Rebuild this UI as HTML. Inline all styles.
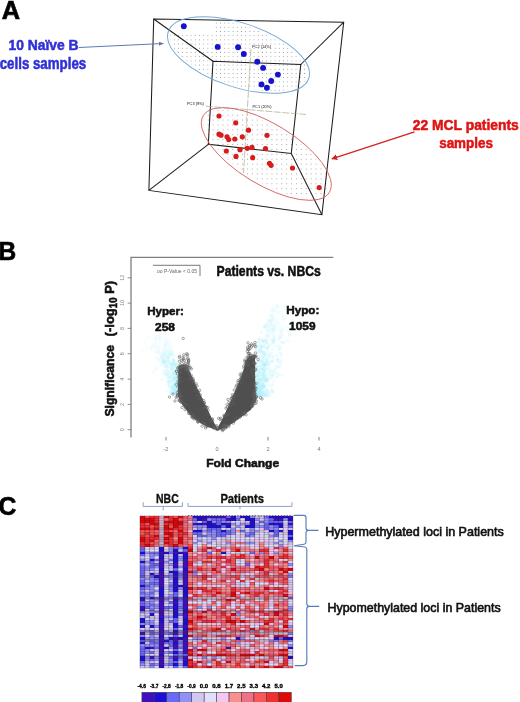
<!DOCTYPE html>
<html><head><meta charset="utf-8"><style>
html,body{margin:0;padding:0;background:#fff;width:520px;height:702px;overflow:hidden}
svg{display:block;filter:blur(0.3px)}
</style></head><body>
<svg width="520" height="702" viewBox="0 0 520 702" font-family="Liberation Sans, sans-serif">
<text x="1.7" y="18.6" font-size="26" font-weight="bold" fill="#000" stroke="#000" stroke-width="0.7" textLength="18.3" lengthAdjust="spacingAndGlyphs">A</text>
<defs><pattern id="dots" x="0" y="0" width="4.2" height="4.2" patternUnits="userSpaceOnUse"><rect x="1.6" y="1.6" width="0.9" height="0.9" fill="#999999"/></pattern><pattern id="dots2" x="0" y="0" width="4.9" height="4.9" patternUnits="userSpaceOnUse"><rect x="2" y="2" width="0.9" height="0.9" fill="#999999"/></pattern><clipPath id="cb"><ellipse cx="238.5" cy="55" rx="72" ry="30" transform="rotate(18.3 238.5 55)"/></clipPath><clipPath id="cr"><ellipse cx="266.3" cy="153.75" rx="71.5" ry="28" transform="rotate(31.35 266.3 153.75)"/></clipPath><marker id="ab" markerWidth="5" markerHeight="4" refX="4.5" refY="2" orient="auto" markerUnits="userSpaceOnUse"><path d="M0,0 L5,2 L0,4 z" fill="#5a7cb4"/></marker><marker id="ar" markerWidth="6" markerHeight="6" refX="5.5" refY="3" orient="auto" markerUnits="userSpaceOnUse"><path d="M0,0 L6,3 L0,6 z" fill="#d42020"/></marker></defs>
<path d="M150,34 L213,34 L213,10 L320,10 L320,105 L150,105 Z" fill="url(#dots)" clip-path="url(#cb)"/>
<rect x="190" y="100" width="150" height="110" fill="url(#dots2)" clip-path="url(#cr)"/>
<g fill="none" stroke="#1c1c1c" stroke-width="1.05">
<polygon points="153.7,19 343.7,22.2 321.9,214.7 148.9,190.4"/>
<polygon points="213,61.3 300.8,64.5 291.3,153.4 208.3,144.3"/>
<line x1="153.7" y1="19" x2="213" y2="61.3"/>
<line x1="343.7" y1="22.2" x2="300.8" y2="64.5"/>
<line x1="321.9" y1="214.7" x2="291.3" y2="153.4"/>
<line x1="148.9" y1="190.4" x2="208.3" y2="144.3"/>
</g>
<g stroke="#a8a888" stroke-width="0.7" stroke-dasharray="7,1.5" fill="none"><line x1="251" y1="49" x2="243.5" y2="173"/><line x1="206" y1="106.2" x2="306" y2="114.5"/></g>
<g font-size="3.9" fill="#111" font-family="Liberation Sans, sans-serif">
<text x="252" y="48">PC2 (14%)</text>
<text x="252.5" y="107.5">PC1 (20%)</text>
<text x="187" y="104.8">PC3 (9%)</text>
</g>
<ellipse cx="238.5" cy="55" rx="74" ry="32" transform="rotate(18.3 238.5 55)" fill="none" stroke="#78a8d4" stroke-width="0.95"/>
<ellipse cx="266.3" cy="154" rx="73.8" ry="30.4" transform="rotate(31.35 266.3 154)" fill="none" stroke="#d46060" stroke-width="0.85"/>
<circle cx="183.8" cy="26.2" r="2.95" fill="#1414d0"/>
<circle cx="217.7" cy="46.9" r="2.95" fill="#1414d0"/>
<circle cx="238.1" cy="47.3" r="2.95" fill="#1414d0"/>
<circle cx="243.8" cy="54" r="2.95" fill="#1414d0"/>
<circle cx="257.3" cy="61.7" r="2.95" fill="#1414d0"/>
<circle cx="263.1" cy="67.9" r="2.95" fill="#1414d0"/>
<circle cx="277.9" cy="74.6" r="2.95" fill="#1414d0"/>
<circle cx="271.2" cy="81" r="2.95" fill="#1414d0"/>
<circle cx="261.5" cy="84.4" r="2.95" fill="#1414d0"/>
<circle cx="266.9" cy="87.7" r="2.95" fill="#1414d0"/>
<circle cx="219" cy="116" r="2.6" fill="#d61c1c"/>
<circle cx="235.7" cy="122.8" r="2.6" fill="#d61c1c"/>
<circle cx="248.5" cy="130.2" r="2.6" fill="#d61c1c"/>
<circle cx="219" cy="134.2" r="2.6" fill="#d61c1c"/>
<circle cx="221" cy="135.2" r="2.6" fill="#d61c1c"/>
<circle cx="227" cy="136.8" r="2.6" fill="#d61c1c"/>
<circle cx="228.7" cy="139.6" r="2.6" fill="#d61c1c"/>
<circle cx="234.8" cy="139" r="2.6" fill="#d61c1c"/>
<circle cx="242.3" cy="136.8" r="2.6" fill="#d61c1c"/>
<circle cx="267" cy="135.3" r="2.6" fill="#d61c1c"/>
<circle cx="226.3" cy="151" r="2.6" fill="#d61c1c"/>
<circle cx="240" cy="149.7" r="2.6" fill="#d61c1c"/>
<circle cx="247.3" cy="148.3" r="2.6" fill="#d61c1c"/>
<circle cx="252" cy="147.4" r="2.6" fill="#d61c1c"/>
<circle cx="265.5" cy="148.6" r="2.6" fill="#d61c1c"/>
<circle cx="236" cy="156.4" r="2.6" fill="#d61c1c"/>
<circle cx="252.7" cy="157.7" r="2.6" fill="#d61c1c"/>
<circle cx="269.5" cy="163.3" r="2.6" fill="#d61c1c"/>
<circle cx="271.1" cy="165.3" r="2.6" fill="#d61c1c"/>
<circle cx="292.5" cy="168" r="2.6" fill="#d61c1c"/>
<circle cx="319.2" cy="187.6" r="2.6" fill="#d61c1c"/>
<line x1="78.7" y1="47.4" x2="163.3" y2="43.5" stroke="#5a7cb4" stroke-width="1.05" marker-end="url(#ab)"/>
<line x1="414.5" y1="131.8" x2="331.8" y2="158.8" stroke="#d42020" stroke-width="1.25" marker-end="url(#ar)"/>
<g font-weight="bold" fill="#3030d6" stroke="#3030d6" stroke-width="0.55">
<text x="8.5" y="50.2" font-size="15.4" textLength="70.1" lengthAdjust="spacingAndGlyphs">10 Na&#239;ve B</text>
<text x="-0.3" y="69.1" font-size="15.6" textLength="86.5" lengthAdjust="spacingAndGlyphs">cells samples</text>
</g>
<g font-weight="bold" fill="#e01414" stroke="#e01414" stroke-width="0.55">
<text x="412.8" y="129.5" font-size="14.4" textLength="106" lengthAdjust="spacingAndGlyphs">22 MCL patients</text>
<text x="439.2" y="148.2" font-size="14" textLength="53.7" lengthAdjust="spacingAndGlyphs">samples</text>
</g>
<text x="-1.5" y="260" font-size="25.5" font-weight="bold" fill="#000" stroke="#000" stroke-width="0.7" textLength="17.7" lengthAdjust="spacingAndGlyphs">B</text>
<path d="M131,437.5 V257.4 H333.3" fill="none" stroke="#808080" stroke-width="1.3"/>
<line x1="127.6" y1="429.7" x2="131" y2="429.7" stroke="#777" stroke-width="0.8"/>
<text transform="translate(124.2 429.7) rotate(-90)" font-size="5.4" fill="#888" text-anchor="middle">0</text>
<line x1="127.6" y1="404.4" x2="131" y2="404.4" stroke="#777" stroke-width="0.8"/>
<text transform="translate(124.2 404.4) rotate(-90)" font-size="5.4" fill="#888" text-anchor="middle">2</text>
<line x1="127.6" y1="379.1" x2="131" y2="379.1" stroke="#777" stroke-width="0.8"/>
<text transform="translate(124.2 379.1) rotate(-90)" font-size="5.4" fill="#888" text-anchor="middle">4</text>
<line x1="127.6" y1="353.7" x2="131" y2="353.7" stroke="#777" stroke-width="0.8"/>
<text transform="translate(124.2 353.7) rotate(-90)" font-size="5.4" fill="#888" text-anchor="middle">6</text>
<line x1="127.6" y1="328.4" x2="131" y2="328.4" stroke="#777" stroke-width="0.8"/>
<text transform="translate(124.2 328.4) rotate(-90)" font-size="5.4" fill="#888" text-anchor="middle">8</text>
<line x1="127.6" y1="303.1" x2="131" y2="303.1" stroke="#777" stroke-width="0.8"/>
<text transform="translate(124.2 303.1) rotate(-90)" font-size="5.4" fill="#888" text-anchor="middle">10</text>
<line x1="127.6" y1="277.8" x2="131" y2="277.8" stroke="#777" stroke-width="0.8"/>
<text transform="translate(124.2 277.8) rotate(-90)" font-size="5.4" fill="#888" text-anchor="middle">12</text>
<line x1="166" y1="437" x2="166" y2="440.5" stroke="#666" stroke-width="0.8"/>
<text x="166" y="450.6" font-size="5.6" fill="#777" text-anchor="middle">-2</text>
<text x="217" y="450.6" font-size="5.6" fill="#777" text-anchor="middle">0</text>
<line x1="268" y1="437" x2="268" y2="440.5" stroke="#666" stroke-width="0.8"/>
<text x="268" y="450.6" font-size="5.6" fill="#777" text-anchor="middle">2</text>
<line x1="319" y1="437" x2="319" y2="440.5" stroke="#666" stroke-width="0.8"/>
<text x="319" y="450.6" font-size="5.6" fill="#777" text-anchor="middle">4</text>
<path d="M153.1,265.3 H200 V276.1" fill="none" stroke="#555" stroke-width="0.8"/>
<text x="157" y="272.6" font-size="4.6" fill="#666" textLength="40" lengthAdjust="spacingAndGlyphs">oo  P-Value &lt; 0.05</text>
<g fill="#b0eef8" fill-opacity="0.2">
<circle cx="173.9" cy="384.7" r="1.7"/>
<circle cx="173.9" cy="362.9" r="1.7" fill-opacity="0.19"/>
<circle cx="174.4" cy="361.4" r="1.7" fill-opacity="0.18"/>
<circle cx="170.5" cy="346.4" r="1.7" fill-opacity="0.07"/>
<circle cx="177.2" cy="383.6" r="1.7"/>
<circle cx="153.9" cy="371.5" r="1.7"/>
<circle cx="154.9" cy="346.4" r="1.7" fill-opacity="0.07"/>
<circle cx="178" cy="388.9" r="1.7"/>
<circle cx="168" cy="360.8" r="1.7" fill-opacity="0.18"/>
<circle cx="164" cy="353.3" r="1.7" fill-opacity="0.12"/>
<circle cx="159.8" cy="358.3" r="1.7" fill-opacity="0.16"/>
<circle cx="170.7" cy="363.7" r="1.7" fill-opacity="0.20"/>
<circle cx="167.2" cy="381.4" r="1.7"/>
<circle cx="175.8" cy="371.3" r="1.7"/>
<circle cx="162.1" cy="354.9" r="1.7" fill-opacity="0.14"/>
<circle cx="155.6" cy="340.1" r="1.7" fill-opacity="0.05"/>
<circle cx="176.7" cy="376.1" r="1.7"/>
<circle cx="155.9" cy="339" r="1.7" fill-opacity="0.05"/>
<circle cx="165" cy="343.3" r="1.7" fill-opacity="0.05"/>
<circle cx="177.3" cy="385.8" r="1.7"/>
<circle cx="151.4" cy="336.7" r="1.7" fill-opacity="0.05"/>
<circle cx="175.7" cy="381.4" r="1.7"/>
<circle cx="172.6" cy="369.2" r="1.7"/>
<circle cx="171.3" cy="364.1" r="1.7"/>
<circle cx="165.7" cy="364.2" r="1.7"/>
<circle cx="158.3" cy="339.5" r="1.7" fill-opacity="0.05"/>
<circle cx="153.2" cy="345" r="1.7" fill-opacity="0.06"/>
<circle cx="178.6" cy="388.3" r="1.7"/>
<circle cx="145.6" cy="344.6" r="1.7" fill-opacity="0.06"/>
<circle cx="172.8" cy="365.2" r="1.7"/>
<circle cx="169.3" cy="355.3" r="1.7" fill-opacity="0.14"/>
<circle cx="161" cy="364.9" r="1.7"/>
<circle cx="168.4" cy="382.3" r="1.7"/>
<circle cx="157.6" cy="334.8" r="1.7" fill-opacity="0.05"/>
<circle cx="177.6" cy="391.4" r="1.7"/>
<circle cx="174.3" cy="388.9" r="1.7"/>
<circle cx="177.6" cy="381.8" r="1.7"/>
<circle cx="170.6" cy="393" r="1.7"/>
<circle cx="162.1" cy="362.1" r="1.7" fill-opacity="0.19"/>
<circle cx="176.2" cy="379.7" r="1.7"/>
<circle cx="156" cy="343.1" r="1.7" fill-opacity="0.05"/>
<circle cx="165.7" cy="334.1" r="1.7" fill-opacity="0.05"/>
<circle cx="171.7" cy="380.9" r="1.7"/>
<circle cx="176.4" cy="393.3" r="1.7"/>
<circle cx="173.1" cy="386.7" r="1.7"/>
<circle cx="175.4" cy="388.6" r="1.7"/>
<circle cx="176.6" cy="393" r="1.7"/>
<circle cx="160.2" cy="337.2" r="1.7" fill-opacity="0.05"/>
<circle cx="160.1" cy="341.9" r="1.7" fill-opacity="0.05"/>
<circle cx="171.7" cy="368.4" r="1.7"/>
<circle cx="165.5" cy="360.1" r="1.7" fill-opacity="0.17"/>
<circle cx="169.3" cy="361.8" r="1.7" fill-opacity="0.18"/>
<circle cx="155.3" cy="338.6" r="1.7" fill-opacity="0.05"/>
<circle cx="173.4" cy="354.8" r="1.7" fill-opacity="0.13"/>
<circle cx="174.2" cy="384.7" r="1.7"/>
<circle cx="156.6" cy="368.3" r="1.7"/>
<circle cx="168.7" cy="366.5" r="1.7"/>
<circle cx="176.1" cy="364.4" r="1.7"/>
<circle cx="174.7" cy="393.6" r="1.7"/>
<circle cx="175" cy="392.4" r="1.7"/>
<circle cx="162.2" cy="361.3" r="1.7" fill-opacity="0.18"/>
<circle cx="176.9" cy="378.5" r="1.7"/>
<circle cx="174" cy="355.8" r="1.7" fill-opacity="0.14"/>
<circle cx="178.1" cy="392.4" r="1.7"/>
<circle cx="167.5" cy="357.9" r="1.7" fill-opacity="0.16"/>
<circle cx="177.7" cy="372.4" r="1.7"/>
<circle cx="172.9" cy="363.6" r="1.7" fill-opacity="0.20"/>
<circle cx="173.7" cy="380.8" r="1.7"/>
<circle cx="174.4" cy="377.6" r="1.7"/>
<circle cx="175.8" cy="377.1" r="1.7"/>
<circle cx="158.8" cy="351.1" r="1.7" fill-opacity="0.11"/>
<circle cx="171.3" cy="353.8" r="1.7" fill-opacity="0.13"/>
<circle cx="177.1" cy="380.9" r="1.7"/>
<circle cx="169.2" cy="384.7" r="1.7"/>
<circle cx="171.8" cy="387.2" r="1.7"/>
<circle cx="176.2" cy="390.9" r="1.7"/>
<circle cx="173.1" cy="380.2" r="1.7"/>
<circle cx="167.1" cy="373.5" r="1.7"/>
<circle cx="165.7" cy="345" r="1.7" fill-opacity="0.06"/>
<circle cx="167.8" cy="359.7" r="1.7" fill-opacity="0.17"/>
<circle cx="161.9" cy="342.8" r="1.7" fill-opacity="0.05"/>
<circle cx="178" cy="390.2" r="1.7"/>
<circle cx="172.3" cy="367.7" r="1.7"/>
<circle cx="151.6" cy="346.3" r="1.7" fill-opacity="0.07"/>
<circle cx="177.4" cy="387.4" r="1.7"/>
<circle cx="158.7" cy="360.3" r="1.7" fill-opacity="0.17"/>
<circle cx="168.7" cy="348.7" r="1.7" fill-opacity="0.09"/>
<circle cx="176.4" cy="381.9" r="1.7"/>
<circle cx="170.9" cy="349.6" r="1.7" fill-opacity="0.10"/>
<circle cx="172.5" cy="374.8" r="1.7"/>
<circle cx="165.5" cy="374.6" r="1.7"/>
<circle cx="173.1" cy="388.6" r="1.7"/>
<circle cx="171.3" cy="393.9" r="1.7"/>
<circle cx="158.3" cy="335" r="1.7" fill-opacity="0.05"/>
<circle cx="163.2" cy="373.7" r="1.7"/>
<circle cx="175.2" cy="385.5" r="1.7"/>
<circle cx="165.2" cy="353" r="1.7" fill-opacity="0.12"/>
<circle cx="167.7" cy="368.4" r="1.7"/>
<circle cx="176.7" cy="382" r="1.7"/>
<circle cx="176.4" cy="392.2" r="1.7"/>
<circle cx="172.9" cy="363.9" r="1.7" fill-opacity="0.20"/>
<circle cx="171.6" cy="392.9" r="1.7"/>
<circle cx="160.1" cy="341.4" r="1.7" fill-opacity="0.05"/>
<circle cx="143.7" cy="341.9" r="1.7" fill-opacity="0.05"/>
<circle cx="168.1" cy="341.7" r="1.7" fill-opacity="0.05"/>
<circle cx="172.5" cy="353.1" r="1.7" fill-opacity="0.12"/>
<circle cx="176.7" cy="387.9" r="1.7"/>
<circle cx="166.4" cy="368" r="1.7"/>
<circle cx="170" cy="374.9" r="1.7"/>
<circle cx="175.7" cy="379.2" r="1.7"/>
<circle cx="174.9" cy="384" r="1.7"/>
<circle cx="163" cy="350.4" r="1.7" fill-opacity="0.10"/>
<circle cx="176.4" cy="378.6" r="1.7"/>
<circle cx="158.5" cy="347.9" r="1.7" fill-opacity="0.08"/>
<circle cx="176.1" cy="387.9" r="1.7"/>
<circle cx="147.5" cy="348.7" r="1.7" fill-opacity="0.09"/>
<circle cx="155.5" cy="347.4" r="1.7" fill-opacity="0.08"/>
<circle cx="170" cy="344.5" r="1.7" fill-opacity="0.06"/>
<circle cx="178.6" cy="392.8" r="1.7"/>
<circle cx="171.4" cy="367.9" r="1.7"/>
<circle cx="166.8" cy="374.4" r="1.7"/>
<circle cx="177.8" cy="394" r="1.7"/>
<circle cx="177.5" cy="392.6" r="1.7"/>
<circle cx="177.4" cy="392.2" r="1.7"/>
<circle cx="164.7" cy="336" r="1.7" fill-opacity="0.05"/>
<circle cx="175.6" cy="369.5" r="1.7"/>
<circle cx="176.7" cy="380.6" r="1.7"/>
<circle cx="167.3" cy="359.9" r="1.7" fill-opacity="0.17"/>
<circle cx="172.9" cy="364" r="1.7"/>
<circle cx="175.9" cy="379.9" r="1.7"/>
<circle cx="172.1" cy="390" r="1.7"/>
<circle cx="175.3" cy="376.9" r="1.7"/>
<circle cx="177.2" cy="391.8" r="1.7"/>
<circle cx="168.4" cy="362.8" r="1.7" fill-opacity="0.19"/>
<circle cx="158.1" cy="350.4" r="1.7" fill-opacity="0.10"/>
<circle cx="164.6" cy="361.6" r="1.7" fill-opacity="0.18"/>
<circle cx="173.1" cy="373.9" r="1.7"/>
<circle cx="165.7" cy="356.1" r="1.7" fill-opacity="0.14"/>
<circle cx="176.3" cy="374.5" r="1.7"/>
<circle cx="173.2" cy="384.4" r="1.7"/>
<circle cx="176.5" cy="367.3" r="1.7"/>
<circle cx="176.4" cy="374.3" r="1.7"/>
<circle cx="166.8" cy="374.2" r="1.7"/>
<circle cx="168.2" cy="377.3" r="1.7"/>
<circle cx="167.5" cy="341.8" r="1.7" fill-opacity="0.05"/>
<circle cx="173.3" cy="371.9" r="1.7"/>
<circle cx="176.4" cy="390.1" r="1.7"/>
<circle cx="153.6" cy="342.6" r="1.7" fill-opacity="0.05"/>
<circle cx="163.4" cy="349.7" r="1.7" fill-opacity="0.10"/>
<circle cx="165" cy="365.5" r="1.7"/>
<circle cx="178.6" cy="390.9" r="1.7"/>
<circle cx="178.8" cy="389.2" r="1.7"/>
<circle cx="168.1" cy="351" r="1.7" fill-opacity="0.11"/>
<circle cx="178.5" cy="391" r="1.7"/>
<circle cx="169.2" cy="343.2" r="1.7" fill-opacity="0.05"/>
<circle cx="168.9" cy="346.1" r="1.7" fill-opacity="0.07"/>
<circle cx="175.2" cy="390.1" r="1.7"/>
<circle cx="156.9" cy="346.5" r="1.7" fill-opacity="0.07"/>
<circle cx="148.2" cy="337.7" r="1.7" fill-opacity="0.05"/>
<circle cx="175.5" cy="393.2" r="1.7"/>
<circle cx="155.8" cy="351.5" r="1.7" fill-opacity="0.11"/>
<circle cx="178.5" cy="390.7" r="1.7"/>
<circle cx="169.8" cy="352.8" r="1.7" fill-opacity="0.12"/>
<circle cx="178.1" cy="380.1" r="1.7"/>
<circle cx="174" cy="365.5" r="1.7"/>
<circle cx="175.7" cy="387.6" r="1.7"/>
<circle cx="172" cy="384.1" r="1.7"/>
<circle cx="171.4" cy="376.1" r="1.7"/>
<circle cx="174.1" cy="377.7" r="1.7"/>
<circle cx="175" cy="374.7" r="1.7"/>
<circle cx="167.2" cy="391.6" r="1.7"/>
<circle cx="179" cy="375" r="1.7"/>
<circle cx="164.6" cy="352.9" r="1.7" fill-opacity="0.12"/>
<circle cx="159.2" cy="352.3" r="1.7" fill-opacity="0.12"/>
<circle cx="163.7" cy="358.1" r="1.7" fill-opacity="0.16"/>
<circle cx="174.3" cy="360.2" r="1.7" fill-opacity="0.17"/>
<circle cx="166.7" cy="341.9" r="1.7" fill-opacity="0.05"/>
<circle cx="169.4" cy="352.9" r="1.7" fill-opacity="0.12"/>
<circle cx="156" cy="340.4" r="1.7" fill-opacity="0.05"/>
<circle cx="172.7" cy="354.9" r="1.7" fill-opacity="0.14"/>
<circle cx="178.6" cy="387.3" r="1.7"/>
<circle cx="170.8" cy="364.1" r="1.7"/>
<circle cx="178" cy="380.6" r="1.7"/>
<circle cx="148.8" cy="337.6" r="1.7" fill-opacity="0.05"/>
<circle cx="177.3" cy="381.7" r="1.7"/>
<circle cx="159.2" cy="345.2" r="1.7" fill-opacity="0.07"/>
<circle cx="176" cy="364.1" r="1.7"/>
<circle cx="176.2" cy="393.6" r="1.7"/>
<circle cx="175.2" cy="370.9" r="1.7"/>
<circle cx="176.3" cy="378.1" r="1.7"/>
<circle cx="178.5" cy="380.2" r="1.7"/>
<circle cx="160.4" cy="334.7" r="1.7" fill-opacity="0.05"/>
<circle cx="171.7" cy="370.9" r="1.7"/>
<circle cx="163.8" cy="346.6" r="1.7" fill-opacity="0.08"/>
<circle cx="159.4" cy="347.5" r="1.7" fill-opacity="0.08"/>
<circle cx="169.7" cy="354.8" r="1.7" fill-opacity="0.13"/>
<circle cx="155.3" cy="344.9" r="1.7" fill-opacity="0.06"/>
<circle cx="156" cy="337.1" r="1.7" fill-opacity="0.05"/>
<circle cx="178.2" cy="371.7" r="1.7"/>
<circle cx="166.5" cy="355" r="1.7" fill-opacity="0.14"/>
<circle cx="156.3" cy="358" r="1.7" fill-opacity="0.16"/>
<circle cx="176.2" cy="384.5" r="1.7"/>
<circle cx="178.8" cy="387.1" r="1.7"/>
<circle cx="167.7" cy="355.9" r="1.7" fill-opacity="0.14"/>
<circle cx="163.5" cy="344.8" r="1.7" fill-opacity="0.06"/>
<circle cx="165.3" cy="344.3" r="1.7" fill-opacity="0.06"/>
<circle cx="170.2" cy="380.7" r="1.7"/>
<circle cx="175.7" cy="391.5" r="1.7"/>
<circle cx="177.1" cy="391.3" r="1.7"/>
<circle cx="174.3" cy="378.3" r="1.7"/>
<circle cx="176.3" cy="364.4" r="1.7"/>
<circle cx="178.3" cy="379.5" r="1.7"/>
<circle cx="174" cy="373.6" r="1.7"/>
<circle cx="176.1" cy="364.1" r="1.7"/>
<circle cx="156" cy="337.5" r="1.7" fill-opacity="0.05"/>
<circle cx="175.3" cy="390.2" r="1.7"/>
<circle cx="177.6" cy="382.8" r="1.7"/>
<circle cx="165" cy="342.6" r="1.7" fill-opacity="0.05"/>
<circle cx="145.3" cy="341" r="1.7" fill-opacity="0.05"/>
<circle cx="169.9" cy="377.3" r="1.7"/>
<circle cx="172.3" cy="351.1" r="1.7" fill-opacity="0.11"/>
<circle cx="166.6" cy="357.9" r="1.7" fill-opacity="0.16"/>
<circle cx="172.7" cy="359.4" r="1.7" fill-opacity="0.17"/>
<circle cx="165.3" cy="352.4" r="1.7" fill-opacity="0.12"/>
<circle cx="160.9" cy="337" r="1.7" fill-opacity="0.05"/>
<circle cx="174" cy="390.5" r="1.7"/>
<circle cx="170.9" cy="370" r="1.7"/>
<circle cx="162.2" cy="357.8" r="1.7" fill-opacity="0.16"/>
<circle cx="171.9" cy="365.3" r="1.7"/>
<circle cx="163.6" cy="361" r="1.7" fill-opacity="0.18"/>
<circle cx="173.3" cy="387.6" r="1.7"/>
<circle cx="174.7" cy="390.1" r="1.7"/>
<circle cx="162" cy="339.3" r="1.7" fill-opacity="0.05"/>
<circle cx="166.7" cy="354.8" r="1.7" fill-opacity="0.13"/>
<circle cx="164.3" cy="363.3" r="1.7" fill-opacity="0.19"/>
<circle cx="175.3" cy="372.3" r="1.7"/>
<circle cx="178" cy="380.8" r="1.7"/>
<circle cx="170.5" cy="355.1" r="1.7" fill-opacity="0.14"/>
<circle cx="156.3" cy="352.4" r="1.7" fill-opacity="0.12"/>
<circle cx="176.1" cy="378.1" r="1.7"/>
<circle cx="170.4" cy="383.3" r="1.7"/>
<circle cx="173.4" cy="393" r="1.7"/>
<circle cx="178" cy="369.3" r="1.7"/>
<circle cx="167.9" cy="378.4" r="1.7"/>
<circle cx="172.5" cy="379.6" r="1.7"/>
<circle cx="165" cy="351.2" r="1.7" fill-opacity="0.11"/>
<circle cx="177.2" cy="378.5" r="1.7"/>
<circle cx="176.7" cy="383" r="1.7"/>
<circle cx="173.1" cy="391" r="1.7"/>
<circle cx="162" cy="354.3" r="1.7" fill-opacity="0.13"/>
<circle cx="177" cy="387.3" r="1.7"/>
<circle cx="163.2" cy="353.2" r="1.7" fill-opacity="0.12"/>
<circle cx="171.7" cy="348" r="1.7" fill-opacity="0.09"/>
<circle cx="172.6" cy="389.1" r="1.7"/>
<circle cx="176.1" cy="375.9" r="1.7"/>
<circle cx="167.1" cy="365.2" r="1.7"/>
<circle cx="179" cy="386.5" r="1.7"/>
<circle cx="171.8" cy="393.4" r="1.7"/>
<circle cx="150.8" cy="348.9" r="1.7" fill-opacity="0.09"/>
<circle cx="168.6" cy="376.8" r="1.7"/>
<circle cx="166.9" cy="366.2" r="1.7"/>
<circle cx="158.7" cy="335.8" r="1.7" fill-opacity="0.05"/>
<circle cx="168.6" cy="357.2" r="1.7" fill-opacity="0.15"/>
<circle cx="164" cy="370.6" r="1.7"/>
<circle cx="176.2" cy="363" r="1.7" fill-opacity="0.19"/>
<circle cx="172" cy="351.3" r="1.7" fill-opacity="0.11"/>
<circle cx="163.4" cy="358.9" r="1.7" fill-opacity="0.16"/>
<circle cx="178.5" cy="372.1" r="1.7"/>
<circle cx="177.6" cy="386.9" r="1.7"/>
<circle cx="177.9" cy="369.6" r="1.7"/>
<circle cx="163.9" cy="360" r="1.7" fill-opacity="0.17"/>
<circle cx="162.7" cy="337.2" r="1.7" fill-opacity="0.05"/>
<circle cx="155.8" cy="342.3" r="1.7" fill-opacity="0.05"/>
<circle cx="163.6" cy="361.5" r="1.7" fill-opacity="0.18"/>
<circle cx="177.1" cy="392.8" r="1.7"/>
<circle cx="176.6" cy="391.8" r="1.7"/>
<circle cx="170.9" cy="367.1" r="1.7"/>
<circle cx="166" cy="343.9" r="1.7" fill-opacity="0.06"/>
<circle cx="161.3" cy="356.6" r="1.7" fill-opacity="0.15"/>
<circle cx="163.1" cy="363" r="1.7" fill-opacity="0.19"/>
<circle cx="164.9" cy="339.6" r="1.7" fill-opacity="0.05"/>
<circle cx="168.7" cy="379" r="1.7"/>
<circle cx="151.6" cy="348.6" r="1.7" fill-opacity="0.09"/>
<circle cx="173" cy="373.5" r="1.7"/>
<circle cx="168" cy="352.2" r="1.7" fill-opacity="0.12"/>
<circle cx="178.8" cy="393" r="1.7"/>
<circle cx="178.2" cy="391.8" r="1.7"/>
<circle cx="173.9" cy="369.8" r="1.7"/>
<circle cx="164.1" cy="356.3" r="1.7" fill-opacity="0.15"/>
<circle cx="173" cy="359.8" r="1.7" fill-opacity="0.17"/>
<circle cx="169.1" cy="381.2" r="1.7"/>
<circle cx="176.4" cy="375.7" r="1.7"/>
<circle cx="172.5" cy="387.5" r="1.7"/>
<circle cx="172.8" cy="377.7" r="1.7"/>
<circle cx="170.2" cy="377.5" r="1.7"/>
<circle cx="177.7" cy="385.4" r="1.7"/>
<circle cx="177.2" cy="394" r="1.7"/>
<circle cx="170.9" cy="389.2" r="1.7"/>
<circle cx="177.3" cy="372.1" r="1.7"/>
<circle cx="175.8" cy="388" r="1.7"/>
<circle cx="178.2" cy="375.5" r="1.7"/>
<circle cx="178.1" cy="390.6" r="1.7"/>
<circle cx="177.3" cy="388.1" r="1.7"/>
<circle cx="178.9" cy="393.6" r="1.7"/>
<circle cx="169.4" cy="372.9" r="1.7"/>
<circle cx="175.4" cy="392.7" r="1.7"/>
<circle cx="177.7" cy="375.6" r="1.7"/>
<circle cx="166.6" cy="336.7" r="1.7" fill-opacity="0.05"/>
<circle cx="174" cy="385.7" r="1.7"/>
<circle cx="175.9" cy="388.2" r="1.7"/>
<circle cx="173.2" cy="361.6" r="1.7" fill-opacity="0.18"/>
<circle cx="177.2" cy="392.7" r="1.7"/>
<circle cx="170.8" cy="354.3" r="1.7" fill-opacity="0.13"/>
<circle cx="165.8" cy="371.8" r="1.7"/>
<circle cx="166.1" cy="339.2" r="1.7" fill-opacity="0.05"/>
<circle cx="174.9" cy="383.3" r="1.7"/>
<circle cx="164.6" cy="348" r="1.7" fill-opacity="0.09"/>
<circle cx="176" cy="391.2" r="1.7"/>
<circle cx="161.7" cy="357.5" r="1.7" fill-opacity="0.15"/>
<circle cx="178" cy="394" r="1.7"/>
<circle cx="176.9" cy="393.4" r="1.7"/>
<circle cx="177.6" cy="393.2" r="1.7"/>
<circle cx="173.9" cy="392.7" r="1.7"/>
<circle cx="169.8" cy="386.6" r="1.7"/>
<circle cx="144.5" cy="336" r="1.7" fill-opacity="0.05"/>
<circle cx="166.2" cy="340.4" r="1.7" fill-opacity="0.05"/>
<circle cx="158.3" cy="338.6" r="1.7" fill-opacity="0.05"/>
<circle cx="174.6" cy="362.7" r="1.7" fill-opacity="0.19"/>
<circle cx="159.7" cy="338.1" r="1.7" fill-opacity="0.05"/>
<circle cx="165.9" cy="345.4" r="1.7" fill-opacity="0.07"/>
<circle cx="175.8" cy="390.4" r="1.7"/>
<circle cx="169" cy="357.7" r="1.7" fill-opacity="0.15"/>
<circle cx="159.7" cy="339.5" r="1.7" fill-opacity="0.05"/>
<circle cx="158.3" cy="353.9" r="1.7" fill-opacity="0.13"/>
<circle cx="146.5" cy="346.5" r="1.7" fill-opacity="0.07"/>
<circle cx="174.1" cy="377.9" r="1.7"/>
<circle cx="177.4" cy="374.9" r="1.7"/>
<circle cx="165.4" cy="370.9" r="1.7"/>
<circle cx="174.6" cy="383.1" r="1.7"/>
<circle cx="163.6" cy="362.7" r="1.7" fill-opacity="0.19"/>
<circle cx="165.2" cy="355.5" r="1.7" fill-opacity="0.14"/>
<circle cx="175.3" cy="388.7" r="1.7"/>
<circle cx="162.8" cy="355.5" r="1.7" fill-opacity="0.14"/>
<circle cx="171.3" cy="352.1" r="1.7" fill-opacity="0.12"/>
<circle cx="168.9" cy="357.8" r="1.7" fill-opacity="0.16"/>
<circle cx="166.2" cy="345.9" r="1.7" fill-opacity="0.07"/>
<circle cx="161.7" cy="360.2" r="1.7" fill-opacity="0.17"/>
<circle cx="168.6" cy="372.8" r="1.7"/>
<circle cx="168.8" cy="341.9" r="1.7" fill-opacity="0.05"/>
<circle cx="173.1" cy="377.5" r="1.7"/>
<circle cx="170.3" cy="392" r="1.7"/>
<circle cx="172.3" cy="390.8" r="1.7"/>
<circle cx="174.2" cy="365.2" r="1.7"/>
<circle cx="172.9" cy="359.8" r="1.7" fill-opacity="0.17"/>
<circle cx="176" cy="384.6" r="1.7"/>
<circle cx="173.8" cy="360.1" r="1.7" fill-opacity="0.17"/>
<circle cx="170.3" cy="364.1" r="1.7"/>
<circle cx="167.7" cy="336.5" r="1.7" fill-opacity="0.05"/>
<circle cx="173.9" cy="385.6" r="1.7"/>
<circle cx="168.2" cy="350.5" r="1.7" fill-opacity="0.10"/>
<circle cx="173.6" cy="362.8" r="1.7" fill-opacity="0.19"/>
<circle cx="172.9" cy="387.2" r="1.7"/>
<circle cx="170.8" cy="387.7" r="1.7"/>
<circle cx="174.9" cy="390.5" r="1.7"/>
<circle cx="176.3" cy="393.5" r="1.7"/>
<circle cx="168.3" cy="342.2" r="1.7" fill-opacity="0.05"/>
<circle cx="176" cy="391.5" r="1.7"/>
<circle cx="169.7" cy="346.9" r="1.7" fill-opacity="0.08"/>
<circle cx="166.3" cy="362.1" r="1.7" fill-opacity="0.19"/>
<circle cx="154.7" cy="343.8" r="1.7" fill-opacity="0.06"/>
<circle cx="173.4" cy="378.9" r="1.7"/>
<circle cx="176" cy="390.6" r="1.7"/>
<circle cx="153.7" cy="346.5" r="1.7" fill-opacity="0.08"/>
<circle cx="173.6" cy="386.3" r="1.7"/>
<circle cx="164.5" cy="367.1" r="1.7"/>
<circle cx="177.4" cy="391.9" r="1.7"/>
<circle cx="176.5" cy="378.9" r="1.7"/>
<circle cx="177" cy="366.2" r="1.7"/>
<circle cx="160.2" cy="353.8" r="1.7" fill-opacity="0.13"/>
<circle cx="170.1" cy="362.7" r="1.7" fill-opacity="0.19"/>
<circle cx="168.7" cy="385.9" r="1.7"/>
<circle cx="162.2" cy="379.5" r="1.7"/>
<circle cx="174.6" cy="373.9" r="1.7"/>
<circle cx="177.3" cy="388.2" r="1.7"/>
<circle cx="165.4" cy="339.3" r="1.7" fill-opacity="0.05"/>
<circle cx="165.9" cy="362.3" r="1.7" fill-opacity="0.19"/>
<circle cx="175.3" cy="374.7" r="1.7"/>
<circle cx="167.8" cy="370.6" r="1.7"/>
<circle cx="145.5" cy="340.1" r="1.7" fill-opacity="0.05"/>
<circle cx="175.5" cy="381.9" r="1.7"/>
<circle cx="177.9" cy="391.2" r="1.7"/>
<circle cx="170.4" cy="354.7" r="1.7" fill-opacity="0.13"/>
<circle cx="164.6" cy="360.5" r="1.7" fill-opacity="0.17"/>
<circle cx="178.9" cy="393.1" r="1.7"/>
<circle cx="173.2" cy="373.8" r="1.7"/>
<circle cx="178.5" cy="379" r="1.7"/>
<circle cx="169.2" cy="382.1" r="1.7"/>
<circle cx="177.6" cy="390.9" r="1.7"/>
<circle cx="174.7" cy="391.8" r="1.7"/>
<circle cx="178.4" cy="388.8" r="1.7"/>
<circle cx="147.6" cy="335.8" r="1.7" fill-opacity="0.05"/>
<circle cx="158.9" cy="335.6" r="1.7" fill-opacity="0.05"/>
<circle cx="175.7" cy="388.4" r="1.7"/>
<circle cx="171.7" cy="380.8" r="1.7"/>
<circle cx="175.1" cy="366.9" r="1.7"/>
<circle cx="175.8" cy="378.1" r="1.7"/>
<circle cx="174.1" cy="371.9" r="1.7"/>
<circle cx="166.6" cy="342.7" r="1.7" fill-opacity="0.05"/>
<circle cx="174.7" cy="384.5" r="1.7"/>
<circle cx="166" cy="348.6" r="1.7" fill-opacity="0.09"/>
<circle cx="177.4" cy="367.7" r="1.7"/>
<circle cx="176.3" cy="367.3" r="1.7"/>
<circle cx="177.6" cy="386.4" r="1.7"/>
<circle cx="143.3" cy="351.3" r="1.7" fill-opacity="0.11"/>
<circle cx="165.9" cy="350.2" r="1.7" fill-opacity="0.10"/>
<circle cx="159.8" cy="335.6" r="1.7" fill-opacity="0.05"/>
<circle cx="178.4" cy="393.8" r="1.7"/>
<circle cx="177.8" cy="373.8" r="1.7"/>
<circle cx="175.1" cy="366.7" r="1.7"/>
<circle cx="177.7" cy="391.2" r="1.7"/>
<circle cx="270.7" cy="334.1" r="1.7" fill-opacity="0.15"/>
<circle cx="255.7" cy="376.8" r="1.7"/>
<circle cx="258.3" cy="375.9" r="1.7"/>
<circle cx="268.9" cy="356.2" r="1.7"/>
<circle cx="289.8" cy="333.2" r="1.7" fill-opacity="0.15"/>
<circle cx="263.2" cy="388.6" r="1.7"/>
<circle cx="278.6" cy="335.9" r="1.7" fill-opacity="0.16"/>
<circle cx="262.2" cy="368.7" r="1.7"/>
<circle cx="263.6" cy="386.7" r="1.7"/>
<circle cx="264.4" cy="392.3" r="1.7"/>
<circle cx="268.4" cy="320.4" r="1.7" fill-opacity="0.09"/>
<circle cx="283.5" cy="319" r="1.7" fill-opacity="0.08"/>
<circle cx="271.9" cy="315.5" r="1.7" fill-opacity="0.07"/>
<circle cx="273.3" cy="332.5" r="1.7" fill-opacity="0.14"/>
<circle cx="262.4" cy="367.8" r="1.7"/>
<circle cx="259.4" cy="392.2" r="1.7"/>
<circle cx="283.9" cy="305.3" r="1.7" fill-opacity="0.05"/>
<circle cx="264.6" cy="364.9" r="1.7"/>
<circle cx="260.5" cy="373.7" r="1.7"/>
<circle cx="296.3" cy="334" r="1.7" fill-opacity="0.15"/>
<circle cx="260.1" cy="392.8" r="1.7"/>
<circle cx="263.4" cy="384.5" r="1.7"/>
<circle cx="265.4" cy="327.2" r="1.7" fill-opacity="0.12"/>
<circle cx="280" cy="330.6" r="1.7" fill-opacity="0.14"/>
<circle cx="258.7" cy="395.8" r="1.7"/>
<circle cx="269" cy="362.1" r="1.7"/>
<circle cx="258.1" cy="386.7" r="1.7"/>
<circle cx="261.6" cy="346.4" r="1.7"/>
<circle cx="259" cy="351.4" r="1.7"/>
<circle cx="273.6" cy="380.5" r="1.7"/>
<circle cx="272.8" cy="310.5" r="1.7" fill-opacity="0.05"/>
<circle cx="266" cy="354.4" r="1.7"/>
<circle cx="269" cy="391.8" r="1.7"/>
<circle cx="259.1" cy="379.6" r="1.7"/>
<circle cx="261.1" cy="387.2" r="1.7"/>
<circle cx="278" cy="312.1" r="1.7" fill-opacity="0.05"/>
<circle cx="258.2" cy="378.9" r="1.7"/>
<circle cx="259.3" cy="386.6" r="1.7"/>
<circle cx="277" cy="307.3" r="1.7" fill-opacity="0.05"/>
<circle cx="256" cy="395" r="1.7"/>
<circle cx="259.3" cy="395" r="1.7"/>
<circle cx="256.4" cy="367" r="1.7"/>
<circle cx="281.2" cy="355.8" r="1.7"/>
<circle cx="273.3" cy="331.9" r="1.7" fill-opacity="0.14"/>
<circle cx="271.3" cy="310.3" r="1.7" fill-opacity="0.05"/>
<circle cx="256.2" cy="395.2" r="1.7"/>
<circle cx="263.7" cy="387.4" r="1.7"/>
<circle cx="263.7" cy="365" r="1.7"/>
<circle cx="272.8" cy="310.9" r="1.7" fill-opacity="0.05"/>
<circle cx="258.6" cy="393.2" r="1.7"/>
<circle cx="276.1" cy="305.2" r="1.7" fill-opacity="0.05"/>
<circle cx="260.3" cy="350.7" r="1.7"/>
<circle cx="258" cy="395.5" r="1.7"/>
<circle cx="262.2" cy="339.9" r="1.7" fill-opacity="0.18"/>
<circle cx="270.1" cy="331.3" r="1.7" fill-opacity="0.14"/>
<circle cx="295.5" cy="323.7" r="1.7" fill-opacity="0.11"/>
<circle cx="264.3" cy="366.2" r="1.7"/>
<circle cx="262.3" cy="379.7" r="1.7"/>
<circle cx="277.8" cy="306.1" r="1.7" fill-opacity="0.05"/>
<circle cx="258.3" cy="386.6" r="1.7"/>
<circle cx="257.9" cy="393.8" r="1.7"/>
<circle cx="258.4" cy="381.9" r="1.7"/>
<circle cx="256.8" cy="391.3" r="1.7"/>
<circle cx="297.1" cy="313.8" r="1.7" fill-opacity="0.06"/>
<circle cx="255.9" cy="388.6" r="1.7"/>
<circle cx="264.6" cy="381.8" r="1.7"/>
<circle cx="260.8" cy="347.2" r="1.7"/>
<circle cx="262.6" cy="384.6" r="1.7"/>
<circle cx="259" cy="341.4" r="1.7" fill-opacity="0.18"/>
<circle cx="274.4" cy="336.9" r="1.7" fill-opacity="0.16"/>
<circle cx="260.9" cy="365.8" r="1.7"/>
<circle cx="273.4" cy="374.8" r="1.7"/>
<circle cx="258.1" cy="390.9" r="1.7"/>
<circle cx="277.9" cy="359.9" r="1.7"/>
<circle cx="260.5" cy="391.8" r="1.7"/>
<circle cx="274.1" cy="310" r="1.7" fill-opacity="0.05"/>
<circle cx="259.2" cy="387.5" r="1.7"/>
<circle cx="272.6" cy="390.8" r="1.7"/>
<circle cx="263.8" cy="377.6" r="1.7"/>
<circle cx="266.5" cy="324" r="1.7" fill-opacity="0.11"/>
<circle cx="266.2" cy="324.4" r="1.7" fill-opacity="0.11"/>
<circle cx="282.5" cy="335.3" r="1.7" fill-opacity="0.16"/>
<circle cx="256.4" cy="367.1" r="1.7"/>
<circle cx="274" cy="339.1" r="1.7" fill-opacity="0.17"/>
<circle cx="262.1" cy="374.9" r="1.7"/>
<circle cx="259.8" cy="393.1" r="1.7"/>
<circle cx="261.2" cy="369" r="1.7"/>
<circle cx="258.9" cy="380.4" r="1.7"/>
<circle cx="266.5" cy="359.2" r="1.7"/>
<circle cx="287.3" cy="307.2" r="1.7" fill-opacity="0.05"/>
<circle cx="273.5" cy="329.5" r="1.7" fill-opacity="0.13"/>
<circle cx="261.3" cy="386.3" r="1.7"/>
<circle cx="256.2" cy="393.9" r="1.7"/>
<circle cx="256.6" cy="369.5" r="1.7"/>
<circle cx="268" cy="354.2" r="1.7"/>
<circle cx="263.4" cy="386.6" r="1.7"/>
<circle cx="257.8" cy="371.6" r="1.7"/>
<circle cx="279" cy="366.5" r="1.7"/>
<circle cx="278.9" cy="366.8" r="1.7"/>
<circle cx="258.2" cy="374.9" r="1.7"/>
<circle cx="257.9" cy="376.2" r="1.7"/>
<circle cx="264.1" cy="327.7" r="1.7" fill-opacity="0.12"/>
<circle cx="268.3" cy="326.7" r="1.7" fill-opacity="0.12"/>
<circle cx="263.8" cy="379.6" r="1.7"/>
<circle cx="256.2" cy="390.2" r="1.7"/>
<circle cx="264.8" cy="364.8" r="1.7"/>
<circle cx="273.7" cy="324.8" r="1.7" fill-opacity="0.11"/>
<circle cx="263.9" cy="346.2" r="1.7"/>
<circle cx="262.5" cy="369.1" r="1.7"/>
<circle cx="264.6" cy="378.4" r="1.7"/>
<circle cx="278.2" cy="323.6" r="1.7" fill-opacity="0.11"/>
<circle cx="260.8" cy="361" r="1.7"/>
<circle cx="260.3" cy="380.6" r="1.7"/>
<circle cx="259" cy="357.7" r="1.7"/>
<circle cx="258" cy="384.1" r="1.7"/>
<circle cx="264.5" cy="386.5" r="1.7"/>
<circle cx="270.7" cy="316.6" r="1.7" fill-opacity="0.07"/>
<circle cx="257.2" cy="366.2" r="1.7"/>
<circle cx="288.9" cy="329.1" r="1.7" fill-opacity="0.13"/>
<circle cx="283.2" cy="317.9" r="1.7" fill-opacity="0.08"/>
<circle cx="258.7" cy="394" r="1.7"/>
<circle cx="275.5" cy="322.9" r="1.7" fill-opacity="0.10"/>
<circle cx="275.5" cy="321.4" r="1.7" fill-opacity="0.09"/>
<circle cx="260.6" cy="386.3" r="1.7"/>
<circle cx="277.6" cy="359.4" r="1.7"/>
<circle cx="260.7" cy="394.9" r="1.7"/>
<circle cx="256.4" cy="396" r="1.7"/>
<circle cx="266.9" cy="329.9" r="1.7" fill-opacity="0.13"/>
<circle cx="262" cy="379.2" r="1.7"/>
<circle cx="269.6" cy="368.5" r="1.7"/>
<circle cx="263.7" cy="352.5" r="1.7"/>
<circle cx="277.4" cy="375.3" r="1.7"/>
<circle cx="279.2" cy="348.7" r="1.7"/>
<circle cx="264.4" cy="394.9" r="1.7"/>
<circle cx="277.9" cy="305.4" r="1.7" fill-opacity="0.05"/>
<circle cx="261.9" cy="395.3" r="1.7"/>
<circle cx="256.1" cy="376.5" r="1.7"/>
<circle cx="271.3" cy="320.7" r="1.7" fill-opacity="0.09"/>
<circle cx="262.9" cy="376.8" r="1.7"/>
<circle cx="261.7" cy="361.2" r="1.7"/>
<circle cx="259.5" cy="379" r="1.7"/>
<circle cx="256.3" cy="394.8" r="1.7"/>
<circle cx="271" cy="314.5" r="1.7" fill-opacity="0.06"/>
<circle cx="259.7" cy="367.3" r="1.7"/>
<circle cx="256.8" cy="389.4" r="1.7"/>
<circle cx="263.4" cy="372.5" r="1.7"/>
<circle cx="262.7" cy="386.4" r="1.7"/>
<circle cx="277.8" cy="306.9" r="1.7" fill-opacity="0.05"/>
<circle cx="262.3" cy="390.8" r="1.7"/>
<circle cx="258.8" cy="385.6" r="1.7"/>
<circle cx="259.1" cy="366.5" r="1.7"/>
<circle cx="269.3" cy="357.1" r="1.7"/>
<circle cx="282.5" cy="318.4" r="1.7" fill-opacity="0.08"/>
<circle cx="264.6" cy="326.2" r="1.7" fill-opacity="0.12"/>
<circle cx="259.3" cy="395.4" r="1.7"/>
<circle cx="257.9" cy="375.6" r="1.7"/>
<circle cx="272.6" cy="324.2" r="1.7" fill-opacity="0.11"/>
<circle cx="262.4" cy="390.2" r="1.7"/>
<circle cx="268" cy="394" r="1.7"/>
<circle cx="273.8" cy="317.8" r="1.7" fill-opacity="0.08"/>
<circle cx="258.2" cy="391.5" r="1.7"/>
<circle cx="261" cy="395.7" r="1.7"/>
<circle cx="263.6" cy="327.1" r="1.7" fill-opacity="0.12"/>
<circle cx="275.8" cy="329.8" r="1.7" fill-opacity="0.13"/>
<circle cx="258.6" cy="379.2" r="1.7"/>
<circle cx="255.5" cy="391.9" r="1.7"/>
<circle cx="267.2" cy="348.3" r="1.7"/>
<circle cx="259.9" cy="382.8" r="1.7"/>
<circle cx="259.9" cy="374.8" r="1.7"/>
<circle cx="256" cy="363.1" r="1.7"/>
<circle cx="265.8" cy="390.2" r="1.7"/>
<circle cx="262.4" cy="351.2" r="1.7"/>
<circle cx="263.3" cy="341" r="1.7" fill-opacity="0.18"/>
<circle cx="267.2" cy="378.8" r="1.7"/>
<circle cx="259.9" cy="356.2" r="1.7"/>
<circle cx="271.5" cy="374.8" r="1.7"/>
<circle cx="272" cy="325.9" r="1.7" fill-opacity="0.12"/>
<circle cx="262.8" cy="370.5" r="1.7"/>
<circle cx="271.1" cy="320.1" r="1.7" fill-opacity="0.09"/>
<circle cx="260.3" cy="349.4" r="1.7"/>
<circle cx="287.2" cy="306.3" r="1.7" fill-opacity="0.05"/>
<circle cx="264.9" cy="382.4" r="1.7"/>
<circle cx="255.7" cy="391.9" r="1.7"/>
<circle cx="268.8" cy="345.5" r="1.7"/>
<circle cx="272.6" cy="361.1" r="1.7"/>
<circle cx="266.7" cy="394.3" r="1.7"/>
<circle cx="259" cy="371.7" r="1.7"/>
<circle cx="263.7" cy="365.7" r="1.7"/>
<circle cx="264.2" cy="370.3" r="1.7"/>
<circle cx="259.2" cy="361.2" r="1.7"/>
<circle cx="259" cy="394.7" r="1.7"/>
<circle cx="270.1" cy="339.7" r="1.7" fill-opacity="0.18"/>
<circle cx="269.5" cy="321.1" r="1.7" fill-opacity="0.09"/>
<circle cx="300.8" cy="322.2" r="1.7" fill-opacity="0.10"/>
<circle cx="273.4" cy="329.4" r="1.7" fill-opacity="0.13"/>
<circle cx="257.7" cy="341.4" r="1.7" fill-opacity="0.18"/>
<circle cx="257.6" cy="350.2" r="1.7"/>
<circle cx="266.8" cy="343.1" r="1.7" fill-opacity="0.19"/>
<circle cx="266.6" cy="362.9" r="1.7"/>
<circle cx="258.4" cy="388.4" r="1.7"/>
<circle cx="266.2" cy="379.5" r="1.7"/>
<circle cx="260.3" cy="394.3" r="1.7"/>
<circle cx="260.3" cy="344.4" r="1.7" fill-opacity="0.20"/>
<circle cx="258.8" cy="392.1" r="1.7"/>
<circle cx="259.2" cy="377.7" r="1.7"/>
<circle cx="258.7" cy="361.9" r="1.7"/>
<circle cx="257.7" cy="371.2" r="1.7"/>
<circle cx="259.4" cy="390.9" r="1.7"/>
<circle cx="255.6" cy="394.5" r="1.7"/>
<circle cx="276" cy="365.9" r="1.7"/>
<circle cx="265.8" cy="368.1" r="1.7"/>
<circle cx="262.1" cy="378.5" r="1.7"/>
<circle cx="258" cy="384.5" r="1.7"/>
<circle cx="287.3" cy="313.5" r="1.7" fill-opacity="0.06"/>
<circle cx="272.3" cy="371.8" r="1.7"/>
<circle cx="257.4" cy="375.5" r="1.7"/>
<circle cx="271.8" cy="391.5" r="1.7"/>
<circle cx="263.6" cy="362.4" r="1.7"/>
<circle cx="255.8" cy="389.8" r="1.7"/>
<circle cx="276.1" cy="306.4" r="1.7" fill-opacity="0.05"/>
<circle cx="284.9" cy="319.5" r="1.7" fill-opacity="0.09"/>
<circle cx="258.3" cy="394.6" r="1.7"/>
<circle cx="266.3" cy="389.7" r="1.7"/>
<circle cx="264.2" cy="373.5" r="1.7"/>
<circle cx="260.1" cy="339.5" r="1.7" fill-opacity="0.18"/>
<circle cx="258" cy="392.4" r="1.7"/>
<circle cx="263" cy="368.7" r="1.7"/>
<circle cx="265.2" cy="380.5" r="1.7"/>
<circle cx="268.5" cy="369.2" r="1.7"/>
<circle cx="279.5" cy="349.2" r="1.7"/>
<circle cx="261.1" cy="388" r="1.7"/>
<circle cx="265.4" cy="365.2" r="1.7"/>
<circle cx="258.3" cy="395.6" r="1.7"/>
<circle cx="258.2" cy="392.2" r="1.7"/>
<circle cx="265.8" cy="340.1" r="1.7" fill-opacity="0.18"/>
<circle cx="275.6" cy="369.1" r="1.7"/>
<circle cx="264.6" cy="344.1" r="1.7" fill-opacity="0.20"/>
<circle cx="266" cy="380.4" r="1.7"/>
<circle cx="262.3" cy="341.8" r="1.7" fill-opacity="0.19"/>
<circle cx="270.1" cy="316.7" r="1.7" fill-opacity="0.07"/>
<circle cx="277.1" cy="307.2" r="1.7" fill-opacity="0.05"/>
<circle cx="281.8" cy="342.6" r="1.7" fill-opacity="0.19"/>
<circle cx="256.5" cy="393" r="1.7"/>
<circle cx="263.2" cy="365.2" r="1.7"/>
<circle cx="262.8" cy="392.6" r="1.7"/>
<circle cx="264.3" cy="393.4" r="1.7"/>
<circle cx="264.3" cy="393.4" r="1.7"/>
<circle cx="263.9" cy="396" r="1.7"/>
<circle cx="263.2" cy="379" r="1.7"/>
<circle cx="269.1" cy="373.6" r="1.7"/>
<circle cx="255.9" cy="387.7" r="1.7"/>
<circle cx="267.8" cy="347.5" r="1.7"/>
<circle cx="255.7" cy="347.8" r="1.7"/>
<circle cx="262.9" cy="392.2" r="1.7"/>
<circle cx="257.5" cy="383.6" r="1.7"/>
<circle cx="284.1" cy="308.7" r="1.7" fill-opacity="0.05"/>
<circle cx="265" cy="379.2" r="1.7"/>
<circle cx="281.2" cy="333.7" r="1.7" fill-opacity="0.15"/>
<circle cx="259.5" cy="383.7" r="1.7"/>
<circle cx="267.1" cy="389.7" r="1.7"/>
<circle cx="259.8" cy="382.4" r="1.7"/>
<circle cx="258.1" cy="389.5" r="1.7"/>
<circle cx="257.3" cy="384.5" r="1.7"/>
<circle cx="271.3" cy="362.3" r="1.7"/>
<circle cx="258.3" cy="386.1" r="1.7"/>
<circle cx="260.5" cy="395.9" r="1.7"/>
<circle cx="256.5" cy="391.1" r="1.7"/>
<circle cx="257.5" cy="362.7" r="1.7"/>
<circle cx="277.1" cy="359.2" r="1.7"/>
<circle cx="257.1" cy="352.2" r="1.7"/>
<circle cx="266.9" cy="376.1" r="1.7"/>
<circle cx="268.1" cy="384.9" r="1.7"/>
<circle cx="262.9" cy="369.6" r="1.7"/>
<circle cx="262.4" cy="394.5" r="1.7"/>
<circle cx="263.3" cy="356.7" r="1.7"/>
<circle cx="282" cy="375.1" r="1.7"/>
<circle cx="272.9" cy="392.3" r="1.7"/>
<circle cx="259.8" cy="380.9" r="1.7"/>
<circle cx="255.5" cy="369.6" r="1.7"/>
<circle cx="255.8" cy="371.5" r="1.7"/>
<circle cx="276.5" cy="377.2" r="1.7"/>
<circle cx="256" cy="396" r="1.7"/>
<circle cx="255.7" cy="346.5" r="1.7"/>
<circle cx="268" cy="324.5" r="1.7" fill-opacity="0.11"/>
<circle cx="258" cy="350.6" r="1.7"/>
<circle cx="261.9" cy="385.2" r="1.7"/>
<circle cx="256.6" cy="385.1" r="1.7"/>
<circle cx="257.3" cy="393.6" r="1.7"/>
<circle cx="274" cy="309.8" r="1.7" fill-opacity="0.05"/>
<circle cx="259" cy="395.7" r="1.7"/>
<circle cx="256.3" cy="394.9" r="1.7"/>
<circle cx="282.7" cy="341.9" r="1.7" fill-opacity="0.19"/>
<circle cx="259.1" cy="368.8" r="1.7"/>
<circle cx="273" cy="355.9" r="1.7"/>
<circle cx="263.7" cy="368.4" r="1.7"/>
<circle cx="274.5" cy="310.2" r="1.7" fill-opacity="0.05"/>
<circle cx="255.7" cy="350.5" r="1.7"/>
<circle cx="283.1" cy="315.9" r="1.7" fill-opacity="0.07"/>
<circle cx="264.4" cy="363.5" r="1.7"/>
<circle cx="267.2" cy="379" r="1.7"/>
<circle cx="257.1" cy="395.8" r="1.7"/>
<circle cx="255.9" cy="385.1" r="1.7"/>
<circle cx="263.4" cy="372.1" r="1.7"/>
<circle cx="261.9" cy="388" r="1.7"/>
<circle cx="274.3" cy="342" r="1.7" fill-opacity="0.19"/>
<circle cx="276.9" cy="311" r="1.7" fill-opacity="0.05"/>
<circle cx="256.3" cy="383" r="1.7"/>
<circle cx="256" cy="395.4" r="1.7"/>
<circle cx="272.7" cy="358.1" r="1.7"/>
<circle cx="256.8" cy="388.9" r="1.7"/>
<circle cx="258.1" cy="391.9" r="1.7"/>
<circle cx="256.2" cy="369.4" r="1.7"/>
<circle cx="280.4" cy="363.1" r="1.7"/>
<circle cx="257.6" cy="382.8" r="1.7"/>
<circle cx="258.1" cy="343.4" r="1.7" fill-opacity="0.19"/>
<circle cx="273.4" cy="341" r="1.7" fill-opacity="0.18"/>
<circle cx="264.3" cy="387.1" r="1.7"/>
<circle cx="256.1" cy="390" r="1.7"/>
<circle cx="264" cy="358.7" r="1.7"/>
<circle cx="256.4" cy="354.6" r="1.7"/>
<circle cx="265.2" cy="339" r="1.7" fill-opacity="0.17"/>
<circle cx="264.3" cy="371.6" r="1.7"/>
<circle cx="263.3" cy="375.6" r="1.7"/>
<circle cx="262.9" cy="390.9" r="1.7"/>
<circle cx="269.2" cy="345.7" r="1.7"/>
<circle cx="275.7" cy="317.6" r="1.7" fill-opacity="0.08"/>
<circle cx="289.6" cy="334.4" r="1.7" fill-opacity="0.15"/>
<circle cx="263.8" cy="346" r="1.7"/>
<circle cx="259.9" cy="337.6" r="1.7" fill-opacity="0.17"/>
<circle cx="277.9" cy="320" r="1.7" fill-opacity="0.09"/>
<circle cx="279" cy="312.6" r="1.7" fill-opacity="0.06"/>
<circle cx="265.5" cy="385.9" r="1.7"/>
<circle cx="272" cy="375.4" r="1.7"/>
<circle cx="258" cy="393.1" r="1.7"/>
<circle cx="272.7" cy="376.5" r="1.7"/>
<circle cx="272.2" cy="384.5" r="1.7"/>
<circle cx="261.2" cy="388.2" r="1.7"/>
<circle cx="260.1" cy="395.9" r="1.7"/>
<circle cx="257.9" cy="379.5" r="1.7"/>
<circle cx="272.9" cy="308" r="1.7" fill-opacity="0.05"/>
<circle cx="271" cy="321.8" r="1.7" fill-opacity="0.10"/>
<circle cx="258.4" cy="388.7" r="1.7"/>
<circle cx="271.3" cy="389.5" r="1.7"/>
<circle cx="271.7" cy="319.7" r="1.7" fill-opacity="0.09"/>
<circle cx="260.4" cy="390.2" r="1.7"/>
<circle cx="266.3" cy="365.4" r="1.7"/>
<circle cx="259.5" cy="368.9" r="1.7"/>
<circle cx="264.7" cy="385.6" r="1.7"/>
<circle cx="287.8" cy="340.8" r="1.7" fill-opacity="0.18"/>
<circle cx="271.5" cy="331.7" r="1.7" fill-opacity="0.14"/>
<circle cx="257.6" cy="390.8" r="1.7"/>
<circle cx="268.6" cy="392.8" r="1.7"/>
<circle cx="272.5" cy="317.7" r="1.7" fill-opacity="0.08"/>
<circle cx="264.8" cy="363.8" r="1.7"/>
<circle cx="259.5" cy="395.5" r="1.7"/>
<circle cx="268" cy="319.2" r="1.7" fill-opacity="0.09"/>
<circle cx="277.9" cy="312.8" r="1.7" fill-opacity="0.06"/>
<circle cx="260.5" cy="390.9" r="1.7"/>
<circle cx="261.2" cy="351.9" r="1.7"/>
<circle cx="260.2" cy="394.4" r="1.7"/>
<circle cx="260.4" cy="382.4" r="1.7"/>
<circle cx="264.4" cy="353.1" r="1.7"/>
<circle cx="258" cy="393.8" r="1.7"/>
<circle cx="280" cy="362" r="1.7"/>
<circle cx="258.1" cy="382.5" r="1.7"/>
<circle cx="256.9" cy="392.2" r="1.7"/>
<circle cx="258.9" cy="384.4" r="1.7"/>
<circle cx="264.2" cy="365.3" r="1.7"/>
<circle cx="259.2" cy="386" r="1.7"/>
<circle cx="257.5" cy="370.8" r="1.7"/>
<circle cx="274.3" cy="338.8" r="1.7" fill-opacity="0.17"/>
<circle cx="260.1" cy="371.2" r="1.7"/>
<circle cx="269" cy="327.7" r="1.7" fill-opacity="0.12"/>
<circle cx="264.7" cy="371.5" r="1.7"/>
<circle cx="274.3" cy="327.9" r="1.7" fill-opacity="0.12"/>
<circle cx="260.8" cy="380.2" r="1.7"/>
<circle cx="259.5" cy="396" r="1.7"/>
<circle cx="269" cy="365.2" r="1.7"/>
<circle cx="257" cy="374" r="1.7"/>
<circle cx="256.9" cy="372.1" r="1.7"/>
<circle cx="277.6" cy="307.1" r="1.7" fill-opacity="0.05"/>
<circle cx="257.9" cy="394.1" r="1.7"/>
<circle cx="266.8" cy="335.1" r="1.7" fill-opacity="0.16"/>
<circle cx="263.3" cy="387.8" r="1.7"/>
<circle cx="271" cy="328.9" r="1.7" fill-opacity="0.13"/>
<circle cx="290.5" cy="328" r="1.7" fill-opacity="0.12"/>
<circle cx="266.4" cy="395.5" r="1.7"/>
<circle cx="266.9" cy="380" r="1.7"/>
<circle cx="265.8" cy="374" r="1.7"/>
<circle cx="273.1" cy="342" r="1.7" fill-opacity="0.19"/>
<circle cx="270" cy="323.6" r="1.7" fill-opacity="0.11"/>
<circle cx="267.7" cy="321.2" r="1.7" fill-opacity="0.09"/>
<circle cx="264.8" cy="394.8" r="1.7"/>
<circle cx="262.6" cy="386.7" r="1.7"/>
<circle cx="265.1" cy="352.2" r="1.7"/>
<circle cx="257.4" cy="345.6" r="1.7"/>
<circle cx="268.6" cy="395.7" r="1.7"/>
<circle cx="256.5" cy="390.2" r="1.7"/>
<circle cx="256.3" cy="347" r="1.7"/>
<circle cx="279.3" cy="339" r="1.7" fill-opacity="0.17"/>
<circle cx="265.3" cy="347.8" r="1.7"/>
<circle cx="256.2" cy="366" r="1.7"/>
<circle cx="274.1" cy="308.9" r="1.7" fill-opacity="0.05"/>
<circle cx="263.3" cy="393.7" r="1.7"/>
<circle cx="278.9" cy="327.8" r="1.7" fill-opacity="0.12"/>
<circle cx="261.4" cy="351.3" r="1.7"/>
<circle cx="256.9" cy="393.4" r="1.7"/>
<circle cx="287.5" cy="325.9" r="1.7" fill-opacity="0.12"/>
<circle cx="255.9" cy="386.6" r="1.7"/>
<circle cx="273.7" cy="320" r="1.7" fill-opacity="0.09"/>
<circle cx="264.5" cy="375.2" r="1.7"/>
<circle cx="267.2" cy="347.8" r="1.7"/>
<circle cx="262.4" cy="384.3" r="1.7"/>
<circle cx="280.8" cy="337.6" r="1.7" fill-opacity="0.17"/>
<circle cx="271" cy="385.7" r="1.7"/>
<circle cx="271.9" cy="343.8" r="1.7" fill-opacity="0.19"/>
<circle cx="281.9" cy="360" r="1.7"/>
<circle cx="269" cy="375.8" r="1.7"/>
<circle cx="260.5" cy="390.1" r="1.7"/>
<circle cx="262.5" cy="359.2" r="1.7"/>
<circle cx="267.1" cy="381" r="1.7"/>
<circle cx="260.2" cy="373.4" r="1.7"/>
<circle cx="271.2" cy="352.4" r="1.7"/>
<circle cx="264.3" cy="370" r="1.7"/>
<circle cx="276.6" cy="367.3" r="1.7"/>
<circle cx="256.2" cy="391.3" r="1.7"/>
<circle cx="268.1" cy="336.4" r="1.7" fill-opacity="0.16"/>
<circle cx="266" cy="395.2" r="1.7"/>
<circle cx="270.9" cy="371" r="1.7"/>
<circle cx="259.1" cy="390.8" r="1.7"/>
<circle cx="261.7" cy="387.7" r="1.7"/>
<circle cx="267.2" cy="361.9" r="1.7"/>
<circle cx="257.1" cy="396" r="1.7"/>
<circle cx="276.3" cy="311" r="1.7" fill-opacity="0.05"/>
<circle cx="263" cy="373.7" r="1.7"/>
<circle cx="260.2" cy="352.5" r="1.7"/>
<circle cx="261.4" cy="332.6" r="1.7" fill-opacity="0.14"/>
<circle cx="256" cy="375.1" r="1.7"/>
<circle cx="273.4" cy="370.6" r="1.7"/>
<circle cx="259.3" cy="384.2" r="1.7"/>
<circle cx="262.5" cy="385.9" r="1.7"/>
<circle cx="265.5" cy="369.9" r="1.7"/>
<circle cx="276" cy="326" r="1.7" fill-opacity="0.12"/>
<circle cx="256.1" cy="395.3" r="1.7"/>
<circle cx="265.1" cy="364.3" r="1.7"/>
<circle cx="263.2" cy="382.3" r="1.7"/>
<circle cx="258.6" cy="396" r="1.7"/>
<circle cx="256.3" cy="394.7" r="1.7"/>
<circle cx="272.2" cy="327.1" r="1.7" fill-opacity="0.12"/>
<circle cx="261" cy="346.2" r="1.7"/>
<circle cx="276.4" cy="355.4" r="1.7"/>
<circle cx="259.8" cy="389.5" r="1.7"/>
<circle cx="277.5" cy="304.4" r="1.7" fill-opacity="0.05"/>
<circle cx="260" cy="388.5" r="1.7"/>
<circle cx="271.4" cy="325.6" r="1.7" fill-opacity="0.11"/>
<circle cx="262.8" cy="393" r="1.7"/>
<circle cx="256.5" cy="376" r="1.7"/>
<circle cx="271.8" cy="316.7" r="1.7" fill-opacity="0.07"/>
<circle cx="282.4" cy="328.6" r="1.7" fill-opacity="0.13"/>
<circle cx="264" cy="357.4" r="1.7"/>
<circle cx="272.9" cy="308.1" r="1.7" fill-opacity="0.05"/>
<circle cx="260.5" cy="393.9" r="1.7"/>
<circle cx="256.4" cy="391.8" r="1.7"/>
<circle cx="263.4" cy="342" r="1.7" fill-opacity="0.19"/>
<circle cx="266.4" cy="378.6" r="1.7"/>
<circle cx="272.8" cy="349.2" r="1.7"/>
<circle cx="273.5" cy="328.1" r="1.7" fill-opacity="0.12"/>
<circle cx="257.3" cy="380.7" r="1.7"/>
<circle cx="264.9" cy="375.9" r="1.7"/>
<circle cx="284.5" cy="342.5" r="1.7" fill-opacity="0.19"/>
<circle cx="272" cy="315.5" r="1.7" fill-opacity="0.07"/>
<circle cx="265.1" cy="368.8" r="1.7"/>
<circle cx="263" cy="341.4" r="1.7" fill-opacity="0.18"/>
<circle cx="262.9" cy="381.7" r="1.7"/>
<circle cx="259.2" cy="357.7" r="1.7"/>
<circle cx="266.8" cy="396" r="1.7"/>
<circle cx="264.6" cy="353.8" r="1.7"/>
<circle cx="256.2" cy="362.5" r="1.7"/>
<circle cx="276.2" cy="372" r="1.7"/>
<circle cx="261.6" cy="360.8" r="1.7"/>
<circle cx="270.5" cy="324.2" r="1.7" fill-opacity="0.11"/>
<circle cx="267.8" cy="330.6" r="1.7" fill-opacity="0.14"/>
<circle cx="286.3" cy="329.7" r="1.7" fill-opacity="0.13"/>
<circle cx="256.4" cy="378.9" r="1.7"/>
<circle cx="258.1" cy="390.6" r="1.7"/>
<circle cx="266.3" cy="340.2" r="1.7" fill-opacity="0.18"/>
<circle cx="260.8" cy="362.1" r="1.7"/>
<circle cx="261.9" cy="385.3" r="1.7"/>
<circle cx="272.9" cy="319.2" r="1.7" fill-opacity="0.09"/>
<circle cx="265.4" cy="363.5" r="1.7"/>
<circle cx="262.7" cy="375.4" r="1.7"/>
<circle cx="262.5" cy="386.4" r="1.7"/>
<circle cx="282.7" cy="307.3" r="1.7" fill-opacity="0.05"/>
<circle cx="263.7" cy="386.8" r="1.7"/>
<circle cx="256.9" cy="391.2" r="1.7"/>
<circle cx="281.3" cy="353.3" r="1.7"/>
<circle cx="257" cy="390.3" r="1.7"/>
<circle cx="265.8" cy="380.4" r="1.7"/>
<circle cx="272.7" cy="360.5" r="1.7"/>
<circle cx="264.3" cy="341" r="1.7" fill-opacity="0.18"/>
<circle cx="280.6" cy="306.8" r="1.7" fill-opacity="0.05"/>
<circle cx="278" cy="312.8" r="1.7" fill-opacity="0.06"/>
<circle cx="279.7" cy="352.8" r="1.7"/>
<circle cx="260.7" cy="395.8" r="1.7"/>
<circle cx="273.9" cy="335.4" r="1.7" fill-opacity="0.16"/>
<circle cx="262.7" cy="384.8" r="1.7"/>
<circle cx="266.9" cy="357.2" r="1.7"/>
<circle cx="261.6" cy="388" r="1.7"/>
<circle cx="272.9" cy="315" r="1.7" fill-opacity="0.07"/>
<circle cx="273.8" cy="340.5" r="1.7" fill-opacity="0.18"/>
<circle cx="260.6" cy="379.5" r="1.7"/>
<circle cx="265.1" cy="326.2" r="1.7" fill-opacity="0.12"/>
<circle cx="258.5" cy="339.3" r="1.7" fill-opacity="0.17"/>
<circle cx="267.6" cy="331.7" r="1.7" fill-opacity="0.14"/>
<circle cx="261.4" cy="396" r="1.7"/>
<circle cx="258.1" cy="395.4" r="1.7"/>
<circle cx="265.4" cy="376.6" r="1.7"/>
<circle cx="262.6" cy="384.5" r="1.7"/>
<circle cx="280.4" cy="332.4" r="1.7" fill-opacity="0.14"/>
<circle cx="270.7" cy="378.3" r="1.7"/>
<circle cx="257.7" cy="395.1" r="1.7"/>
<circle cx="256" cy="388.2" r="1.7"/>
<circle cx="272.7" cy="338.4" r="1.7" fill-opacity="0.17"/>
<circle cx="275" cy="326" r="1.7" fill-opacity="0.12"/>
<circle cx="267.7" cy="360.4" r="1.7"/>
<circle cx="281.8" cy="330.8" r="1.7" fill-opacity="0.14"/>
<circle cx="263.1" cy="361.6" r="1.7"/>
<circle cx="261.3" cy="377.7" r="1.7"/>
<circle cx="273.8" cy="305.3" r="1.7" fill-opacity="0.05"/>
<circle cx="255.6" cy="391.1" r="1.7"/>
<circle cx="256.7" cy="389.7" r="1.7"/>
<circle cx="259.5" cy="392.2" r="1.7"/>
<circle cx="278.6" cy="339.1" r="1.7" fill-opacity="0.17"/>
<circle cx="279.4" cy="373.7" r="1.7"/>
<circle cx="270" cy="320.1" r="1.7" fill-opacity="0.09"/>
<circle cx="268.6" cy="336.4" r="1.7" fill-opacity="0.16"/>
<circle cx="256" cy="377.1" r="1.7"/>
<circle cx="260.1" cy="347.2" r="1.7"/>
<circle cx="262.9" cy="363.5" r="1.7"/>
<circle cx="267.1" cy="391.1" r="1.7"/>
<circle cx="263.2" cy="374.6" r="1.7"/>
<circle cx="271.6" cy="322.2" r="1.7" fill-opacity="0.10"/>
<circle cx="260" cy="369.6" r="1.7"/>
<circle cx="263.8" cy="354.3" r="1.7"/>
<circle cx="257.5" cy="386.8" r="1.7"/>
<circle cx="267.6" cy="324.6" r="1.7" fill-opacity="0.11"/>
<circle cx="260.9" cy="356.9" r="1.7"/>
<circle cx="260.3" cy="395.2" r="1.7"/>
<circle cx="256.5" cy="392.1" r="1.7"/>
<circle cx="256.5" cy="394.3" r="1.7"/>
<circle cx="280.5" cy="336.9" r="1.7" fill-opacity="0.16"/>
<circle cx="281.8" cy="329.2" r="1.7" fill-opacity="0.13"/>
<circle cx="268.4" cy="364.1" r="1.7"/>
<circle cx="268.5" cy="363.9" r="1.7"/>
<circle cx="259.5" cy="376.2" r="1.7"/>
<circle cx="256" cy="388.4" r="1.7"/>
<circle cx="274.8" cy="373.2" r="1.7"/>
<circle cx="277.9" cy="361.9" r="1.7"/>
<circle cx="265.3" cy="342.4" r="1.7" fill-opacity="0.19"/>
<circle cx="271.3" cy="322" r="1.7" fill-opacity="0.10"/>
<circle cx="271.4" cy="310.8" r="1.7" fill-opacity="0.05"/>
<circle cx="267.9" cy="334.4" r="1.7" fill-opacity="0.15"/>
<circle cx="269.8" cy="321.4" r="1.7" fill-opacity="0.10"/>
<circle cx="268" cy="359.1" r="1.7"/>
<circle cx="256.1" cy="394.2" r="1.7"/>
<circle cx="272.9" cy="341.9" r="1.7" fill-opacity="0.19"/>
<circle cx="256.8" cy="394.8" r="1.7"/>
<circle cx="272.6" cy="309" r="1.7" fill-opacity="0.05"/>
<circle cx="260.8" cy="389.1" r="1.7"/>
<circle cx="286.1" cy="311.4" r="1.7" fill-opacity="0.05"/>
<circle cx="258.2" cy="372.3" r="1.7"/>
<circle cx="273.5" cy="329.8" r="1.7" fill-opacity="0.13"/>
<circle cx="261.3" cy="394.3" r="1.7"/>
<circle cx="260.5" cy="395.4" r="1.7"/>
<circle cx="271.2" cy="313.5" r="1.7" fill-opacity="0.06"/>
<circle cx="257.9" cy="387.9" r="1.7"/>
<circle cx="257.2" cy="395.9" r="1.7"/>
<circle cx="285" cy="305.9" r="1.7" fill-opacity="0.05"/>
<circle cx="270.7" cy="355.8" r="1.7"/>
<circle cx="278.3" cy="345.7" r="1.7"/>
<circle cx="255.6" cy="379.5" r="1.7"/>
<circle cx="262.3" cy="364.9" r="1.7"/>
<circle cx="255.9" cy="390.7" r="1.7"/>
<circle cx="266.3" cy="361.6" r="1.7"/>
<circle cx="260.2" cy="365" r="1.7"/>
<circle cx="258.5" cy="388.1" r="1.7"/>
<circle cx="260.6" cy="349" r="1.7"/>
<circle cx="284.1" cy="309.7" r="1.7" fill-opacity="0.05"/>
<circle cx="267.3" cy="379.2" r="1.7"/>
<circle cx="273.1" cy="313" r="1.7" fill-opacity="0.06"/>
<circle cx="255.8" cy="367" r="1.7"/>
<circle cx="265.3" cy="391.1" r="1.7"/>
<circle cx="266.3" cy="367.9" r="1.7"/>
<circle cx="263.2" cy="352.5" r="1.7"/>
<circle cx="273.1" cy="318.5" r="1.7" fill-opacity="0.08"/>
<circle cx="266.1" cy="393.2" r="1.7"/>
<circle cx="280.4" cy="347.2" r="1.7"/>
<circle cx="264.8" cy="396" r="1.7"/>
<circle cx="261.5" cy="392.1" r="1.7"/>
<circle cx="257.7" cy="346.9" r="1.7"/>
<circle cx="266.3" cy="360.2" r="1.7"/>
<circle cx="263.2" cy="363.4" r="1.7"/>
<circle cx="286.5" cy="306.4" r="1.7" fill-opacity="0.05"/>
<circle cx="258.3" cy="385.2" r="1.7"/>
<circle cx="275.6" cy="346.1" r="1.7"/>
<circle cx="277.9" cy="323" r="1.7" fill-opacity="0.10"/>
<circle cx="263.2" cy="395" r="1.7"/>
<circle cx="257.5" cy="387.9" r="1.7"/>
<circle cx="261.5" cy="372.9" r="1.7"/>
<circle cx="268.5" cy="329.1" r="1.7" fill-opacity="0.13"/>
<circle cx="261.6" cy="346.2" r="1.7"/>
<circle cx="258.1" cy="394.3" r="1.7"/>
<circle cx="269.2" cy="379.9" r="1.7"/>
<circle cx="255.8" cy="385.6" r="1.7"/>
<circle cx="267.5" cy="342.8" r="1.7" fill-opacity="0.19"/>
<circle cx="265.7" cy="336.1" r="1.7" fill-opacity="0.16"/>
<circle cx="258.6" cy="395.2" r="1.7"/>
<circle cx="257.5" cy="395.7" r="1.7"/>
<circle cx="269.6" cy="371.6" r="1.7"/>
<circle cx="257" cy="380.2" r="1.7"/>
<circle cx="270.1" cy="315.3" r="1.7" fill-opacity="0.07"/>
<circle cx="258.6" cy="396" r="1.7"/>
<circle cx="274.6" cy="310.4" r="1.7" fill-opacity="0.05"/>
<circle cx="257.1" cy="391.9" r="1.7"/>
<circle cx="262" cy="347.6" r="1.7"/>
<circle cx="268.1" cy="350.4" r="1.7"/>
<circle cx="267" cy="381.9" r="1.7"/>
<circle cx="289.7" cy="335.4" r="1.7" fill-opacity="0.16"/>
<circle cx="263.6" cy="356.2" r="1.7"/>
<circle cx="263.9" cy="354.8" r="1.7"/>
<circle cx="269.3" cy="353.7" r="1.7"/>
<circle cx="266.6" cy="341" r="1.7" fill-opacity="0.18"/>
<circle cx="259.6" cy="390.7" r="1.7"/>
<circle cx="270.5" cy="395.8" r="1.7"/>
<circle cx="258.4" cy="388.3" r="1.7"/>
<circle cx="261.9" cy="331.9" r="1.7" fill-opacity="0.14"/>
<circle cx="271.3" cy="361.4" r="1.7"/>
<circle cx="258.8" cy="396" r="1.7"/>
<circle cx="273.3" cy="327.4" r="1.7" fill-opacity="0.12"/>
<circle cx="291.6" cy="320.3" r="1.7" fill-opacity="0.09"/>
<circle cx="258.3" cy="393.4" r="1.7"/>
<circle cx="262.7" cy="340.2" r="1.7" fill-opacity="0.18"/>
<circle cx="258.1" cy="394.7" r="1.7"/>
<circle cx="267" cy="326.1" r="1.7" fill-opacity="0.12"/>
<circle cx="258.9" cy="388.6" r="1.7"/>
<circle cx="267" cy="364.4" r="1.7"/>
<circle cx="263.5" cy="377.3" r="1.7"/>
<circle cx="258.6" cy="371.8" r="1.7"/>
<circle cx="264.6" cy="325.6" r="1.7" fill-opacity="0.11"/>
<circle cx="271.2" cy="329.3" r="1.7" fill-opacity="0.13"/>
</g>
<polygon points="179,367 182,365.5 185.5,366 187.5,369 192,378 197,389 202,399 206.5,408.5 211,418 217,429.5 208,426.5 200.8,422.7 194,418 189.2,413 183,405 179,397 178.5,393.8 178.8,380" fill="#4f4f4f" stroke="#4f4f4f" stroke-width="1.2" stroke-linejoin="round"/>
<polygon points="246,361 250,356 254.5,357 254.5,375 255,395 256,398 253.5,404 250.5,409.2 241,416.5 232,423 225,427 217,430.2 224.5,416 229,406 233,397 237,388 241,378.5 244.5,369" fill="#4f4f4f" stroke="#4f4f4f" stroke-width="1.2" stroke-linejoin="round"/>
<g fill="none" stroke="#606060" stroke-width="0.55">
<circle cx="180.9" cy="396.4" r="1.2"/>
<circle cx="180.3" cy="400.5" r="1.2"/>
<circle cx="178" cy="386.7" r="1.2"/>
<circle cx="183.7" cy="403.8" r="1.2"/>
<circle cx="183" cy="366.6" r="1.2"/>
<circle cx="200.3" cy="394.8" r="1.2"/>
<circle cx="182.7" cy="365.9" r="1.2"/>
<circle cx="181" cy="401.9" r="1.2"/>
<circle cx="207.5" cy="414.6" r="1.2"/>
<circle cx="179.1" cy="400.6" r="1.2"/>
<circle cx="186.6" cy="369" r="1.2"/>
<circle cx="216.2" cy="429.2" r="1.2"/>
<circle cx="188.9" cy="378.7" r="1.2"/>
<circle cx="180" cy="366.5" r="1.2"/>
<circle cx="188.9" cy="413.4" r="1.2"/>
<circle cx="205.4" cy="406.9" r="1.2"/>
<circle cx="205.5" cy="428" r="1.2"/>
<circle cx="193.6" cy="381" r="1.2"/>
<circle cx="177.6" cy="395.9" r="1.2"/>
<circle cx="206.6" cy="407.1" r="1.2"/>
<circle cx="192.7" cy="417.8" r="1.2"/>
<circle cx="217.8" cy="427.7" r="1.2"/>
<circle cx="177.7" cy="368.2" r="1.2"/>
<circle cx="188.5" cy="370.5" r="1.2"/>
<circle cx="180.8" cy="366.8" r="1.2"/>
<circle cx="186.1" cy="367.9" r="1.2"/>
<circle cx="179.9" cy="367.1" r="1.2"/>
<circle cx="179.4" cy="395.3" r="1.2"/>
<circle cx="193.8" cy="383.1" r="1.2"/>
<circle cx="201.6" cy="399.4" r="1.2"/>
<circle cx="188.7" cy="412.8" r="1.2"/>
<circle cx="187" cy="369.9" r="1.2"/>
<circle cx="193.5" cy="415.2" r="1.2"/>
<circle cx="215.4" cy="426.5" r="1.2"/>
<circle cx="190.9" cy="379.6" r="1.2"/>
<circle cx="186.8" cy="366.4" r="1.2"/>
<circle cx="178.4" cy="367.4" r="1.2"/>
<circle cx="181.5" cy="366.8" r="1.2"/>
<circle cx="193.3" cy="380.1" r="1.2"/>
<circle cx="202.7" cy="422.5" r="1.2"/>
<circle cx="196.2" cy="383.8" r="1.2"/>
<circle cx="196.3" cy="419.3" r="1.2"/>
<circle cx="186.3" cy="366.4" r="1.2"/>
<circle cx="183.7" cy="365.6" r="1.2"/>
<circle cx="197" cy="386.1" r="1.2"/>
<circle cx="179.4" cy="393.2" r="1.2"/>
<circle cx="180" cy="364.9" r="1.2"/>
<circle cx="192.7" cy="416.1" r="1.2"/>
<circle cx="189.3" cy="367.8" r="1.2"/>
<circle cx="205" cy="423.4" r="1.2"/>
<circle cx="179.7" cy="400.9" r="1.2"/>
<circle cx="177.4" cy="392.5" r="1.2"/>
<circle cx="212.5" cy="419" r="1.2"/>
<circle cx="179.9" cy="396.3" r="1.2"/>
<circle cx="204.4" cy="402.8" r="1.2"/>
<circle cx="181.1" cy="402.3" r="1.2"/>
<circle cx="210.1" cy="421.2" r="1.2"/>
<circle cx="204.7" cy="408.5" r="1.2"/>
<circle cx="207.3" cy="426.6" r="1.2"/>
<circle cx="185.4" cy="365.5" r="1.2"/>
<circle cx="194.8" cy="390.6" r="1.2"/>
<circle cx="185" cy="409.7" r="1.2"/>
<circle cx="182.2" cy="401.5" r="1.2"/>
<circle cx="184.1" cy="367" r="1.2"/>
<circle cx="180.3" cy="366.5" r="1.2"/>
<circle cx="212.7" cy="421" r="1.2"/>
<circle cx="188.3" cy="371.7" r="1.2"/>
<circle cx="193.9" cy="417.4" r="1.2"/>
<circle cx="178.4" cy="394.1" r="1.2"/>
<circle cx="179.4" cy="371.6" r="1.2"/>
<circle cx="198.5" cy="419.7" r="1.2"/>
<circle cx="199.7" cy="390.3" r="1.2"/>
<circle cx="187.3" cy="366.5" r="1.2"/>
<circle cx="179.3" cy="399.4" r="1.2"/>
<circle cx="190.5" cy="414" r="1.2"/>
<circle cx="204.2" cy="424" r="1.2"/>
<circle cx="191.3" cy="368.9" r="1.2"/>
<circle cx="212.4" cy="426.8" r="1.2"/>
<circle cx="181.2" cy="367.1" r="1.2"/>
<circle cx="178.4" cy="377.3" r="1.2"/>
<circle cx="207.7" cy="407.6" r="1.2"/>
<circle cx="198.6" cy="391.8" r="1.2"/>
<circle cx="176.9" cy="396.3" r="1.2"/>
<circle cx="176.2" cy="397.6" r="1.2"/>
<circle cx="185.5" cy="368.9" r="1.2"/>
<circle cx="176.5" cy="371.4" r="1.2"/>
<circle cx="177.4" cy="373.9" r="1.2"/>
<circle cx="204.4" cy="403.1" r="1.2"/>
<circle cx="214.9" cy="426.1" r="1.2"/>
<circle cx="177.4" cy="394.8" r="1.2"/>
<circle cx="182" cy="367.1" r="1.2"/>
<circle cx="189.5" cy="373" r="1.2"/>
<circle cx="180.9" cy="373" r="1.2"/>
<circle cx="192.1" cy="416.8" r="1.2"/>
<circle cx="186.2" cy="404.7" r="1.2"/>
<circle cx="179.2" cy="391" r="1.2"/>
<circle cx="211.8" cy="419.2" r="1.2"/>
<circle cx="203.7" cy="400.6" r="1.2"/>
<circle cx="197.7" cy="421.6" r="1.2"/>
<circle cx="189.9" cy="375.3" r="1.2"/>
<circle cx="180.5" cy="381.9" r="1.2"/>
<circle cx="176.3" cy="384.7" r="1.2"/>
<circle cx="176.5" cy="371.2" r="1.2"/>
<circle cx="193" cy="378.3" r="1.2"/>
<circle cx="197.5" cy="394.8" r="1.2"/>
<circle cx="205.7" cy="406.9" r="1.2"/>
<circle cx="208.1" cy="410.4" r="1.2"/>
<circle cx="182.1" cy="407.4" r="1.2"/>
<circle cx="191.5" cy="378.6" r="1.2"/>
<circle cx="187.3" cy="368.3" r="1.2"/>
<circle cx="197.9" cy="422.1" r="1.2"/>
<circle cx="179.9" cy="378.1" r="1.2"/>
<circle cx="180.5" cy="397" r="1.2"/>
<circle cx="178" cy="381.4" r="1.2"/>
<circle cx="190.5" cy="367.6" r="1.2"/>
<circle cx="191.4" cy="375.6" r="1.2"/>
<circle cx="186.4" cy="369.5" r="1.2"/>
<circle cx="178.9" cy="390.1" r="1.2"/>
<circle cx="185.5" cy="367.2" r="1.2"/>
<circle cx="198.3" cy="421.5" r="1.2"/>
<circle cx="178.5" cy="383.3" r="1.2"/>
<circle cx="191.9" cy="416.7" r="1.2"/>
<circle cx="202.1" cy="426.2" r="1.2"/>
<circle cx="198.9" cy="398.6" r="1.2"/>
<circle cx="179.2" cy="368.9" r="1.2"/>
<circle cx="193.9" cy="419" r="1.2"/>
<circle cx="213.9" cy="428.2" r="1.2"/>
<circle cx="184.6" cy="365" r="1.2"/>
<circle cx="205.8" cy="426.1" r="1.2"/>
<circle cx="188.1" cy="367.2" r="1.2"/>
<circle cx="255.1" cy="390.2" r="1.2"/>
<circle cx="254.8" cy="391" r="1.2"/>
<circle cx="253.3" cy="356.6" r="1.2"/>
<circle cx="240.1" cy="417.2" r="1.2"/>
<circle cx="240.1" cy="374.2" r="1.2"/>
<circle cx="255" cy="387.3" r="1.2"/>
<circle cx="252.9" cy="355.9" r="1.2"/>
<circle cx="252.2" cy="402.7" r="1.2"/>
<circle cx="231.4" cy="398.2" r="1.2"/>
<circle cx="229" cy="426.2" r="1.2"/>
<circle cx="244.8" cy="359.8" r="1.2"/>
<circle cx="246.1" cy="361.3" r="1.2"/>
<circle cx="254.8" cy="400.1" r="1.2"/>
<circle cx="222.6" cy="430.6" r="1.2"/>
<circle cx="225.5" cy="426.5" r="1.2"/>
<circle cx="238" cy="385.2" r="1.2"/>
<circle cx="254.7" cy="392.4" r="1.2"/>
<circle cx="246.1" cy="414.8" r="1.2"/>
<circle cx="234.2" cy="395" r="1.2"/>
<circle cx="253.4" cy="396" r="1.2"/>
<circle cx="234.2" cy="390.1" r="1.2"/>
<circle cx="218.6" cy="418.3" r="1.2"/>
<circle cx="226.9" cy="426.6" r="1.2"/>
<circle cx="225.7" cy="425.3" r="1.2"/>
<circle cx="235.2" cy="418.6" r="1.2"/>
<circle cx="251.6" cy="406.5" r="1.2"/>
<circle cx="245.3" cy="412.2" r="1.2"/>
<circle cx="253.8" cy="356.7" r="1.2"/>
<circle cx="249.7" cy="358.8" r="1.2"/>
<circle cx="255.1" cy="370.2" r="1.2"/>
<circle cx="243.5" cy="414.8" r="1.2"/>
<circle cx="251.8" cy="405.8" r="1.2"/>
<circle cx="252.3" cy="372.2" r="1.2"/>
<circle cx="252.1" cy="405.1" r="1.2"/>
<circle cx="253.2" cy="393" r="1.2"/>
<circle cx="222.8" cy="425.6" r="1.2"/>
<circle cx="254.5" cy="401" r="1.2"/>
<circle cx="225.8" cy="428.1" r="1.2"/>
<circle cx="238" cy="380.8" r="1.2"/>
<circle cx="246.7" cy="362.4" r="1.2"/>
<circle cx="252.4" cy="369.6" r="1.2"/>
<circle cx="223.5" cy="428.8" r="1.2"/>
<circle cx="223.5" cy="429.5" r="1.2"/>
<circle cx="237.4" cy="418.3" r="1.2"/>
<circle cx="225.2" cy="427.3" r="1.2"/>
<circle cx="241.1" cy="377.1" r="1.2"/>
<circle cx="220.2" cy="419.5" r="1.2"/>
<circle cx="220.7" cy="418.3" r="1.2"/>
<circle cx="255.7" cy="396.5" r="1.2"/>
<circle cx="226.4" cy="426.7" r="1.2"/>
<circle cx="256.4" cy="401" r="1.2"/>
<circle cx="227.1" cy="404.8" r="1.2"/>
<circle cx="254.4" cy="363.6" r="1.2"/>
<circle cx="223.9" cy="426.8" r="1.2"/>
<circle cx="230.4" cy="405.9" r="1.2"/>
<circle cx="241.1" cy="375.6" r="1.2"/>
<circle cx="218.1" cy="429.2" r="1.2"/>
<circle cx="255.6" cy="369.1" r="1.2"/>
<circle cx="224.2" cy="415.9" r="1.2"/>
<circle cx="235.9" cy="387.2" r="1.2"/>
<circle cx="248.1" cy="357.6" r="1.2"/>
<circle cx="256.2" cy="397.2" r="1.2"/>
<circle cx="254" cy="400.9" r="1.2"/>
<circle cx="233.3" cy="423.2" r="1.2"/>
<circle cx="256.2" cy="383.4" r="1.2"/>
<circle cx="254.8" cy="356.9" r="1.2"/>
<circle cx="251.8" cy="357.4" r="1.2"/>
<circle cx="243.3" cy="413.8" r="1.2"/>
<circle cx="233.6" cy="396.1" r="1.2"/>
<circle cx="229.1" cy="424.9" r="1.2"/>
<circle cx="234.1" cy="421.4" r="1.2"/>
<circle cx="247.7" cy="364.2" r="1.2"/>
<circle cx="226.9" cy="414.8" r="1.2"/>
<circle cx="229.5" cy="404.2" r="1.2"/>
<circle cx="253" cy="356.8" r="1.2"/>
<circle cx="239.7" cy="379.7" r="1.2"/>
<circle cx="231.8" cy="401.2" r="1.2"/>
<circle cx="225.8" cy="426.2" r="1.2"/>
<circle cx="256.6" cy="396.9" r="1.2"/>
<circle cx="243.9" cy="368.2" r="1.2"/>
<circle cx="252.4" cy="406.4" r="1.2"/>
<circle cx="253.4" cy="362.3" r="1.2"/>
<circle cx="241.6" cy="382.4" r="1.2"/>
<circle cx="245.1" cy="364.2" r="1.2"/>
<circle cx="228.9" cy="402.3" r="1.2"/>
<circle cx="232.4" cy="394.7" r="1.2"/>
<circle cx="254.7" cy="403.4" r="1.2"/>
<circle cx="224.4" cy="416.6" r="1.2"/>
<circle cx="254.3" cy="362.9" r="1.2"/>
<circle cx="227.5" cy="407.1" r="1.2"/>
<circle cx="256" cy="388.2" r="1.2"/>
<circle cx="236.7" cy="385.2" r="1.2"/>
<circle cx="250.5" cy="355.1" r="1.2"/>
<circle cx="254.2" cy="397" r="1.2"/>
<circle cx="225.4" cy="425.2" r="1.2"/>
<circle cx="255.1" cy="363.5" r="1.2"/>
<circle cx="222.3" cy="429.4" r="1.2"/>
<circle cx="221" cy="428.8" r="1.2"/>
<circle cx="254" cy="377.1" r="1.2"/>
<circle cx="253.2" cy="404.7" r="1.2"/>
<circle cx="258.1" cy="359.6" r="1.2"/>
<circle cx="233.2" cy="403.6" r="1.2"/>
<circle cx="233.3" cy="398.3" r="1.2"/>
<circle cx="255" cy="398.2" r="1.2"/>
<circle cx="231.2" cy="398.7" r="1.2"/>
<circle cx="217.6" cy="428.4" r="1.2"/>
<circle cx="240.5" cy="379.3" r="1.2"/>
<circle cx="232.4" cy="397.1" r="1.2"/>
<circle cx="225.7" cy="425.8" r="1.2"/>
<circle cx="244.7" cy="361.4" r="1.2"/>
<circle cx="242.1" cy="373.2" r="1.2"/>
<circle cx="243.7" cy="366.2" r="1.2"/>
<circle cx="248.7" cy="358.4" r="1.2"/>
<circle cx="245" cy="413.2" r="1.2"/>
<circle cx="253.6" cy="374.8" r="1.2"/>
<circle cx="254.6" cy="383.1" r="1.2"/>
<circle cx="247.9" cy="365.7" r="1.2"/>
<circle cx="256" cy="403.3" r="1.2"/>
<circle cx="255.6" cy="394.4" r="1.2"/>
<circle cx="216.7" cy="425.7" r="1.2"/>
<circle cx="255" cy="400.3" r="1.2"/>
<circle cx="228.3" cy="414" r="1.2"/>
<circle cx="254.3" cy="394.1" r="1.2"/>
<circle cx="225.9" cy="408.2" r="1.2"/>
<circle cx="254.8" cy="399.3" r="1.2"/>
<circle cx="224.1" cy="415.4" r="1.2"/>
<circle cx="254.2" cy="395.3" r="1.2"/>
<circle cx="253.5" cy="355.5" r="1.2"/>
<circle cx="238.1" cy="382.5" r="1.2"/>
<circle cx="228" cy="399.6" r="1.2"/>
<circle cx="187.8" cy="364.7" r="1.2"/>
<circle cx="183.5" cy="358.7" r="1.2"/>
<circle cx="188.6" cy="360.9" r="1.2"/>
<circle cx="184.4" cy="360.4" r="1.2"/>
<circle cx="188.6" cy="359.1" r="1.2"/>
<circle cx="179.4" cy="357.5" r="1.2"/>
<circle cx="188.4" cy="363.2" r="1.2"/>
<circle cx="185.1" cy="363.2" r="1.2"/>
<circle cx="181.8" cy="363.5" r="1.2"/>
<circle cx="179.4" cy="361.3" r="1.2"/>
<circle cx="183.8" cy="354.7" r="1.2"/>
<circle cx="183" cy="360" r="1.2"/>
<circle cx="186.6" cy="353.7" r="1.2"/>
<circle cx="181.3" cy="360.4" r="1.2"/>
<circle cx="183.1" cy="357.3" r="1.2"/>
<circle cx="179.6" cy="356.3" r="1.2"/>
<circle cx="189" cy="365.8" r="1.2"/>
<circle cx="188.1" cy="362.3" r="1.2"/>
<circle cx="187.6" cy="358.9" r="1.2"/>
<circle cx="187.1" cy="356.1" r="1.2"/>
<circle cx="188.5" cy="360.9" r="1.2"/>
<circle cx="187.6" cy="354.4" r="1.2"/>
<circle cx="251.8" cy="344" r="1.2"/>
<circle cx="247" cy="357.2" r="1.2"/>
<circle cx="249.7" cy="345.9" r="1.2"/>
<circle cx="247.6" cy="347.2" r="1.2"/>
<circle cx="254.3" cy="356.3" r="1.2"/>
<circle cx="250.2" cy="348.4" r="1.2"/>
<circle cx="247.4" cy="351.4" r="1.2"/>
<circle cx="255.1" cy="342.5" r="1.2"/>
<circle cx="251.5" cy="346.9" r="1.2"/>
<circle cx="255.8" cy="356.9" r="1.2"/>
<circle cx="248.9" cy="349.6" r="1.2"/>
<circle cx="255.3" cy="346.7" r="1.2"/>
<circle cx="248.8" cy="356.3" r="1.2"/>
<circle cx="250.2" cy="355.4" r="1.2"/>
<circle cx="248.5" cy="349.6" r="1.2"/>
<circle cx="256" cy="356.1" r="1.2"/>
<circle cx="252.7" cy="345.2" r="1.2"/>
<circle cx="254.9" cy="345.1" r="1.2"/>
<circle cx="248" cy="342.8" r="1.2"/>
<circle cx="249.8" cy="353.6" r="1.2"/>
<circle cx="254.8" cy="356.4" r="1.2"/>
<circle cx="248.2" cy="353.4" r="1.2"/>
<circle cx="255.4" cy="353.1" r="1.2"/>
<circle cx="247.7" cy="349.1" r="1.2"/>
<circle cx="249.8" cy="345.6" r="1.2"/>
<circle cx="248.8" cy="353.4" r="1.2"/>
<circle cx="183.2" cy="338.4" r="1.2"/>
<circle cx="173" cy="394" r="1.2"/>
<circle cx="169.5" cy="397" r="1.2"/>
<circle cx="260.5" cy="397.7" r="1.2"/>
<circle cx="262" cy="399" r="1.2"/>
<circle cx="175" cy="401" r="1.2"/>
</g>
<g font-weight="bold" fill="#111" stroke="#111" stroke-width="0.55">
<text x="216.5" y="275.6" font-size="14.5" textLength="104.3" lengthAdjust="spacingAndGlyphs">Patients vs. NBCs</text>
<text x="147.2" y="314.8" font-size="11.6" textLength="36.6" lengthAdjust="spacingAndGlyphs">Hyper:</text>
<text x="155" y="330.5" font-size="11.3" textLength="19.9" lengthAdjust="spacingAndGlyphs">258</text>
<text x="286.25" y="313.8" font-size="11.7" textLength="33.1" lengthAdjust="spacingAndGlyphs">Hypo:</text>
<text x="289.1" y="329.6" font-size="11.5" textLength="26.4" lengthAdjust="spacingAndGlyphs">1059</text>
<text x="206.2" y="466.9" font-size="11.7" textLength="72.9" lengthAdjust="spacingAndGlyphs">Fold Change</text>
<text transform="translate(114 416.6) rotate(-90)" font-size="13.5" textLength="71.6" lengthAdjust="spacingAndGlyphs">Significance</text>
<text transform="translate(114 336.4) rotate(-90) scale(0.965 1)" font-size="13.5">(-log<tspan font-size="10" dy="3.2">10</tspan><tspan dy="-3.2"> P)</tspan></text>
</g>
<text x="-1.4" y="515.2" font-size="26.5" font-weight="bold" fill="#000" stroke="#000" stroke-width="0.7" textLength="17.8" lengthAdjust="spacingAndGlyphs">C</text>
<g shape-rendering="crispEdges">
<rect x="140" y="515.8" width="4.8" height="2.4" fill="#e00808"/>
<rect x="144.8" y="515.8" width="4.8" height="2.4" fill="#f85858"/>
<rect x="149.6" y="515.8" width="4.8" height="2.4" fill="#f03030"/>
<rect x="154.3" y="515.8" width="4.8" height="2.4" fill="#f03030"/>
<rect x="159.1" y="515.8" width="4.8" height="2.4" fill="#d4b0c4"/>
<rect x="163.9" y="515.8" width="4.8" height="2.4" fill="#e00808"/>
<rect x="168.7" y="515.8" width="4.8" height="2.4" fill="#f03030"/>
<rect x="173.4" y="515.8" width="4.8" height="2.4" fill="#f85858"/>
<rect x="178.2" y="515.8" width="4.8" height="2.4" fill="#e00808"/>
<rect x="183" y="515.8" width="4.8" height="2.4" fill="#f85858"/>
<rect x="187.8" y="515.8" width="4.8" height="2.4" fill="#f89090"/>
<rect x="192.5" y="515.8" width="4.8" height="2.4" fill="#1c10d8"/>
<rect x="197.3" y="515.8" width="4.8" height="2.4" fill="#1c10d8"/>
<rect x="202.1" y="515.8" width="4.8" height="2.4" fill="#1c10d8"/>
<rect x="206.9" y="515.8" width="4.8" height="2.4" fill="#4010c0"/>
<rect x="211.6" y="515.8" width="4.8" height="2.4" fill="#4010c0"/>
<rect x="216.4" y="515.8" width="4.8" height="2.4" fill="#4010c0"/>
<rect x="221.2" y="515.8" width="4.8" height="2.4" fill="#4010c0"/>
<rect x="225.9" y="515.8" width="4.8" height="2.4" fill="#6a6af8"/>
<rect x="230.7" y="515.8" width="4.8" height="2.4" fill="#1c10d8"/>
<rect x="235.5" y="515.8" width="4.8" height="2.4" fill="#9090f8"/>
<rect x="240.3" y="515.8" width="4.8" height="2.4" fill="#1c10d8"/>
<rect x="245.1" y="515.8" width="4.8" height="2.4" fill="#1c10d8"/>
<rect x="249.8" y="515.8" width="4.8" height="2.4" fill="#9090f8"/>
<rect x="254.6" y="515.8" width="4.8" height="2.4" fill="#d0c8f0"/>
<rect x="259.4" y="515.8" width="4.8" height="2.4" fill="#d0c8f0"/>
<rect x="264.1" y="515.8" width="4.8" height="2.4" fill="#6a6af8"/>
<rect x="268.9" y="515.8" width="4.8" height="2.4" fill="#1c10d8"/>
<rect x="273.7" y="515.8" width="4.8" height="2.4" fill="#1c10d8"/>
<rect x="278.5" y="515.8" width="4.8" height="2.4" fill="#1c10d8"/>
<rect x="283.2" y="515.8" width="4.8" height="2.4" fill="#1c10d8"/>
<rect x="288" y="515.8" width="4.8" height="2.4" fill="#4010c0"/>
<rect x="140" y="518.2" width="4.8" height="2.4" fill="#e00808"/>
<rect x="144.8" y="518.2" width="4.8" height="2.4" fill="#e00808"/>
<rect x="149.6" y="518.2" width="4.8" height="2.4" fill="#e00808"/>
<rect x="154.3" y="518.2" width="4.8" height="2.4" fill="#f03030"/>
<rect x="159.1" y="518.2" width="4.8" height="2.4" fill="#e0b4c4"/>
<rect x="163.9" y="518.2" width="4.8" height="2.4" fill="#f07088"/>
<rect x="168.7" y="518.2" width="4.8" height="2.4" fill="#f03030"/>
<rect x="173.4" y="518.2" width="4.8" height="2.4" fill="#e00808"/>
<rect x="178.2" y="518.2" width="4.8" height="2.4" fill="#f85858"/>
<rect x="183" y="518.2" width="4.8" height="2.4" fill="#f07088"/>
<rect x="187.8" y="518.2" width="4.8" height="2.4" fill="#f07088"/>
<rect x="192.5" y="518.2" width="4.8" height="2.4" fill="#6a6af8"/>
<rect x="197.3" y="518.2" width="4.8" height="2.4" fill="#1c10d8"/>
<rect x="202.1" y="518.2" width="4.8" height="2.4" fill="#4010c0"/>
<rect x="206.9" y="518.2" width="4.8" height="2.4" fill="#9090f8"/>
<rect x="211.6" y="518.2" width="4.8" height="2.4" fill="#6a6af8"/>
<rect x="216.4" y="518.2" width="4.8" height="2.4" fill="#6a6af8"/>
<rect x="221.2" y="518.2" width="4.8" height="2.4" fill="#6a6af8"/>
<rect x="225.9" y="518.2" width="4.8" height="2.4" fill="#4010c0"/>
<rect x="230.7" y="518.2" width="4.8" height="2.4" fill="#1c10d8"/>
<rect x="235.5" y="518.2" width="4.8" height="2.4" fill="#6a6af8"/>
<rect x="240.3" y="518.2" width="4.8" height="2.4" fill="#e0e0fc"/>
<rect x="245.1" y="518.2" width="4.8" height="2.4" fill="#1c10d8"/>
<rect x="249.8" y="518.2" width="4.8" height="2.4" fill="#1c10d8"/>
<rect x="254.6" y="518.2" width="4.8" height="2.4" fill="#9090f8"/>
<rect x="259.4" y="518.2" width="4.8" height="2.4" fill="#d0c8f0"/>
<rect x="264.1" y="518.2" width="4.8" height="2.4" fill="#9090f8"/>
<rect x="268.9" y="518.2" width="4.8" height="2.4" fill="#6a6af8"/>
<rect x="273.7" y="518.2" width="4.8" height="2.4" fill="#4010c0"/>
<rect x="278.5" y="518.2" width="4.8" height="2.4" fill="#4010c0"/>
<rect x="283.2" y="518.2" width="4.8" height="2.4" fill="#9090f8"/>
<rect x="288" y="518.2" width="4.8" height="2.4" fill="#1c10d8"/>
<rect x="140" y="520.6" width="4.8" height="2.4" fill="#e00808"/>
<rect x="144.8" y="520.6" width="4.8" height="2.4" fill="#e00808"/>
<rect x="149.6" y="520.6" width="4.8" height="2.4" fill="#e00808"/>
<rect x="154.3" y="520.6" width="4.8" height="2.4" fill="#f03030"/>
<rect x="159.1" y="520.6" width="4.8" height="2.4" fill="#e0b4c4"/>
<rect x="163.9" y="520.6" width="4.8" height="2.4" fill="#e00808"/>
<rect x="168.7" y="520.6" width="4.8" height="2.4" fill="#e00808"/>
<rect x="173.4" y="520.6" width="4.8" height="2.4" fill="#e00808"/>
<rect x="178.2" y="520.6" width="4.8" height="2.4" fill="#e00808"/>
<rect x="183" y="520.6" width="4.8" height="2.4" fill="#f85858"/>
<rect x="187.8" y="520.6" width="4.8" height="2.4" fill="#f4c8f0"/>
<rect x="192.5" y="520.6" width="4.8" height="2.4" fill="#9090f8"/>
<rect x="197.3" y="520.6" width="4.8" height="2.4" fill="#e0e0fc"/>
<rect x="202.1" y="520.6" width="4.8" height="2.4" fill="#6a6af8"/>
<rect x="206.9" y="520.6" width="4.8" height="2.4" fill="#1c10d8"/>
<rect x="211.6" y="520.6" width="4.8" height="2.4" fill="#9090f8"/>
<rect x="216.4" y="520.6" width="4.8" height="2.4" fill="#6a6af8"/>
<rect x="221.2" y="520.6" width="4.8" height="2.4" fill="#9090f8"/>
<rect x="225.9" y="520.6" width="4.8" height="2.4" fill="#9090f8"/>
<rect x="230.7" y="520.6" width="4.8" height="2.4" fill="#e0e0fc"/>
<rect x="235.5" y="520.6" width="4.8" height="2.4" fill="#e0e0fc"/>
<rect x="240.3" y="520.6" width="4.8" height="2.4" fill="#f4c8f0"/>
<rect x="245.1" y="520.6" width="4.8" height="2.4" fill="#d0c8f0"/>
<rect x="249.8" y="520.6" width="4.8" height="2.4" fill="#1c10d8"/>
<rect x="254.6" y="520.6" width="4.8" height="2.4" fill="#d0c8f0"/>
<rect x="259.4" y="520.6" width="4.8" height="2.4" fill="#6a6af8"/>
<rect x="264.1" y="520.6" width="4.8" height="2.4" fill="#9090f8"/>
<rect x="268.9" y="520.6" width="4.8" height="2.4" fill="#6a6af8"/>
<rect x="273.7" y="520.6" width="4.8" height="2.4" fill="#6a6af8"/>
<rect x="278.5" y="520.6" width="4.8" height="2.4" fill="#6a6af8"/>
<rect x="283.2" y="520.6" width="4.8" height="2.4" fill="#e0e0fc"/>
<rect x="288" y="520.6" width="4.8" height="2.4" fill="#6a6af8"/>
<rect x="140" y="522.9" width="4.8" height="2.4" fill="#f03030"/>
<rect x="144.8" y="522.9" width="4.8" height="2.4" fill="#f85858"/>
<rect x="149.6" y="522.9" width="4.8" height="2.4" fill="#e00808"/>
<rect x="154.3" y="522.9" width="4.8" height="2.4" fill="#e00808"/>
<rect x="159.1" y="522.9" width="4.8" height="2.4" fill="#e0b4c4"/>
<rect x="163.9" y="522.9" width="4.8" height="2.4" fill="#f03030"/>
<rect x="168.7" y="522.9" width="4.8" height="2.4" fill="#f03030"/>
<rect x="173.4" y="522.9" width="4.8" height="2.4" fill="#e00808"/>
<rect x="178.2" y="522.9" width="4.8" height="2.4" fill="#e00808"/>
<rect x="183" y="522.9" width="4.8" height="2.4" fill="#f07088"/>
<rect x="187.8" y="522.9" width="4.8" height="2.4" fill="#f89090"/>
<rect x="192.5" y="522.9" width="4.8" height="2.4" fill="#4010c0"/>
<rect x="197.3" y="522.9" width="4.8" height="2.4" fill="#1c10d8"/>
<rect x="202.1" y="522.9" width="4.8" height="2.4" fill="#4010c0"/>
<rect x="206.9" y="522.9" width="4.8" height="2.4" fill="#1c10d8"/>
<rect x="211.6" y="522.9" width="4.8" height="2.4" fill="#4010c0"/>
<rect x="216.4" y="522.9" width="4.8" height="2.4" fill="#6a6af8"/>
<rect x="221.2" y="522.9" width="4.8" height="2.4" fill="#1c10d8"/>
<rect x="225.9" y="522.9" width="4.8" height="2.4" fill="#4010c0"/>
<rect x="230.7" y="522.9" width="4.8" height="2.4" fill="#9090f8"/>
<rect x="235.5" y="522.9" width="4.8" height="2.4" fill="#d0c8f0"/>
<rect x="240.3" y="522.9" width="4.8" height="2.4" fill="#9090f8"/>
<rect x="245.1" y="522.9" width="4.8" height="2.4" fill="#9090f8"/>
<rect x="249.8" y="522.9" width="4.8" height="2.4" fill="#1c10d8"/>
<rect x="254.6" y="522.9" width="4.8" height="2.4" fill="#9090f8"/>
<rect x="259.4" y="522.9" width="4.8" height="2.4" fill="#d0c8f0"/>
<rect x="264.1" y="522.9" width="4.8" height="2.4" fill="#6a6af8"/>
<rect x="268.9" y="522.9" width="4.8" height="2.4" fill="#1c10d8"/>
<rect x="273.7" y="522.9" width="4.8" height="2.4" fill="#1c10d8"/>
<rect x="278.5" y="522.9" width="4.8" height="2.4" fill="#1c10d8"/>
<rect x="283.2" y="522.9" width="4.8" height="2.4" fill="#d0c8f0"/>
<rect x="288" y="522.9" width="4.8" height="2.4" fill="#4010c0"/>
<rect x="140" y="525.3" width="4.8" height="2.4" fill="#f03030"/>
<rect x="144.8" y="525.3" width="4.8" height="2.4" fill="#f03030"/>
<rect x="149.6" y="525.3" width="4.8" height="2.4" fill="#f85858"/>
<rect x="154.3" y="525.3" width="4.8" height="2.4" fill="#f03030"/>
<rect x="159.1" y="525.3" width="4.8" height="2.4" fill="#d4b0c4"/>
<rect x="163.9" y="525.3" width="4.8" height="2.4" fill="#e00808"/>
<rect x="168.7" y="525.3" width="4.8" height="2.4" fill="#f85858"/>
<rect x="173.4" y="525.3" width="4.8" height="2.4" fill="#e00808"/>
<rect x="178.2" y="525.3" width="4.8" height="2.4" fill="#f03030"/>
<rect x="183" y="525.3" width="4.8" height="2.4" fill="#f07088"/>
<rect x="187.8" y="525.3" width="4.8" height="2.4" fill="#f89090"/>
<rect x="192.5" y="525.3" width="4.8" height="2.4" fill="#9090f8"/>
<rect x="197.3" y="525.3" width="4.8" height="2.4" fill="#9090f8"/>
<rect x="202.1" y="525.3" width="4.8" height="2.4" fill="#9090f8"/>
<rect x="206.9" y="525.3" width="4.8" height="2.4" fill="#1c10d8"/>
<rect x="211.6" y="525.3" width="4.8" height="2.4" fill="#1c10d8"/>
<rect x="216.4" y="525.3" width="4.8" height="2.4" fill="#1c10d8"/>
<rect x="221.2" y="525.3" width="4.8" height="2.4" fill="#6a6af8"/>
<rect x="225.9" y="525.3" width="4.8" height="2.4" fill="#1c10d8"/>
<rect x="230.7" y="525.3" width="4.8" height="2.4" fill="#d0c8f0"/>
<rect x="235.5" y="525.3" width="4.8" height="2.4" fill="#9090f8"/>
<rect x="240.3" y="525.3" width="4.8" height="2.4" fill="#d0c8f0"/>
<rect x="245.1" y="525.3" width="4.8" height="2.4" fill="#1c10d8"/>
<rect x="249.8" y="525.3" width="4.8" height="2.4" fill="#1c10d8"/>
<rect x="254.6" y="525.3" width="4.8" height="2.4" fill="#9090f8"/>
<rect x="259.4" y="525.3" width="4.8" height="2.4" fill="#9090f8"/>
<rect x="264.1" y="525.3" width="4.8" height="2.4" fill="#6a6af8"/>
<rect x="268.9" y="525.3" width="4.8" height="2.4" fill="#9090f8"/>
<rect x="273.7" y="525.3" width="4.8" height="2.4" fill="#6a6af8"/>
<rect x="278.5" y="525.3" width="4.8" height="2.4" fill="#1c10d8"/>
<rect x="283.2" y="525.3" width="4.8" height="2.4" fill="#d0c8f0"/>
<rect x="288" y="525.3" width="4.8" height="2.4" fill="#6a6af8"/>
<rect x="140" y="527.7" width="4.8" height="2.4" fill="#e00808"/>
<rect x="144.8" y="527.7" width="4.8" height="2.4" fill="#e00808"/>
<rect x="149.6" y="527.7" width="4.8" height="2.4" fill="#f03030"/>
<rect x="154.3" y="527.7" width="4.8" height="2.4" fill="#e00808"/>
<rect x="159.1" y="527.7" width="4.8" height="2.4" fill="#b8a0c4"/>
<rect x="163.9" y="527.7" width="4.8" height="2.4" fill="#e00808"/>
<rect x="168.7" y="527.7" width="4.8" height="2.4" fill="#e00808"/>
<rect x="173.4" y="527.7" width="4.8" height="2.4" fill="#f03030"/>
<rect x="178.2" y="527.7" width="4.8" height="2.4" fill="#f03030"/>
<rect x="183" y="527.7" width="4.8" height="2.4" fill="#f85858"/>
<rect x="187.8" y="527.7" width="4.8" height="2.4" fill="#f89090"/>
<rect x="192.5" y="527.7" width="4.8" height="2.4" fill="#d0c8f0"/>
<rect x="197.3" y="527.7" width="4.8" height="2.4" fill="#9090f8"/>
<rect x="202.1" y="527.7" width="4.8" height="2.4" fill="#d0c8f0"/>
<rect x="206.9" y="527.7" width="4.8" height="2.4" fill="#6a6af8"/>
<rect x="211.6" y="527.7" width="4.8" height="2.4" fill="#6a6af8"/>
<rect x="216.4" y="527.7" width="4.8" height="2.4" fill="#6a6af8"/>
<rect x="221.2" y="527.7" width="4.8" height="2.4" fill="#e0e0fc"/>
<rect x="225.9" y="527.7" width="4.8" height="2.4" fill="#d0c8f0"/>
<rect x="230.7" y="527.7" width="4.8" height="2.4" fill="#9090f8"/>
<rect x="235.5" y="527.7" width="4.8" height="2.4" fill="#e0e0fc"/>
<rect x="240.3" y="527.7" width="4.8" height="2.4" fill="#d0c8f0"/>
<rect x="245.1" y="527.7" width="4.8" height="2.4" fill="#e0e0fc"/>
<rect x="249.8" y="527.7" width="4.8" height="2.4" fill="#9090f8"/>
<rect x="254.6" y="527.7" width="4.8" height="2.4" fill="#e0e0fc"/>
<rect x="259.4" y="527.7" width="4.8" height="2.4" fill="#f4c8f0"/>
<rect x="264.1" y="527.7" width="4.8" height="2.4" fill="#6a6af8"/>
<rect x="268.9" y="527.7" width="4.8" height="2.4" fill="#9090f8"/>
<rect x="273.7" y="527.7" width="4.8" height="2.4" fill="#9090f8"/>
<rect x="278.5" y="527.7" width="4.8" height="2.4" fill="#e0e0fc"/>
<rect x="283.2" y="527.7" width="4.8" height="2.4" fill="#e0e0fc"/>
<rect x="288" y="527.7" width="4.8" height="2.4" fill="#d0c8f0"/>
<rect x="140" y="530.1" width="4.8" height="2.4" fill="#f85858"/>
<rect x="144.8" y="530.1" width="4.8" height="2.4" fill="#f85858"/>
<rect x="149.6" y="530.1" width="4.8" height="2.4" fill="#f85858"/>
<rect x="154.3" y="530.1" width="4.8" height="2.4" fill="#f07088"/>
<rect x="159.1" y="530.1" width="4.8" height="2.4" fill="#d4b0c4"/>
<rect x="163.9" y="530.1" width="4.8" height="2.4" fill="#f03030"/>
<rect x="168.7" y="530.1" width="4.8" height="2.4" fill="#f85858"/>
<rect x="173.4" y="530.1" width="4.8" height="2.4" fill="#f07088"/>
<rect x="178.2" y="530.1" width="4.8" height="2.4" fill="#e00808"/>
<rect x="183" y="530.1" width="4.8" height="2.4" fill="#f07088"/>
<rect x="187.8" y="530.1" width="4.8" height="2.4" fill="#f4c8f0"/>
<rect x="192.5" y="530.1" width="4.8" height="2.4" fill="#1c10d8"/>
<rect x="197.3" y="530.1" width="4.8" height="2.4" fill="#1c10d8"/>
<rect x="202.1" y="530.1" width="4.8" height="2.4" fill="#9090f8"/>
<rect x="206.9" y="530.1" width="4.8" height="2.4" fill="#6a6af8"/>
<rect x="211.6" y="530.1" width="4.8" height="2.4" fill="#9090f8"/>
<rect x="216.4" y="530.1" width="4.8" height="2.4" fill="#6a6af8"/>
<rect x="221.2" y="530.1" width="4.8" height="2.4" fill="#1c10d8"/>
<rect x="225.9" y="530.1" width="4.8" height="2.4" fill="#6a6af8"/>
<rect x="230.7" y="530.1" width="4.8" height="2.4" fill="#9090f8"/>
<rect x="235.5" y="530.1" width="4.8" height="2.4" fill="#f89090"/>
<rect x="240.3" y="530.1" width="4.8" height="2.4" fill="#6a6af8"/>
<rect x="245.1" y="530.1" width="4.8" height="2.4" fill="#d0c8f0"/>
<rect x="249.8" y="530.1" width="4.8" height="2.4" fill="#9090f8"/>
<rect x="254.6" y="530.1" width="4.8" height="2.4" fill="#9090f8"/>
<rect x="259.4" y="530.1" width="4.8" height="2.4" fill="#d0c8f0"/>
<rect x="264.1" y="530.1" width="4.8" height="2.4" fill="#f4c8f0"/>
<rect x="268.9" y="530.1" width="4.8" height="2.4" fill="#1c10d8"/>
<rect x="273.7" y="530.1" width="4.8" height="2.4" fill="#6a6af8"/>
<rect x="278.5" y="530.1" width="4.8" height="2.4" fill="#1c10d8"/>
<rect x="283.2" y="530.1" width="4.8" height="2.4" fill="#f4c8f0"/>
<rect x="288" y="530.1" width="4.8" height="2.4" fill="#1c10d8"/>
<rect x="140" y="532.4" width="4.8" height="2.4" fill="#f85858"/>
<rect x="144.8" y="532.4" width="4.8" height="2.4" fill="#f03030"/>
<rect x="149.6" y="532.4" width="4.8" height="2.4" fill="#f85858"/>
<rect x="154.3" y="532.4" width="4.8" height="2.4" fill="#f85858"/>
<rect x="159.1" y="532.4" width="4.8" height="2.4" fill="#e0b4c4"/>
<rect x="163.9" y="532.4" width="4.8" height="2.4" fill="#e00808"/>
<rect x="168.7" y="532.4" width="4.8" height="2.4" fill="#e00808"/>
<rect x="173.4" y="532.4" width="4.8" height="2.4" fill="#f85858"/>
<rect x="178.2" y="532.4" width="4.8" height="2.4" fill="#f03030"/>
<rect x="183" y="532.4" width="4.8" height="2.4" fill="#f03030"/>
<rect x="187.8" y="532.4" width="4.8" height="2.4" fill="#f89090"/>
<rect x="192.5" y="532.4" width="4.8" height="2.4" fill="#6a6af8"/>
<rect x="197.3" y="532.4" width="4.8" height="2.4" fill="#6a6af8"/>
<rect x="202.1" y="532.4" width="4.8" height="2.4" fill="#d0c8f0"/>
<rect x="206.9" y="532.4" width="4.8" height="2.4" fill="#9090f8"/>
<rect x="211.6" y="532.4" width="4.8" height="2.4" fill="#9090f8"/>
<rect x="216.4" y="532.4" width="4.8" height="2.4" fill="#6a6af8"/>
<rect x="221.2" y="532.4" width="4.8" height="2.4" fill="#6a6af8"/>
<rect x="225.9" y="532.4" width="4.8" height="2.4" fill="#6a6af8"/>
<rect x="230.7" y="532.4" width="4.8" height="2.4" fill="#9090f8"/>
<rect x="235.5" y="532.4" width="4.8" height="2.4" fill="#e0e0fc"/>
<rect x="240.3" y="532.4" width="4.8" height="2.4" fill="#d0c8f0"/>
<rect x="245.1" y="532.4" width="4.8" height="2.4" fill="#9090f8"/>
<rect x="249.8" y="532.4" width="4.8" height="2.4" fill="#6a6af8"/>
<rect x="254.6" y="532.4" width="4.8" height="2.4" fill="#d0c8f0"/>
<rect x="259.4" y="532.4" width="4.8" height="2.4" fill="#e0e0fc"/>
<rect x="264.1" y="532.4" width="4.8" height="2.4" fill="#d0c8f0"/>
<rect x="268.9" y="532.4" width="4.8" height="2.4" fill="#d0c8f0"/>
<rect x="273.7" y="532.4" width="4.8" height="2.4" fill="#6a6af8"/>
<rect x="278.5" y="532.4" width="4.8" height="2.4" fill="#d0c8f0"/>
<rect x="283.2" y="532.4" width="4.8" height="2.4" fill="#d0c8f0"/>
<rect x="288" y="532.4" width="4.8" height="2.4" fill="#1c10d8"/>
<rect x="140" y="534.8" width="4.8" height="2.4" fill="#f03030"/>
<rect x="144.8" y="534.8" width="4.8" height="2.4" fill="#f85858"/>
<rect x="149.6" y="534.8" width="4.8" height="2.4" fill="#f03030"/>
<rect x="154.3" y="534.8" width="4.8" height="2.4" fill="#e00808"/>
<rect x="159.1" y="534.8" width="4.8" height="2.4" fill="#c8a0b8"/>
<rect x="163.9" y="534.8" width="4.8" height="2.4" fill="#f85858"/>
<rect x="168.7" y="534.8" width="4.8" height="2.4" fill="#e00808"/>
<rect x="173.4" y="534.8" width="4.8" height="2.4" fill="#f85858"/>
<rect x="178.2" y="534.8" width="4.8" height="2.4" fill="#f03030"/>
<rect x="183" y="534.8" width="4.8" height="2.4" fill="#f85858"/>
<rect x="187.8" y="534.8" width="4.8" height="2.4" fill="#f89090"/>
<rect x="192.5" y="534.8" width="4.8" height="2.4" fill="#e0e0fc"/>
<rect x="197.3" y="534.8" width="4.8" height="2.4" fill="#6a6af8"/>
<rect x="202.1" y="534.8" width="4.8" height="2.4" fill="#6a6af8"/>
<rect x="206.9" y="534.8" width="4.8" height="2.4" fill="#9090f8"/>
<rect x="211.6" y="534.8" width="4.8" height="2.4" fill="#9090f8"/>
<rect x="216.4" y="534.8" width="4.8" height="2.4" fill="#6a6af8"/>
<rect x="221.2" y="534.8" width="4.8" height="2.4" fill="#6a6af8"/>
<rect x="225.9" y="534.8" width="4.8" height="2.4" fill="#d0c8f0"/>
<rect x="230.7" y="534.8" width="4.8" height="2.4" fill="#e0e0fc"/>
<rect x="235.5" y="534.8" width="4.8" height="2.4" fill="#f4c8f0"/>
<rect x="240.3" y="534.8" width="4.8" height="2.4" fill="#f4c8f0"/>
<rect x="245.1" y="534.8" width="4.8" height="2.4" fill="#6a6af8"/>
<rect x="249.8" y="534.8" width="4.8" height="2.4" fill="#9090f8"/>
<rect x="254.6" y="534.8" width="4.8" height="2.4" fill="#e0e0fc"/>
<rect x="259.4" y="534.8" width="4.8" height="2.4" fill="#e0e0fc"/>
<rect x="264.1" y="534.8" width="4.8" height="2.4" fill="#e0e0fc"/>
<rect x="268.9" y="534.8" width="4.8" height="2.4" fill="#9090f8"/>
<rect x="273.7" y="534.8" width="4.8" height="2.4" fill="#6a6af8"/>
<rect x="278.5" y="534.8" width="4.8" height="2.4" fill="#e0e0fc"/>
<rect x="283.2" y="534.8" width="4.8" height="2.4" fill="#e0e0fc"/>
<rect x="288" y="534.8" width="4.8" height="2.4" fill="#6a6af8"/>
<rect x="140" y="537.2" width="4.8" height="2.4" fill="#e00808"/>
<rect x="144.8" y="537.2" width="4.8" height="2.4" fill="#f03030"/>
<rect x="149.6" y="537.2" width="4.8" height="2.4" fill="#f03030"/>
<rect x="154.3" y="537.2" width="4.8" height="2.4" fill="#f03030"/>
<rect x="159.1" y="537.2" width="4.8" height="2.4" fill="#b8a0c4"/>
<rect x="163.9" y="537.2" width="4.8" height="2.4" fill="#e00808"/>
<rect x="168.7" y="537.2" width="4.8" height="2.4" fill="#f03030"/>
<rect x="173.4" y="537.2" width="4.8" height="2.4" fill="#f89090"/>
<rect x="178.2" y="537.2" width="4.8" height="2.4" fill="#e00808"/>
<rect x="183" y="537.2" width="4.8" height="2.4" fill="#f07088"/>
<rect x="187.8" y="537.2" width="4.8" height="2.4" fill="#f85858"/>
<rect x="192.5" y="537.2" width="4.8" height="2.4" fill="#d0c8f0"/>
<rect x="197.3" y="537.2" width="4.8" height="2.4" fill="#d0c8f0"/>
<rect x="202.1" y="537.2" width="4.8" height="2.4" fill="#e0e0fc"/>
<rect x="206.9" y="537.2" width="4.8" height="2.4" fill="#d0c8f0"/>
<rect x="211.6" y="537.2" width="4.8" height="2.4" fill="#9090f8"/>
<rect x="216.4" y="537.2" width="4.8" height="2.4" fill="#e0e0fc"/>
<rect x="221.2" y="537.2" width="4.8" height="2.4" fill="#d0c8f0"/>
<rect x="225.9" y="537.2" width="4.8" height="2.4" fill="#d0c8f0"/>
<rect x="230.7" y="537.2" width="4.8" height="2.4" fill="#e0e0fc"/>
<rect x="235.5" y="537.2" width="4.8" height="2.4" fill="#e0e0fc"/>
<rect x="240.3" y="537.2" width="4.8" height="2.4" fill="#e0e0fc"/>
<rect x="245.1" y="537.2" width="4.8" height="2.4" fill="#e0e0fc"/>
<rect x="249.8" y="537.2" width="4.8" height="2.4" fill="#e0e0fc"/>
<rect x="254.6" y="537.2" width="4.8" height="2.4" fill="#f4c8f0"/>
<rect x="259.4" y="537.2" width="4.8" height="2.4" fill="#f4c8f0"/>
<rect x="264.1" y="537.2" width="4.8" height="2.4" fill="#e0e0fc"/>
<rect x="268.9" y="537.2" width="4.8" height="2.4" fill="#d0c8f0"/>
<rect x="273.7" y="537.2" width="4.8" height="2.4" fill="#e0e0fc"/>
<rect x="278.5" y="537.2" width="4.8" height="2.4" fill="#e0e0fc"/>
<rect x="283.2" y="537.2" width="4.8" height="2.4" fill="#e0e0fc"/>
<rect x="288" y="537.2" width="4.8" height="2.4" fill="#1c10d8"/>
<rect x="140" y="539.6" width="4.8" height="2.4" fill="#e00808"/>
<rect x="144.8" y="539.6" width="4.8" height="2.4" fill="#f03030"/>
<rect x="149.6" y="539.6" width="4.8" height="2.4" fill="#e00808"/>
<rect x="154.3" y="539.6" width="4.8" height="2.4" fill="#f07088"/>
<rect x="159.1" y="539.6" width="4.8" height="2.4" fill="#b8a0c4"/>
<rect x="163.9" y="539.6" width="4.8" height="2.4" fill="#f03030"/>
<rect x="168.7" y="539.6" width="4.8" height="2.4" fill="#f03030"/>
<rect x="173.4" y="539.6" width="4.8" height="2.4" fill="#f85858"/>
<rect x="178.2" y="539.6" width="4.8" height="2.4" fill="#e00808"/>
<rect x="183" y="539.6" width="4.8" height="2.4" fill="#f07088"/>
<rect x="187.8" y="539.6" width="4.8" height="2.4" fill="#f89090"/>
<rect x="192.5" y="539.6" width="4.8" height="2.4" fill="#e0e0fc"/>
<rect x="197.3" y="539.6" width="4.8" height="2.4" fill="#9090f8"/>
<rect x="202.1" y="539.6" width="4.8" height="2.4" fill="#d0c8f0"/>
<rect x="206.9" y="539.6" width="4.8" height="2.4" fill="#d0c8f0"/>
<rect x="211.6" y="539.6" width="4.8" height="2.4" fill="#d0c8f0"/>
<rect x="216.4" y="539.6" width="4.8" height="2.4" fill="#f4c8f0"/>
<rect x="221.2" y="539.6" width="4.8" height="2.4" fill="#d0c8f0"/>
<rect x="225.9" y="539.6" width="4.8" height="2.4" fill="#f89090"/>
<rect x="230.7" y="539.6" width="4.8" height="2.4" fill="#f4c8f0"/>
<rect x="235.5" y="539.6" width="4.8" height="2.4" fill="#d0c8f0"/>
<rect x="240.3" y="539.6" width="4.8" height="2.4" fill="#e0e0fc"/>
<rect x="245.1" y="539.6" width="4.8" height="2.4" fill="#d0c8f0"/>
<rect x="249.8" y="539.6" width="4.8" height="2.4" fill="#d0c8f0"/>
<rect x="254.6" y="539.6" width="4.8" height="2.4" fill="#f4c8f0"/>
<rect x="259.4" y="539.6" width="4.8" height="2.4" fill="#e0e0fc"/>
<rect x="264.1" y="539.6" width="4.8" height="2.4" fill="#f4c8f0"/>
<rect x="268.9" y="539.6" width="4.8" height="2.4" fill="#f4c8f0"/>
<rect x="273.7" y="539.6" width="4.8" height="2.4" fill="#e0e0fc"/>
<rect x="278.5" y="539.6" width="4.8" height="2.4" fill="#9090f8"/>
<rect x="283.2" y="539.6" width="4.8" height="2.4" fill="#e0e0fc"/>
<rect x="288" y="539.6" width="4.8" height="2.4" fill="#9090f8"/>
<rect x="140" y="542" width="4.8" height="2.4" fill="#f03030"/>
<rect x="144.8" y="542" width="4.8" height="2.4" fill="#f03030"/>
<rect x="149.6" y="542" width="4.8" height="2.4" fill="#f85858"/>
<rect x="154.3" y="542" width="4.8" height="2.4" fill="#f85858"/>
<rect x="159.1" y="542" width="4.8" height="2.4" fill="#e0b4c4"/>
<rect x="163.9" y="542" width="4.8" height="2.4" fill="#e00808"/>
<rect x="168.7" y="542" width="4.8" height="2.4" fill="#f03030"/>
<rect x="173.4" y="542" width="4.8" height="2.4" fill="#f85858"/>
<rect x="178.2" y="542" width="4.8" height="2.4" fill="#e00808"/>
<rect x="183" y="542" width="4.8" height="2.4" fill="#f85858"/>
<rect x="187.8" y="542" width="4.8" height="2.4" fill="#f89090"/>
<rect x="192.5" y="542" width="4.8" height="2.4" fill="#9090f8"/>
<rect x="197.3" y="542" width="4.8" height="2.4" fill="#e0e0fc"/>
<rect x="202.1" y="542" width="4.8" height="2.4" fill="#f4c8f0"/>
<rect x="206.9" y="542" width="4.8" height="2.4" fill="#9090f8"/>
<rect x="211.6" y="542" width="4.8" height="2.4" fill="#e0e0fc"/>
<rect x="216.4" y="542" width="4.8" height="2.4" fill="#d0c8f0"/>
<rect x="221.2" y="542" width="4.8" height="2.4" fill="#f4c8f0"/>
<rect x="225.9" y="542" width="4.8" height="2.4" fill="#9090f8"/>
<rect x="230.7" y="542" width="4.8" height="2.4" fill="#f89090"/>
<rect x="235.5" y="542" width="4.8" height="2.4" fill="#f07088"/>
<rect x="240.3" y="542" width="4.8" height="2.4" fill="#f07088"/>
<rect x="245.1" y="542" width="4.8" height="2.4" fill="#9090f8"/>
<rect x="249.8" y="542" width="4.8" height="2.4" fill="#9090f8"/>
<rect x="254.6" y="542" width="4.8" height="2.4" fill="#d0c8f0"/>
<rect x="259.4" y="542" width="4.8" height="2.4" fill="#f89090"/>
<rect x="264.1" y="542" width="4.8" height="2.4" fill="#d0c8f0"/>
<rect x="268.9" y="542" width="4.8" height="2.4" fill="#d0c8f0"/>
<rect x="273.7" y="542" width="4.8" height="2.4" fill="#9090f8"/>
<rect x="278.5" y="542" width="4.8" height="2.4" fill="#d0c8f0"/>
<rect x="283.2" y="542" width="4.8" height="2.4" fill="#e0e0fc"/>
<rect x="288" y="542" width="4.8" height="2.4" fill="#d0c8f0"/>
<rect x="140" y="544.3" width="4.8" height="2.4" fill="#f03030"/>
<rect x="144.8" y="544.3" width="4.8" height="2.4" fill="#e00808"/>
<rect x="149.6" y="544.3" width="4.8" height="2.4" fill="#f03030"/>
<rect x="154.3" y="544.3" width="4.8" height="2.4" fill="#f07088"/>
<rect x="159.1" y="544.3" width="4.8" height="2.4" fill="#c8a0b8"/>
<rect x="163.9" y="544.3" width="4.8" height="2.4" fill="#f85858"/>
<rect x="168.7" y="544.3" width="4.8" height="2.4" fill="#f03030"/>
<rect x="173.4" y="544.3" width="4.8" height="2.4" fill="#e00808"/>
<rect x="178.2" y="544.3" width="4.8" height="2.4" fill="#f85858"/>
<rect x="183" y="544.3" width="4.8" height="2.4" fill="#f07088"/>
<rect x="187.8" y="544.3" width="4.8" height="2.4" fill="#f85858"/>
<rect x="192.5" y="544.3" width="4.8" height="2.4" fill="#e0e0fc"/>
<rect x="197.3" y="544.3" width="4.8" height="2.4" fill="#e0e0fc"/>
<rect x="202.1" y="544.3" width="4.8" height="2.4" fill="#f89090"/>
<rect x="206.9" y="544.3" width="4.8" height="2.4" fill="#e0e0fc"/>
<rect x="211.6" y="544.3" width="4.8" height="2.4" fill="#e0e0fc"/>
<rect x="216.4" y="544.3" width="4.8" height="2.4" fill="#d0c8f0"/>
<rect x="221.2" y="544.3" width="4.8" height="2.4" fill="#d0c8f0"/>
<rect x="225.9" y="544.3" width="4.8" height="2.4" fill="#d0c8f0"/>
<rect x="230.7" y="544.3" width="4.8" height="2.4" fill="#f89090"/>
<rect x="235.5" y="544.3" width="4.8" height="2.4" fill="#e0e0fc"/>
<rect x="240.3" y="544.3" width="4.8" height="2.4" fill="#f4c8f0"/>
<rect x="245.1" y="544.3" width="4.8" height="2.4" fill="#d0c8f0"/>
<rect x="249.8" y="544.3" width="4.8" height="2.4" fill="#e0e0fc"/>
<rect x="254.6" y="544.3" width="4.8" height="2.4" fill="#f4c8f0"/>
<rect x="259.4" y="544.3" width="4.8" height="2.4" fill="#f89090"/>
<rect x="264.1" y="544.3" width="4.8" height="2.4" fill="#e0e0fc"/>
<rect x="268.9" y="544.3" width="4.8" height="2.4" fill="#e0e0fc"/>
<rect x="273.7" y="544.3" width="4.8" height="2.4" fill="#e0e0fc"/>
<rect x="278.5" y="544.3" width="4.8" height="2.4" fill="#9090f8"/>
<rect x="283.2" y="544.3" width="4.8" height="2.4" fill="#f4c8f0"/>
<rect x="288" y="544.3" width="4.8" height="2.4" fill="#e0e0fc"/>
<rect x="140" y="546.7" width="4.8" height="2.4" fill="#6a6af8"/>
<rect x="144.8" y="546.7" width="4.8" height="2.4" fill="#e0e0fc"/>
<rect x="149.6" y="546.7" width="4.8" height="2.4" fill="#d0c8f0"/>
<rect x="154.3" y="546.7" width="4.8" height="2.4" fill="#e0e0fc"/>
<rect x="159.1" y="546.7" width="4.8" height="2.4" fill="#1c10d8"/>
<rect x="163.9" y="546.7" width="4.8" height="2.4" fill="#e0e0fc"/>
<rect x="168.7" y="546.7" width="4.8" height="2.4" fill="#9090f8"/>
<rect x="173.4" y="546.7" width="4.8" height="2.4" fill="#6a6af8"/>
<rect x="178.2" y="546.7" width="4.8" height="2.4" fill="#9090f8"/>
<rect x="183" y="546.7" width="4.8" height="2.4" fill="#1c10d8"/>
<rect x="187.8" y="546.7" width="4.8" height="2.4" fill="#f03030"/>
<rect x="192.5" y="546.7" width="4.8" height="2.4" fill="#e0e0fc"/>
<rect x="197.3" y="546.7" width="4.8" height="2.4" fill="#f89090"/>
<rect x="202.1" y="546.7" width="4.8" height="2.4" fill="#f85858"/>
<rect x="206.9" y="546.7" width="4.8" height="2.4" fill="#e00808"/>
<rect x="211.6" y="546.7" width="4.8" height="2.4" fill="#f85858"/>
<rect x="216.4" y="546.7" width="4.8" height="2.4" fill="#e0e0fc"/>
<rect x="221.2" y="546.7" width="4.8" height="2.4" fill="#f07088"/>
<rect x="225.9" y="546.7" width="4.8" height="2.4" fill="#f89090"/>
<rect x="230.7" y="546.7" width="4.8" height="2.4" fill="#f85858"/>
<rect x="235.5" y="546.7" width="4.8" height="2.4" fill="#f85858"/>
<rect x="240.3" y="546.7" width="4.8" height="2.4" fill="#f89090"/>
<rect x="245.1" y="546.7" width="4.8" height="2.4" fill="#f89090"/>
<rect x="249.8" y="546.7" width="4.8" height="2.4" fill="#f4c8f0"/>
<rect x="254.6" y="546.7" width="4.8" height="2.4" fill="#e0e0fc"/>
<rect x="259.4" y="546.7" width="4.8" height="2.4" fill="#f89090"/>
<rect x="264.1" y="546.7" width="4.8" height="2.4" fill="#f07088"/>
<rect x="268.9" y="546.7" width="4.8" height="2.4" fill="#f4c8f0"/>
<rect x="273.7" y="546.7" width="4.8" height="2.4" fill="#f03030"/>
<rect x="278.5" y="546.7" width="4.8" height="2.4" fill="#f07088"/>
<rect x="283.2" y="546.7" width="4.8" height="2.4" fill="#f85858"/>
<rect x="288" y="546.7" width="4.8" height="2.4" fill="#e0e0fc"/>
<rect x="140" y="549.1" width="4.8" height="2.4" fill="#6a6af8"/>
<rect x="144.8" y="549.1" width="4.8" height="2.4" fill="#e0e0fc"/>
<rect x="149.6" y="549.1" width="4.8" height="2.4" fill="#e0e0fc"/>
<rect x="154.3" y="549.1" width="4.8" height="2.4" fill="#e0e0fc"/>
<rect x="159.1" y="549.1" width="4.8" height="2.4" fill="#1c10d8"/>
<rect x="163.9" y="549.1" width="4.8" height="2.4" fill="#d0c8f0"/>
<rect x="168.7" y="549.1" width="4.8" height="2.4" fill="#9090f8"/>
<rect x="173.4" y="549.1" width="4.8" height="2.4" fill="#1c10d8"/>
<rect x="178.2" y="549.1" width="4.8" height="2.4" fill="#d0c8f0"/>
<rect x="183" y="549.1" width="4.8" height="2.4" fill="#6a6af8"/>
<rect x="187.8" y="549.1" width="4.8" height="2.4" fill="#e00808"/>
<rect x="192.5" y="549.1" width="4.8" height="2.4" fill="#e0e0fc"/>
<rect x="197.3" y="549.1" width="4.8" height="2.4" fill="#f07088"/>
<rect x="202.1" y="549.1" width="4.8" height="2.4" fill="#f03030"/>
<rect x="206.9" y="549.1" width="4.8" height="2.4" fill="#d0c8f0"/>
<rect x="211.6" y="549.1" width="4.8" height="2.4" fill="#f07088"/>
<rect x="216.4" y="549.1" width="4.8" height="2.4" fill="#f03030"/>
<rect x="221.2" y="549.1" width="4.8" height="2.4" fill="#f89090"/>
<rect x="225.9" y="549.1" width="4.8" height="2.4" fill="#f4c8f0"/>
<rect x="230.7" y="549.1" width="4.8" height="2.4" fill="#f85858"/>
<rect x="235.5" y="549.1" width="4.8" height="2.4" fill="#e00808"/>
<rect x="240.3" y="549.1" width="4.8" height="2.4" fill="#f89090"/>
<rect x="245.1" y="549.1" width="4.8" height="2.4" fill="#f89090"/>
<rect x="249.8" y="549.1" width="4.8" height="2.4" fill="#f07088"/>
<rect x="254.6" y="549.1" width="4.8" height="2.4" fill="#f89090"/>
<rect x="259.4" y="549.1" width="4.8" height="2.4" fill="#f03030"/>
<rect x="264.1" y="549.1" width="4.8" height="2.4" fill="#f03030"/>
<rect x="268.9" y="549.1" width="4.8" height="2.4" fill="#f4c8f0"/>
<rect x="273.7" y="549.1" width="4.8" height="2.4" fill="#f4c8f0"/>
<rect x="278.5" y="549.1" width="4.8" height="2.4" fill="#f89090"/>
<rect x="283.2" y="549.1" width="4.8" height="2.4" fill="#f03030"/>
<rect x="288" y="549.1" width="4.8" height="2.4" fill="#f89090"/>
<rect x="140" y="551.5" width="4.8" height="2.4" fill="#1c10d8"/>
<rect x="144.8" y="551.5" width="4.8" height="2.4" fill="#9090f8"/>
<rect x="149.6" y="551.5" width="4.8" height="2.4" fill="#6a6af8"/>
<rect x="154.3" y="551.5" width="4.8" height="2.4" fill="#6a6af8"/>
<rect x="159.1" y="551.5" width="4.8" height="2.4" fill="#4010c0"/>
<rect x="163.9" y="551.5" width="4.8" height="2.4" fill="#1c10d8"/>
<rect x="168.7" y="551.5" width="4.8" height="2.4" fill="#6a6af8"/>
<rect x="173.4" y="551.5" width="4.8" height="2.4" fill="#4010c0"/>
<rect x="178.2" y="551.5" width="4.8" height="2.4" fill="#1c10d8"/>
<rect x="183" y="551.5" width="4.8" height="2.4" fill="#4010c0"/>
<rect x="187.8" y="551.5" width="4.8" height="2.4" fill="#f89090"/>
<rect x="192.5" y="551.5" width="4.8" height="2.4" fill="#f89090"/>
<rect x="197.3" y="551.5" width="4.8" height="2.4" fill="#f4c8f0"/>
<rect x="202.1" y="551.5" width="4.8" height="2.4" fill="#f89090"/>
<rect x="206.9" y="551.5" width="4.8" height="2.4" fill="#6a6af8"/>
<rect x="211.6" y="551.5" width="4.8" height="2.4" fill="#e0e0fc"/>
<rect x="216.4" y="551.5" width="4.8" height="2.4" fill="#f89090"/>
<rect x="221.2" y="551.5" width="4.8" height="2.4" fill="#1c10d8"/>
<rect x="225.9" y="551.5" width="4.8" height="2.4" fill="#d0c8f0"/>
<rect x="230.7" y="551.5" width="4.8" height="2.4" fill="#e0e0fc"/>
<rect x="235.5" y="551.5" width="4.8" height="2.4" fill="#d0c8f0"/>
<rect x="240.3" y="551.5" width="4.8" height="2.4" fill="#e0e0fc"/>
<rect x="245.1" y="551.5" width="4.8" height="2.4" fill="#d0c8f0"/>
<rect x="249.8" y="551.5" width="4.8" height="2.4" fill="#6a6af8"/>
<rect x="254.6" y="551.5" width="4.8" height="2.4" fill="#f89090"/>
<rect x="259.4" y="551.5" width="4.8" height="2.4" fill="#9090f8"/>
<rect x="264.1" y="551.5" width="4.8" height="2.4" fill="#f85858"/>
<rect x="268.9" y="551.5" width="4.8" height="2.4" fill="#f4c8f0"/>
<rect x="273.7" y="551.5" width="4.8" height="2.4" fill="#9090f8"/>
<rect x="278.5" y="551.5" width="4.8" height="2.4" fill="#f89090"/>
<rect x="283.2" y="551.5" width="4.8" height="2.4" fill="#f89090"/>
<rect x="288" y="551.5" width="4.8" height="2.4" fill="#d0c8f0"/>
<rect x="140" y="553.8" width="4.8" height="2.4" fill="#6a6af8"/>
<rect x="144.8" y="553.8" width="4.8" height="2.4" fill="#d0c8f0"/>
<rect x="149.6" y="553.8" width="4.8" height="2.4" fill="#9090f8"/>
<rect x="154.3" y="553.8" width="4.8" height="2.4" fill="#9090f8"/>
<rect x="159.1" y="553.8" width="4.8" height="2.4" fill="#4010c0"/>
<rect x="163.9" y="553.8" width="4.8" height="2.4" fill="#d0c8f0"/>
<rect x="168.7" y="553.8" width="4.8" height="2.4" fill="#d0c8f0"/>
<rect x="173.4" y="553.8" width="4.8" height="2.4" fill="#1c10d8"/>
<rect x="178.2" y="553.8" width="4.8" height="2.4" fill="#d0c8f0"/>
<rect x="183" y="553.8" width="4.8" height="2.4" fill="#1c10d8"/>
<rect x="187.8" y="553.8" width="4.8" height="2.4" fill="#f89090"/>
<rect x="192.5" y="553.8" width="4.8" height="2.4" fill="#f4c8f0"/>
<rect x="197.3" y="553.8" width="4.8" height="2.4" fill="#f07088"/>
<rect x="202.1" y="553.8" width="4.8" height="2.4" fill="#f07088"/>
<rect x="206.9" y="553.8" width="4.8" height="2.4" fill="#f07088"/>
<rect x="211.6" y="553.8" width="4.8" height="2.4" fill="#f89090"/>
<rect x="216.4" y="553.8" width="4.8" height="2.4" fill="#f07088"/>
<rect x="221.2" y="553.8" width="4.8" height="2.4" fill="#e0e0fc"/>
<rect x="225.9" y="553.8" width="4.8" height="2.4" fill="#f4c8f0"/>
<rect x="230.7" y="553.8" width="4.8" height="2.4" fill="#f85858"/>
<rect x="235.5" y="553.8" width="4.8" height="2.4" fill="#f89090"/>
<rect x="240.3" y="553.8" width="4.8" height="2.4" fill="#f03030"/>
<rect x="245.1" y="553.8" width="4.8" height="2.4" fill="#f89090"/>
<rect x="249.8" y="553.8" width="4.8" height="2.4" fill="#f4c8f0"/>
<rect x="254.6" y="553.8" width="4.8" height="2.4" fill="#f07088"/>
<rect x="259.4" y="553.8" width="4.8" height="2.4" fill="#f89090"/>
<rect x="264.1" y="553.8" width="4.8" height="2.4" fill="#f07088"/>
<rect x="268.9" y="553.8" width="4.8" height="2.4" fill="#f4c8f0"/>
<rect x="273.7" y="553.8" width="4.8" height="2.4" fill="#f89090"/>
<rect x="278.5" y="553.8" width="4.8" height="2.4" fill="#f07088"/>
<rect x="283.2" y="553.8" width="4.8" height="2.4" fill="#f03030"/>
<rect x="288" y="553.8" width="4.8" height="2.4" fill="#f89090"/>
<rect x="140" y="556.2" width="4.8" height="2.4" fill="#d0c8f0"/>
<rect x="144.8" y="556.2" width="4.8" height="2.4" fill="#e0e0fc"/>
<rect x="149.6" y="556.2" width="4.8" height="2.4" fill="#9090f8"/>
<rect x="154.3" y="556.2" width="4.8" height="2.4" fill="#e0e0fc"/>
<rect x="159.1" y="556.2" width="4.8" height="2.4" fill="#1c10d8"/>
<rect x="163.9" y="556.2" width="4.8" height="2.4" fill="#d0c8f0"/>
<rect x="168.7" y="556.2" width="4.8" height="2.4" fill="#d0c8f0"/>
<rect x="173.4" y="556.2" width="4.8" height="2.4" fill="#1c10d8"/>
<rect x="178.2" y="556.2" width="4.8" height="2.4" fill="#9090f8"/>
<rect x="183" y="556.2" width="4.8" height="2.4" fill="#1c10d8"/>
<rect x="187.8" y="556.2" width="4.8" height="2.4" fill="#f85858"/>
<rect x="192.5" y="556.2" width="4.8" height="2.4" fill="#f85858"/>
<rect x="197.3" y="556.2" width="4.8" height="2.4" fill="#f89090"/>
<rect x="202.1" y="556.2" width="4.8" height="2.4" fill="#f07088"/>
<rect x="206.9" y="556.2" width="4.8" height="2.4" fill="#f03030"/>
<rect x="211.6" y="556.2" width="4.8" height="2.4" fill="#f85858"/>
<rect x="216.4" y="556.2" width="4.8" height="2.4" fill="#f03030"/>
<rect x="221.2" y="556.2" width="4.8" height="2.4" fill="#f03030"/>
<rect x="225.9" y="556.2" width="4.8" height="2.4" fill="#f07088"/>
<rect x="230.7" y="556.2" width="4.8" height="2.4" fill="#f85858"/>
<rect x="235.5" y="556.2" width="4.8" height="2.4" fill="#f03030"/>
<rect x="240.3" y="556.2" width="4.8" height="2.4" fill="#f03030"/>
<rect x="245.1" y="556.2" width="4.8" height="2.4" fill="#f07088"/>
<rect x="249.8" y="556.2" width="4.8" height="2.4" fill="#f89090"/>
<rect x="254.6" y="556.2" width="4.8" height="2.4" fill="#e00808"/>
<rect x="259.4" y="556.2" width="4.8" height="2.4" fill="#f07088"/>
<rect x="264.1" y="556.2" width="4.8" height="2.4" fill="#f85858"/>
<rect x="268.9" y="556.2" width="4.8" height="2.4" fill="#e00808"/>
<rect x="273.7" y="556.2" width="4.8" height="2.4" fill="#f89090"/>
<rect x="278.5" y="556.2" width="4.8" height="2.4" fill="#f03030"/>
<rect x="283.2" y="556.2" width="4.8" height="2.4" fill="#f03030"/>
<rect x="288" y="556.2" width="4.8" height="2.4" fill="#f85858"/>
<rect x="140" y="558.6" width="4.8" height="2.4" fill="#9090f8"/>
<rect x="144.8" y="558.6" width="4.8" height="2.4" fill="#d0c8f0"/>
<rect x="149.6" y="558.6" width="4.8" height="2.4" fill="#1c10d8"/>
<rect x="154.3" y="558.6" width="4.8" height="2.4" fill="#6a6af8"/>
<rect x="159.1" y="558.6" width="4.8" height="2.4" fill="#4010c0"/>
<rect x="163.9" y="558.6" width="4.8" height="2.4" fill="#d0c8f0"/>
<rect x="168.7" y="558.6" width="4.8" height="2.4" fill="#6a6af8"/>
<rect x="173.4" y="558.6" width="4.8" height="2.4" fill="#1c10d8"/>
<rect x="178.2" y="558.6" width="4.8" height="2.4" fill="#9090f8"/>
<rect x="183" y="558.6" width="4.8" height="2.4" fill="#4010c0"/>
<rect x="187.8" y="558.6" width="4.8" height="2.4" fill="#f07088"/>
<rect x="192.5" y="558.6" width="4.8" height="2.4" fill="#f07088"/>
<rect x="197.3" y="558.6" width="4.8" height="2.4" fill="#f07088"/>
<rect x="202.1" y="558.6" width="4.8" height="2.4" fill="#f89090"/>
<rect x="206.9" y="558.6" width="4.8" height="2.4" fill="#f89090"/>
<rect x="211.6" y="558.6" width="4.8" height="2.4" fill="#e0e0fc"/>
<rect x="216.4" y="558.6" width="4.8" height="2.4" fill="#f85858"/>
<rect x="221.2" y="558.6" width="4.8" height="2.4" fill="#f4c8f0"/>
<rect x="225.9" y="558.6" width="4.8" height="2.4" fill="#f03030"/>
<rect x="230.7" y="558.6" width="4.8" height="2.4" fill="#f85858"/>
<rect x="235.5" y="558.6" width="4.8" height="2.4" fill="#d0c8f0"/>
<rect x="240.3" y="558.6" width="4.8" height="2.4" fill="#e0e0fc"/>
<rect x="245.1" y="558.6" width="4.8" height="2.4" fill="#f89090"/>
<rect x="249.8" y="558.6" width="4.8" height="2.4" fill="#f4c8f0"/>
<rect x="254.6" y="558.6" width="4.8" height="2.4" fill="#f89090"/>
<rect x="259.4" y="558.6" width="4.8" height="2.4" fill="#f07088"/>
<rect x="264.1" y="558.6" width="4.8" height="2.4" fill="#f03030"/>
<rect x="268.9" y="558.6" width="4.8" height="2.4" fill="#f85858"/>
<rect x="273.7" y="558.6" width="4.8" height="2.4" fill="#f07088"/>
<rect x="278.5" y="558.6" width="4.8" height="2.4" fill="#e0e0fc"/>
<rect x="283.2" y="558.6" width="4.8" height="2.4" fill="#f4c8f0"/>
<rect x="288" y="558.6" width="4.8" height="2.4" fill="#f89090"/>
<rect x="140" y="561" width="4.8" height="2.4" fill="#1c10d8"/>
<rect x="144.8" y="561" width="4.8" height="2.4" fill="#9090f8"/>
<rect x="149.6" y="561" width="4.8" height="2.4" fill="#6a6af8"/>
<rect x="154.3" y="561" width="4.8" height="2.4" fill="#d0c8f0"/>
<rect x="159.1" y="561" width="4.8" height="2.4" fill="#4010c0"/>
<rect x="163.9" y="561" width="4.8" height="2.4" fill="#9090f8"/>
<rect x="168.7" y="561" width="4.8" height="2.4" fill="#d0c8f0"/>
<rect x="173.4" y="561" width="4.8" height="2.4" fill="#1c10d8"/>
<rect x="178.2" y="561" width="4.8" height="2.4" fill="#d0c8f0"/>
<rect x="183" y="561" width="4.8" height="2.4" fill="#4010c0"/>
<rect x="187.8" y="561" width="4.8" height="2.4" fill="#f03030"/>
<rect x="192.5" y="561" width="4.8" height="2.4" fill="#f07088"/>
<rect x="197.3" y="561" width="4.8" height="2.4" fill="#d0c8f0"/>
<rect x="202.1" y="561" width="4.8" height="2.4" fill="#f03030"/>
<rect x="206.9" y="561" width="4.8" height="2.4" fill="#f03030"/>
<rect x="211.6" y="561" width="4.8" height="2.4" fill="#f07088"/>
<rect x="216.4" y="561" width="4.8" height="2.4" fill="#f07088"/>
<rect x="221.2" y="561" width="4.8" height="2.4" fill="#f85858"/>
<rect x="225.9" y="561" width="4.8" height="2.4" fill="#f03030"/>
<rect x="230.7" y="561" width="4.8" height="2.4" fill="#f85858"/>
<rect x="235.5" y="561" width="4.8" height="2.4" fill="#e0e0fc"/>
<rect x="240.3" y="561" width="4.8" height="2.4" fill="#e0e0fc"/>
<rect x="245.1" y="561" width="4.8" height="2.4" fill="#f85858"/>
<rect x="249.8" y="561" width="4.8" height="2.4" fill="#f89090"/>
<rect x="254.6" y="561" width="4.8" height="2.4" fill="#f07088"/>
<rect x="259.4" y="561" width="4.8" height="2.4" fill="#f07088"/>
<rect x="264.1" y="561" width="4.8" height="2.4" fill="#f03030"/>
<rect x="268.9" y="561" width="4.8" height="2.4" fill="#f89090"/>
<rect x="273.7" y="561" width="4.8" height="2.4" fill="#f85858"/>
<rect x="278.5" y="561" width="4.8" height="2.4" fill="#f07088"/>
<rect x="283.2" y="561" width="4.8" height="2.4" fill="#f03030"/>
<rect x="288" y="561" width="4.8" height="2.4" fill="#e0e0fc"/>
<rect x="140" y="563.4" width="4.8" height="2.4" fill="#9090f8"/>
<rect x="144.8" y="563.4" width="4.8" height="2.4" fill="#d0c8f0"/>
<rect x="149.6" y="563.4" width="4.8" height="2.4" fill="#6a6af8"/>
<rect x="154.3" y="563.4" width="4.8" height="2.4" fill="#6a6af8"/>
<rect x="159.1" y="563.4" width="4.8" height="2.4" fill="#4010c0"/>
<rect x="163.9" y="563.4" width="4.8" height="2.4" fill="#d0c8f0"/>
<rect x="168.7" y="563.4" width="4.8" height="2.4" fill="#9090f8"/>
<rect x="173.4" y="563.4" width="4.8" height="2.4" fill="#4010c0"/>
<rect x="178.2" y="563.4" width="4.8" height="2.4" fill="#d0c8f0"/>
<rect x="183" y="563.4" width="4.8" height="2.4" fill="#4010c0"/>
<rect x="187.8" y="563.4" width="4.8" height="2.4" fill="#f03030"/>
<rect x="192.5" y="563.4" width="4.8" height="2.4" fill="#f4c8f0"/>
<rect x="197.3" y="563.4" width="4.8" height="2.4" fill="#e0e0fc"/>
<rect x="202.1" y="563.4" width="4.8" height="2.4" fill="#f89090"/>
<rect x="206.9" y="563.4" width="4.8" height="2.4" fill="#d0c8f0"/>
<rect x="211.6" y="563.4" width="4.8" height="2.4" fill="#f89090"/>
<rect x="216.4" y="563.4" width="4.8" height="2.4" fill="#f85858"/>
<rect x="221.2" y="563.4" width="4.8" height="2.4" fill="#f4c8f0"/>
<rect x="225.9" y="563.4" width="4.8" height="2.4" fill="#f07088"/>
<rect x="230.7" y="563.4" width="4.8" height="2.4" fill="#f85858"/>
<rect x="235.5" y="563.4" width="4.8" height="2.4" fill="#d0c8f0"/>
<rect x="240.3" y="563.4" width="4.8" height="2.4" fill="#e0e0fc"/>
<rect x="245.1" y="563.4" width="4.8" height="2.4" fill="#6a6af8"/>
<rect x="249.8" y="563.4" width="4.8" height="2.4" fill="#f4c8f0"/>
<rect x="254.6" y="563.4" width="4.8" height="2.4" fill="#f89090"/>
<rect x="259.4" y="563.4" width="4.8" height="2.4" fill="#f4c8f0"/>
<rect x="264.1" y="563.4" width="4.8" height="2.4" fill="#f03030"/>
<rect x="268.9" y="563.4" width="4.8" height="2.4" fill="#f89090"/>
<rect x="273.7" y="563.4" width="4.8" height="2.4" fill="#f4c8f0"/>
<rect x="278.5" y="563.4" width="4.8" height="2.4" fill="#f89090"/>
<rect x="283.2" y="563.4" width="4.8" height="2.4" fill="#f89090"/>
<rect x="288" y="563.4" width="4.8" height="2.4" fill="#9090f8"/>
<rect x="140" y="565.7" width="4.8" height="2.4" fill="#6a6af8"/>
<rect x="144.8" y="565.7" width="4.8" height="2.4" fill="#9090f8"/>
<rect x="149.6" y="565.7" width="4.8" height="2.4" fill="#6a6af8"/>
<rect x="154.3" y="565.7" width="4.8" height="2.4" fill="#9090f8"/>
<rect x="159.1" y="565.7" width="4.8" height="2.4" fill="#4010c0"/>
<rect x="163.9" y="565.7" width="4.8" height="2.4" fill="#d0c8f0"/>
<rect x="168.7" y="565.7" width="4.8" height="2.4" fill="#d0c8f0"/>
<rect x="173.4" y="565.7" width="4.8" height="2.4" fill="#1c10d8"/>
<rect x="178.2" y="565.7" width="4.8" height="2.4" fill="#9090f8"/>
<rect x="183" y="565.7" width="4.8" height="2.4" fill="#4010c0"/>
<rect x="187.8" y="565.7" width="4.8" height="2.4" fill="#f85858"/>
<rect x="192.5" y="565.7" width="4.8" height="2.4" fill="#f07088"/>
<rect x="197.3" y="565.7" width="4.8" height="2.4" fill="#f85858"/>
<rect x="202.1" y="565.7" width="4.8" height="2.4" fill="#f89090"/>
<rect x="206.9" y="565.7" width="4.8" height="2.4" fill="#f89090"/>
<rect x="211.6" y="565.7" width="4.8" height="2.4" fill="#f07088"/>
<rect x="216.4" y="565.7" width="4.8" height="2.4" fill="#f07088"/>
<rect x="221.2" y="565.7" width="4.8" height="2.4" fill="#f03030"/>
<rect x="225.9" y="565.7" width="4.8" height="2.4" fill="#f4c8f0"/>
<rect x="230.7" y="565.7" width="4.8" height="2.4" fill="#f07088"/>
<rect x="235.5" y="565.7" width="4.8" height="2.4" fill="#f07088"/>
<rect x="240.3" y="565.7" width="4.8" height="2.4" fill="#f07088"/>
<rect x="245.1" y="565.7" width="4.8" height="2.4" fill="#f07088"/>
<rect x="249.8" y="565.7" width="4.8" height="2.4" fill="#f4c8f0"/>
<rect x="254.6" y="565.7" width="4.8" height="2.4" fill="#e00808"/>
<rect x="259.4" y="565.7" width="4.8" height="2.4" fill="#f03030"/>
<rect x="264.1" y="565.7" width="4.8" height="2.4" fill="#f03030"/>
<rect x="268.9" y="565.7" width="4.8" height="2.4" fill="#f85858"/>
<rect x="273.7" y="565.7" width="4.8" height="2.4" fill="#f85858"/>
<rect x="278.5" y="565.7" width="4.8" height="2.4" fill="#f85858"/>
<rect x="283.2" y="565.7" width="4.8" height="2.4" fill="#f89090"/>
<rect x="288" y="565.7" width="4.8" height="2.4" fill="#f4c8f0"/>
<rect x="140" y="568.1" width="4.8" height="2.4" fill="#6a6af8"/>
<rect x="144.8" y="568.1" width="4.8" height="2.4" fill="#9090f8"/>
<rect x="149.6" y="568.1" width="4.8" height="2.4" fill="#9090f8"/>
<rect x="154.3" y="568.1" width="4.8" height="2.4" fill="#d0c8f0"/>
<rect x="159.1" y="568.1" width="4.8" height="2.4" fill="#1c10d8"/>
<rect x="163.9" y="568.1" width="4.8" height="2.4" fill="#e0e0fc"/>
<rect x="168.7" y="568.1" width="4.8" height="2.4" fill="#d0c8f0"/>
<rect x="173.4" y="568.1" width="4.8" height="2.4" fill="#6a6af8"/>
<rect x="178.2" y="568.1" width="4.8" height="2.4" fill="#e0e0fc"/>
<rect x="183" y="568.1" width="4.8" height="2.4" fill="#1c10d8"/>
<rect x="187.8" y="568.1" width="4.8" height="2.4" fill="#f07088"/>
<rect x="192.5" y="568.1" width="4.8" height="2.4" fill="#f07088"/>
<rect x="197.3" y="568.1" width="4.8" height="2.4" fill="#f03030"/>
<rect x="202.1" y="568.1" width="4.8" height="2.4" fill="#f85858"/>
<rect x="206.9" y="568.1" width="4.8" height="2.4" fill="#f07088"/>
<rect x="211.6" y="568.1" width="4.8" height="2.4" fill="#e00808"/>
<rect x="216.4" y="568.1" width="4.8" height="2.4" fill="#f07088"/>
<rect x="221.2" y="568.1" width="4.8" height="2.4" fill="#f4c8f0"/>
<rect x="225.9" y="568.1" width="4.8" height="2.4" fill="#f07088"/>
<rect x="230.7" y="568.1" width="4.8" height="2.4" fill="#e00808"/>
<rect x="235.5" y="568.1" width="4.8" height="2.4" fill="#f07088"/>
<rect x="240.3" y="568.1" width="4.8" height="2.4" fill="#f85858"/>
<rect x="245.1" y="568.1" width="4.8" height="2.4" fill="#f07088"/>
<rect x="249.8" y="568.1" width="4.8" height="2.4" fill="#f85858"/>
<rect x="254.6" y="568.1" width="4.8" height="2.4" fill="#f03030"/>
<rect x="259.4" y="568.1" width="4.8" height="2.4" fill="#e00808"/>
<rect x="264.1" y="568.1" width="4.8" height="2.4" fill="#f89090"/>
<rect x="268.9" y="568.1" width="4.8" height="2.4" fill="#f85858"/>
<rect x="273.7" y="568.1" width="4.8" height="2.4" fill="#f07088"/>
<rect x="278.5" y="568.1" width="4.8" height="2.4" fill="#e00808"/>
<rect x="283.2" y="568.1" width="4.8" height="2.4" fill="#f03030"/>
<rect x="288" y="568.1" width="4.8" height="2.4" fill="#e00808"/>
<rect x="140" y="570.5" width="4.8" height="2.4" fill="#6a6af8"/>
<rect x="144.8" y="570.5" width="4.8" height="2.4" fill="#d0c8f0"/>
<rect x="149.6" y="570.5" width="4.8" height="2.4" fill="#d0c8f0"/>
<rect x="154.3" y="570.5" width="4.8" height="2.4" fill="#d0c8f0"/>
<rect x="159.1" y="570.5" width="4.8" height="2.4" fill="#4010c0"/>
<rect x="163.9" y="570.5" width="4.8" height="2.4" fill="#e0e0fc"/>
<rect x="168.7" y="570.5" width="4.8" height="2.4" fill="#1c10d8"/>
<rect x="173.4" y="570.5" width="4.8" height="2.4" fill="#1c10d8"/>
<rect x="178.2" y="570.5" width="4.8" height="2.4" fill="#9090f8"/>
<rect x="183" y="570.5" width="4.8" height="2.4" fill="#4010c0"/>
<rect x="187.8" y="570.5" width="4.8" height="2.4" fill="#e00808"/>
<rect x="192.5" y="570.5" width="4.8" height="2.4" fill="#6a6af8"/>
<rect x="197.3" y="570.5" width="4.8" height="2.4" fill="#f89090"/>
<rect x="202.1" y="570.5" width="4.8" height="2.4" fill="#f89090"/>
<rect x="206.9" y="570.5" width="4.8" height="2.4" fill="#f89090"/>
<rect x="211.6" y="570.5" width="4.8" height="2.4" fill="#f07088"/>
<rect x="216.4" y="570.5" width="4.8" height="2.4" fill="#f03030"/>
<rect x="221.2" y="570.5" width="4.8" height="2.4" fill="#f4c8f0"/>
<rect x="225.9" y="570.5" width="4.8" height="2.4" fill="#f07088"/>
<rect x="230.7" y="570.5" width="4.8" height="2.4" fill="#f07088"/>
<rect x="235.5" y="570.5" width="4.8" height="2.4" fill="#f85858"/>
<rect x="240.3" y="570.5" width="4.8" height="2.4" fill="#f85858"/>
<rect x="245.1" y="570.5" width="4.8" height="2.4" fill="#f07088"/>
<rect x="249.8" y="570.5" width="4.8" height="2.4" fill="#f89090"/>
<rect x="254.6" y="570.5" width="4.8" height="2.4" fill="#f4c8f0"/>
<rect x="259.4" y="570.5" width="4.8" height="2.4" fill="#f07088"/>
<rect x="264.1" y="570.5" width="4.8" height="2.4" fill="#f03030"/>
<rect x="268.9" y="570.5" width="4.8" height="2.4" fill="#f07088"/>
<rect x="273.7" y="570.5" width="4.8" height="2.4" fill="#f07088"/>
<rect x="278.5" y="570.5" width="4.8" height="2.4" fill="#f89090"/>
<rect x="283.2" y="570.5" width="4.8" height="2.4" fill="#e00808"/>
<rect x="288" y="570.5" width="4.8" height="2.4" fill="#e0e0fc"/>
<rect x="140" y="572.9" width="4.8" height="2.4" fill="#6a6af8"/>
<rect x="144.8" y="572.9" width="4.8" height="2.4" fill="#d0c8f0"/>
<rect x="149.6" y="572.9" width="4.8" height="2.4" fill="#1c10d8"/>
<rect x="154.3" y="572.9" width="4.8" height="2.4" fill="#9090f8"/>
<rect x="159.1" y="572.9" width="4.8" height="2.4" fill="#4010c0"/>
<rect x="163.9" y="572.9" width="4.8" height="2.4" fill="#d0c8f0"/>
<rect x="168.7" y="572.9" width="4.8" height="2.4" fill="#9090f8"/>
<rect x="173.4" y="572.9" width="4.8" height="2.4" fill="#1c10d8"/>
<rect x="178.2" y="572.9" width="4.8" height="2.4" fill="#6a6af8"/>
<rect x="183" y="572.9" width="4.8" height="2.4" fill="#4010c0"/>
<rect x="187.8" y="572.9" width="4.8" height="2.4" fill="#f07088"/>
<rect x="192.5" y="572.9" width="4.8" height="2.4" fill="#9090f8"/>
<rect x="197.3" y="572.9" width="4.8" height="2.4" fill="#e0e0fc"/>
<rect x="202.1" y="572.9" width="4.8" height="2.4" fill="#f07088"/>
<rect x="206.9" y="572.9" width="4.8" height="2.4" fill="#f4c8f0"/>
<rect x="211.6" y="572.9" width="4.8" height="2.4" fill="#f07088"/>
<rect x="216.4" y="572.9" width="4.8" height="2.4" fill="#f89090"/>
<rect x="221.2" y="572.9" width="4.8" height="2.4" fill="#f89090"/>
<rect x="225.9" y="572.9" width="4.8" height="2.4" fill="#f89090"/>
<rect x="230.7" y="572.9" width="4.8" height="2.4" fill="#d0c8f0"/>
<rect x="235.5" y="572.9" width="4.8" height="2.4" fill="#f89090"/>
<rect x="240.3" y="572.9" width="4.8" height="2.4" fill="#d0c8f0"/>
<rect x="245.1" y="572.9" width="4.8" height="2.4" fill="#e0e0fc"/>
<rect x="249.8" y="572.9" width="4.8" height="2.4" fill="#f4c8f0"/>
<rect x="254.6" y="572.9" width="4.8" height="2.4" fill="#f89090"/>
<rect x="259.4" y="572.9" width="4.8" height="2.4" fill="#f07088"/>
<rect x="264.1" y="572.9" width="4.8" height="2.4" fill="#f03030"/>
<rect x="268.9" y="572.9" width="4.8" height="2.4" fill="#d0c8f0"/>
<rect x="273.7" y="572.9" width="4.8" height="2.4" fill="#f89090"/>
<rect x="278.5" y="572.9" width="4.8" height="2.4" fill="#f03030"/>
<rect x="283.2" y="572.9" width="4.8" height="2.4" fill="#f89090"/>
<rect x="288" y="572.9" width="4.8" height="2.4" fill="#9090f8"/>
<rect x="140" y="575.3" width="4.8" height="2.4" fill="#6a6af8"/>
<rect x="144.8" y="575.3" width="4.8" height="2.4" fill="#d0c8f0"/>
<rect x="149.6" y="575.3" width="4.8" height="2.4" fill="#6a6af8"/>
<rect x="154.3" y="575.3" width="4.8" height="2.4" fill="#1c10d8"/>
<rect x="159.1" y="575.3" width="4.8" height="2.4" fill="#4010c0"/>
<rect x="163.9" y="575.3" width="4.8" height="2.4" fill="#9090f8"/>
<rect x="168.7" y="575.3" width="4.8" height="2.4" fill="#9090f8"/>
<rect x="173.4" y="575.3" width="4.8" height="2.4" fill="#4010c0"/>
<rect x="178.2" y="575.3" width="4.8" height="2.4" fill="#9090f8"/>
<rect x="183" y="575.3" width="4.8" height="2.4" fill="#4010c0"/>
<rect x="187.8" y="575.3" width="4.8" height="2.4" fill="#f89090"/>
<rect x="192.5" y="575.3" width="4.8" height="2.4" fill="#f07088"/>
<rect x="197.3" y="575.3" width="4.8" height="2.4" fill="#f07088"/>
<rect x="202.1" y="575.3" width="4.8" height="2.4" fill="#f03030"/>
<rect x="206.9" y="575.3" width="4.8" height="2.4" fill="#f07088"/>
<rect x="211.6" y="575.3" width="4.8" height="2.4" fill="#f89090"/>
<rect x="216.4" y="575.3" width="4.8" height="2.4" fill="#f4c8f0"/>
<rect x="221.2" y="575.3" width="4.8" height="2.4" fill="#f89090"/>
<rect x="225.9" y="575.3" width="4.8" height="2.4" fill="#f07088"/>
<rect x="230.7" y="575.3" width="4.8" height="2.4" fill="#f85858"/>
<rect x="235.5" y="575.3" width="4.8" height="2.4" fill="#f85858"/>
<rect x="240.3" y="575.3" width="4.8" height="2.4" fill="#f4c8f0"/>
<rect x="245.1" y="575.3" width="4.8" height="2.4" fill="#f89090"/>
<rect x="249.8" y="575.3" width="4.8" height="2.4" fill="#d0c8f0"/>
<rect x="254.6" y="575.3" width="4.8" height="2.4" fill="#f85858"/>
<rect x="259.4" y="575.3" width="4.8" height="2.4" fill="#f07088"/>
<rect x="264.1" y="575.3" width="4.8" height="2.4" fill="#f85858"/>
<rect x="268.9" y="575.3" width="4.8" height="2.4" fill="#f89090"/>
<rect x="273.7" y="575.3" width="4.8" height="2.4" fill="#f07088"/>
<rect x="278.5" y="575.3" width="4.8" height="2.4" fill="#f85858"/>
<rect x="283.2" y="575.3" width="4.8" height="2.4" fill="#f07088"/>
<rect x="288" y="575.3" width="4.8" height="2.4" fill="#9090f8"/>
<rect x="140" y="577.6" width="4.8" height="2.4" fill="#9090f8"/>
<rect x="144.8" y="577.6" width="4.8" height="2.4" fill="#9090f8"/>
<rect x="149.6" y="577.6" width="4.8" height="2.4" fill="#9090f8"/>
<rect x="154.3" y="577.6" width="4.8" height="2.4" fill="#6a6af8"/>
<rect x="159.1" y="577.6" width="4.8" height="2.4" fill="#4010c0"/>
<rect x="163.9" y="577.6" width="4.8" height="2.4" fill="#e0e0fc"/>
<rect x="168.7" y="577.6" width="4.8" height="2.4" fill="#9090f8"/>
<rect x="173.4" y="577.6" width="4.8" height="2.4" fill="#1c10d8"/>
<rect x="178.2" y="577.6" width="4.8" height="2.4" fill="#9090f8"/>
<rect x="183" y="577.6" width="4.8" height="2.4" fill="#4010c0"/>
<rect x="187.8" y="577.6" width="4.8" height="2.4" fill="#f89090"/>
<rect x="192.5" y="577.6" width="4.8" height="2.4" fill="#f89090"/>
<rect x="197.3" y="577.6" width="4.8" height="2.4" fill="#f07088"/>
<rect x="202.1" y="577.6" width="4.8" height="2.4" fill="#f03030"/>
<rect x="206.9" y="577.6" width="4.8" height="2.4" fill="#e0e0fc"/>
<rect x="211.6" y="577.6" width="4.8" height="2.4" fill="#f4c8f0"/>
<rect x="216.4" y="577.6" width="4.8" height="2.4" fill="#f89090"/>
<rect x="221.2" y="577.6" width="4.8" height="2.4" fill="#f07088"/>
<rect x="225.9" y="577.6" width="4.8" height="2.4" fill="#f07088"/>
<rect x="230.7" y="577.6" width="4.8" height="2.4" fill="#f89090"/>
<rect x="235.5" y="577.6" width="4.8" height="2.4" fill="#f03030"/>
<rect x="240.3" y="577.6" width="4.8" height="2.4" fill="#e0e0fc"/>
<rect x="245.1" y="577.6" width="4.8" height="2.4" fill="#f89090"/>
<rect x="249.8" y="577.6" width="4.8" height="2.4" fill="#f03030"/>
<rect x="254.6" y="577.6" width="4.8" height="2.4" fill="#d0c8f0"/>
<rect x="259.4" y="577.6" width="4.8" height="2.4" fill="#f89090"/>
<rect x="264.1" y="577.6" width="4.8" height="2.4" fill="#f07088"/>
<rect x="268.9" y="577.6" width="4.8" height="2.4" fill="#f85858"/>
<rect x="273.7" y="577.6" width="4.8" height="2.4" fill="#f89090"/>
<rect x="278.5" y="577.6" width="4.8" height="2.4" fill="#f07088"/>
<rect x="283.2" y="577.6" width="4.8" height="2.4" fill="#f03030"/>
<rect x="288" y="577.6" width="4.8" height="2.4" fill="#e0e0fc"/>
<rect x="140" y="580" width="4.8" height="2.4" fill="#6a6af8"/>
<rect x="144.8" y="580" width="4.8" height="2.4" fill="#d0c8f0"/>
<rect x="149.6" y="580" width="4.8" height="2.4" fill="#9090f8"/>
<rect x="154.3" y="580" width="4.8" height="2.4" fill="#9090f8"/>
<rect x="159.1" y="580" width="4.8" height="2.4" fill="#4010c0"/>
<rect x="163.9" y="580" width="4.8" height="2.4" fill="#e0e0fc"/>
<rect x="168.7" y="580" width="4.8" height="2.4" fill="#d0c8f0"/>
<rect x="173.4" y="580" width="4.8" height="2.4" fill="#1c10d8"/>
<rect x="178.2" y="580" width="4.8" height="2.4" fill="#d0c8f0"/>
<rect x="183" y="580" width="4.8" height="2.4" fill="#4010c0"/>
<rect x="187.8" y="580" width="4.8" height="2.4" fill="#f89090"/>
<rect x="192.5" y="580" width="4.8" height="2.4" fill="#f89090"/>
<rect x="197.3" y="580" width="4.8" height="2.4" fill="#f07088"/>
<rect x="202.1" y="580" width="4.8" height="2.4" fill="#f07088"/>
<rect x="206.9" y="580" width="4.8" height="2.4" fill="#f85858"/>
<rect x="211.6" y="580" width="4.8" height="2.4" fill="#f4c8f0"/>
<rect x="216.4" y="580" width="4.8" height="2.4" fill="#f07088"/>
<rect x="221.2" y="580" width="4.8" height="2.4" fill="#f03030"/>
<rect x="225.9" y="580" width="4.8" height="2.4" fill="#f4c8f0"/>
<rect x="230.7" y="580" width="4.8" height="2.4" fill="#f07088"/>
<rect x="235.5" y="580" width="4.8" height="2.4" fill="#e0e0fc"/>
<rect x="240.3" y="580" width="4.8" height="2.4" fill="#f03030"/>
<rect x="245.1" y="580" width="4.8" height="2.4" fill="#f4c8f0"/>
<rect x="249.8" y="580" width="4.8" height="2.4" fill="#f4c8f0"/>
<rect x="254.6" y="580" width="4.8" height="2.4" fill="#f89090"/>
<rect x="259.4" y="580" width="4.8" height="2.4" fill="#f89090"/>
<rect x="264.1" y="580" width="4.8" height="2.4" fill="#f85858"/>
<rect x="268.9" y="580" width="4.8" height="2.4" fill="#f03030"/>
<rect x="273.7" y="580" width="4.8" height="2.4" fill="#f85858"/>
<rect x="278.5" y="580" width="4.8" height="2.4" fill="#f85858"/>
<rect x="283.2" y="580" width="4.8" height="2.4" fill="#f85858"/>
<rect x="288" y="580" width="4.8" height="2.4" fill="#d0c8f0"/>
<rect x="140" y="582.4" width="4.8" height="2.4" fill="#6a6af8"/>
<rect x="144.8" y="582.4" width="4.8" height="2.4" fill="#9090f8"/>
<rect x="149.6" y="582.4" width="4.8" height="2.4" fill="#6a6af8"/>
<rect x="154.3" y="582.4" width="4.8" height="2.4" fill="#6a6af8"/>
<rect x="159.1" y="582.4" width="4.8" height="2.4" fill="#4010c0"/>
<rect x="163.9" y="582.4" width="4.8" height="2.4" fill="#e0e0fc"/>
<rect x="168.7" y="582.4" width="4.8" height="2.4" fill="#9090f8"/>
<rect x="173.4" y="582.4" width="4.8" height="2.4" fill="#1c10d8"/>
<rect x="178.2" y="582.4" width="4.8" height="2.4" fill="#d0c8f0"/>
<rect x="183" y="582.4" width="4.8" height="2.4" fill="#4010c0"/>
<rect x="187.8" y="582.4" width="4.8" height="2.4" fill="#f85858"/>
<rect x="192.5" y="582.4" width="4.8" height="2.4" fill="#f89090"/>
<rect x="197.3" y="582.4" width="4.8" height="2.4" fill="#e0e0fc"/>
<rect x="202.1" y="582.4" width="4.8" height="2.4" fill="#f89090"/>
<rect x="206.9" y="582.4" width="4.8" height="2.4" fill="#f89090"/>
<rect x="211.6" y="582.4" width="4.8" height="2.4" fill="#f89090"/>
<rect x="216.4" y="582.4" width="4.8" height="2.4" fill="#f89090"/>
<rect x="221.2" y="582.4" width="4.8" height="2.4" fill="#f89090"/>
<rect x="225.9" y="582.4" width="4.8" height="2.4" fill="#f89090"/>
<rect x="230.7" y="582.4" width="4.8" height="2.4" fill="#f07088"/>
<rect x="235.5" y="582.4" width="4.8" height="2.4" fill="#d0c8f0"/>
<rect x="240.3" y="582.4" width="4.8" height="2.4" fill="#d0c8f0"/>
<rect x="245.1" y="582.4" width="4.8" height="2.4" fill="#e0e0fc"/>
<rect x="249.8" y="582.4" width="4.8" height="2.4" fill="#f85858"/>
<rect x="254.6" y="582.4" width="4.8" height="2.4" fill="#e0e0fc"/>
<rect x="259.4" y="582.4" width="4.8" height="2.4" fill="#e0e0fc"/>
<rect x="264.1" y="582.4" width="4.8" height="2.4" fill="#f4c8f0"/>
<rect x="268.9" y="582.4" width="4.8" height="2.4" fill="#f07088"/>
<rect x="273.7" y="582.4" width="4.8" height="2.4" fill="#f4c8f0"/>
<rect x="278.5" y="582.4" width="4.8" height="2.4" fill="#f07088"/>
<rect x="283.2" y="582.4" width="4.8" height="2.4" fill="#f85858"/>
<rect x="288" y="582.4" width="4.8" height="2.4" fill="#d0c8f0"/>
<rect x="140" y="584.8" width="4.8" height="2.4" fill="#1c10d8"/>
<rect x="144.8" y="584.8" width="4.8" height="2.4" fill="#6a6af8"/>
<rect x="149.6" y="584.8" width="4.8" height="2.4" fill="#9090f8"/>
<rect x="154.3" y="584.8" width="4.8" height="2.4" fill="#9090f8"/>
<rect x="159.1" y="584.8" width="4.8" height="2.4" fill="#4010c0"/>
<rect x="163.9" y="584.8" width="4.8" height="2.4" fill="#d0c8f0"/>
<rect x="168.7" y="584.8" width="4.8" height="2.4" fill="#6a6af8"/>
<rect x="173.4" y="584.8" width="4.8" height="2.4" fill="#4010c0"/>
<rect x="178.2" y="584.8" width="4.8" height="2.4" fill="#1c10d8"/>
<rect x="183" y="584.8" width="4.8" height="2.4" fill="#4010c0"/>
<rect x="187.8" y="584.8" width="4.8" height="2.4" fill="#f89090"/>
<rect x="192.5" y="584.8" width="4.8" height="2.4" fill="#d0c8f0"/>
<rect x="197.3" y="584.8" width="4.8" height="2.4" fill="#f4c8f0"/>
<rect x="202.1" y="584.8" width="4.8" height="2.4" fill="#f4c8f0"/>
<rect x="206.9" y="584.8" width="4.8" height="2.4" fill="#f4c8f0"/>
<rect x="211.6" y="584.8" width="4.8" height="2.4" fill="#e0e0fc"/>
<rect x="216.4" y="584.8" width="4.8" height="2.4" fill="#e0e0fc"/>
<rect x="221.2" y="584.8" width="4.8" height="2.4" fill="#f4c8f0"/>
<rect x="225.9" y="584.8" width="4.8" height="2.4" fill="#f07088"/>
<rect x="230.7" y="584.8" width="4.8" height="2.4" fill="#d0c8f0"/>
<rect x="235.5" y="584.8" width="4.8" height="2.4" fill="#f4c8f0"/>
<rect x="240.3" y="584.8" width="4.8" height="2.4" fill="#e0e0fc"/>
<rect x="245.1" y="584.8" width="4.8" height="2.4" fill="#e0e0fc"/>
<rect x="249.8" y="584.8" width="4.8" height="2.4" fill="#f89090"/>
<rect x="254.6" y="584.8" width="4.8" height="2.4" fill="#e0e0fc"/>
<rect x="259.4" y="584.8" width="4.8" height="2.4" fill="#f89090"/>
<rect x="264.1" y="584.8" width="4.8" height="2.4" fill="#f07088"/>
<rect x="268.9" y="584.8" width="4.8" height="2.4" fill="#e0e0fc"/>
<rect x="273.7" y="584.8" width="4.8" height="2.4" fill="#e0e0fc"/>
<rect x="278.5" y="584.8" width="4.8" height="2.4" fill="#e0e0fc"/>
<rect x="283.2" y="584.8" width="4.8" height="2.4" fill="#e0e0fc"/>
<rect x="288" y="584.8" width="4.8" height="2.4" fill="#f4c8f0"/>
<rect x="140" y="587.1" width="4.8" height="2.4" fill="#6a6af8"/>
<rect x="144.8" y="587.1" width="4.8" height="2.4" fill="#9090f8"/>
<rect x="149.6" y="587.1" width="4.8" height="2.4" fill="#9090f8"/>
<rect x="154.3" y="587.1" width="4.8" height="2.4" fill="#e0e0fc"/>
<rect x="159.1" y="587.1" width="4.8" height="2.4" fill="#1c10d8"/>
<rect x="163.9" y="587.1" width="4.8" height="2.4" fill="#d0c8f0"/>
<rect x="168.7" y="587.1" width="4.8" height="2.4" fill="#9090f8"/>
<rect x="173.4" y="587.1" width="4.8" height="2.4" fill="#1c10d8"/>
<rect x="178.2" y="587.1" width="4.8" height="2.4" fill="#9090f8"/>
<rect x="183" y="587.1" width="4.8" height="2.4" fill="#1c10d8"/>
<rect x="187.8" y="587.1" width="4.8" height="2.4" fill="#e00808"/>
<rect x="192.5" y="587.1" width="4.8" height="2.4" fill="#f85858"/>
<rect x="197.3" y="587.1" width="4.8" height="2.4" fill="#f03030"/>
<rect x="202.1" y="587.1" width="4.8" height="2.4" fill="#f03030"/>
<rect x="206.9" y="587.1" width="4.8" height="2.4" fill="#f89090"/>
<rect x="211.6" y="587.1" width="4.8" height="2.4" fill="#f03030"/>
<rect x="216.4" y="587.1" width="4.8" height="2.4" fill="#f85858"/>
<rect x="221.2" y="587.1" width="4.8" height="2.4" fill="#f89090"/>
<rect x="225.9" y="587.1" width="4.8" height="2.4" fill="#f89090"/>
<rect x="230.7" y="587.1" width="4.8" height="2.4" fill="#f03030"/>
<rect x="235.5" y="587.1" width="4.8" height="2.4" fill="#f07088"/>
<rect x="240.3" y="587.1" width="4.8" height="2.4" fill="#f07088"/>
<rect x="245.1" y="587.1" width="4.8" height="2.4" fill="#f85858"/>
<rect x="249.8" y="587.1" width="4.8" height="2.4" fill="#f89090"/>
<rect x="254.6" y="587.1" width="4.8" height="2.4" fill="#f07088"/>
<rect x="259.4" y="587.1" width="4.8" height="2.4" fill="#f89090"/>
<rect x="264.1" y="587.1" width="4.8" height="2.4" fill="#e00808"/>
<rect x="268.9" y="587.1" width="4.8" height="2.4" fill="#f85858"/>
<rect x="273.7" y="587.1" width="4.8" height="2.4" fill="#f03030"/>
<rect x="278.5" y="587.1" width="4.8" height="2.4" fill="#f03030"/>
<rect x="283.2" y="587.1" width="4.8" height="2.4" fill="#f07088"/>
<rect x="288" y="587.1" width="4.8" height="2.4" fill="#d0c8f0"/>
<rect x="140" y="589.5" width="4.8" height="2.4" fill="#9090f8"/>
<rect x="144.8" y="589.5" width="4.8" height="2.4" fill="#d0c8f0"/>
<rect x="149.6" y="589.5" width="4.8" height="2.4" fill="#9090f8"/>
<rect x="154.3" y="589.5" width="4.8" height="2.4" fill="#9090f8"/>
<rect x="159.1" y="589.5" width="4.8" height="2.4" fill="#1c10d8"/>
<rect x="163.9" y="589.5" width="4.8" height="2.4" fill="#e0e0fc"/>
<rect x="168.7" y="589.5" width="4.8" height="2.4" fill="#9090f8"/>
<rect x="173.4" y="589.5" width="4.8" height="2.4" fill="#1c10d8"/>
<rect x="178.2" y="589.5" width="4.8" height="2.4" fill="#d0c8f0"/>
<rect x="183" y="589.5" width="4.8" height="2.4" fill="#1c10d8"/>
<rect x="187.8" y="589.5" width="4.8" height="2.4" fill="#f07088"/>
<rect x="192.5" y="589.5" width="4.8" height="2.4" fill="#f89090"/>
<rect x="197.3" y="589.5" width="4.8" height="2.4" fill="#f4c8f0"/>
<rect x="202.1" y="589.5" width="4.8" height="2.4" fill="#f03030"/>
<rect x="206.9" y="589.5" width="4.8" height="2.4" fill="#f03030"/>
<rect x="211.6" y="589.5" width="4.8" height="2.4" fill="#f85858"/>
<rect x="216.4" y="589.5" width="4.8" height="2.4" fill="#f85858"/>
<rect x="221.2" y="589.5" width="4.8" height="2.4" fill="#f89090"/>
<rect x="225.9" y="589.5" width="4.8" height="2.4" fill="#f89090"/>
<rect x="230.7" y="589.5" width="4.8" height="2.4" fill="#f03030"/>
<rect x="235.5" y="589.5" width="4.8" height="2.4" fill="#f85858"/>
<rect x="240.3" y="589.5" width="4.8" height="2.4" fill="#f89090"/>
<rect x="245.1" y="589.5" width="4.8" height="2.4" fill="#f07088"/>
<rect x="249.8" y="589.5" width="4.8" height="2.4" fill="#f07088"/>
<rect x="254.6" y="589.5" width="4.8" height="2.4" fill="#f07088"/>
<rect x="259.4" y="589.5" width="4.8" height="2.4" fill="#f07088"/>
<rect x="264.1" y="589.5" width="4.8" height="2.4" fill="#f07088"/>
<rect x="268.9" y="589.5" width="4.8" height="2.4" fill="#d0c8f0"/>
<rect x="273.7" y="589.5" width="4.8" height="2.4" fill="#f4c8f0"/>
<rect x="278.5" y="589.5" width="4.8" height="2.4" fill="#f85858"/>
<rect x="283.2" y="589.5" width="4.8" height="2.4" fill="#f03030"/>
<rect x="288" y="589.5" width="4.8" height="2.4" fill="#f4c8f0"/>
<rect x="140" y="591.9" width="4.8" height="2.4" fill="#6a6af8"/>
<rect x="144.8" y="591.9" width="4.8" height="2.4" fill="#9090f8"/>
<rect x="149.6" y="591.9" width="4.8" height="2.4" fill="#6a6af8"/>
<rect x="154.3" y="591.9" width="4.8" height="2.4" fill="#d0c8f0"/>
<rect x="159.1" y="591.9" width="4.8" height="2.4" fill="#1c10d8"/>
<rect x="163.9" y="591.9" width="4.8" height="2.4" fill="#e0e0fc"/>
<rect x="168.7" y="591.9" width="4.8" height="2.4" fill="#d0c8f0"/>
<rect x="173.4" y="591.9" width="4.8" height="2.4" fill="#6a6af8"/>
<rect x="178.2" y="591.9" width="4.8" height="2.4" fill="#d0c8f0"/>
<rect x="183" y="591.9" width="4.8" height="2.4" fill="#1c10d8"/>
<rect x="187.8" y="591.9" width="4.8" height="2.4" fill="#f85858"/>
<rect x="192.5" y="591.9" width="4.8" height="2.4" fill="#f89090"/>
<rect x="197.3" y="591.9" width="4.8" height="2.4" fill="#f4c8f0"/>
<rect x="202.1" y="591.9" width="4.8" height="2.4" fill="#f07088"/>
<rect x="206.9" y="591.9" width="4.8" height="2.4" fill="#f85858"/>
<rect x="211.6" y="591.9" width="4.8" height="2.4" fill="#f07088"/>
<rect x="216.4" y="591.9" width="4.8" height="2.4" fill="#e00808"/>
<rect x="221.2" y="591.9" width="4.8" height="2.4" fill="#f85858"/>
<rect x="225.9" y="591.9" width="4.8" height="2.4" fill="#f07088"/>
<rect x="230.7" y="591.9" width="4.8" height="2.4" fill="#e00808"/>
<rect x="235.5" y="591.9" width="4.8" height="2.4" fill="#f4c8f0"/>
<rect x="240.3" y="591.9" width="4.8" height="2.4" fill="#f03030"/>
<rect x="245.1" y="591.9" width="4.8" height="2.4" fill="#e00808"/>
<rect x="249.8" y="591.9" width="4.8" height="2.4" fill="#f85858"/>
<rect x="254.6" y="591.9" width="4.8" height="2.4" fill="#f03030"/>
<rect x="259.4" y="591.9" width="4.8" height="2.4" fill="#f03030"/>
<rect x="264.1" y="591.9" width="4.8" height="2.4" fill="#f07088"/>
<rect x="268.9" y="591.9" width="4.8" height="2.4" fill="#f03030"/>
<rect x="273.7" y="591.9" width="4.8" height="2.4" fill="#f85858"/>
<rect x="278.5" y="591.9" width="4.8" height="2.4" fill="#f03030"/>
<rect x="283.2" y="591.9" width="4.8" height="2.4" fill="#f07088"/>
<rect x="288" y="591.9" width="4.8" height="2.4" fill="#f4c8f0"/>
<rect x="140" y="594.3" width="4.8" height="2.4" fill="#9090f8"/>
<rect x="144.8" y="594.3" width="4.8" height="2.4" fill="#9090f8"/>
<rect x="149.6" y="594.3" width="4.8" height="2.4" fill="#9090f8"/>
<rect x="154.3" y="594.3" width="4.8" height="2.4" fill="#e0e0fc"/>
<rect x="159.1" y="594.3" width="4.8" height="2.4" fill="#1c10d8"/>
<rect x="163.9" y="594.3" width="4.8" height="2.4" fill="#d0c8f0"/>
<rect x="168.7" y="594.3" width="4.8" height="2.4" fill="#9090f8"/>
<rect x="173.4" y="594.3" width="4.8" height="2.4" fill="#6a6af8"/>
<rect x="178.2" y="594.3" width="4.8" height="2.4" fill="#e0e0fc"/>
<rect x="183" y="594.3" width="4.8" height="2.4" fill="#1c10d8"/>
<rect x="187.8" y="594.3" width="4.8" height="2.4" fill="#f4c8f0"/>
<rect x="192.5" y="594.3" width="4.8" height="2.4" fill="#f03030"/>
<rect x="197.3" y="594.3" width="4.8" height="2.4" fill="#f85858"/>
<rect x="202.1" y="594.3" width="4.8" height="2.4" fill="#f89090"/>
<rect x="206.9" y="594.3" width="4.8" height="2.4" fill="#f07088"/>
<rect x="211.6" y="594.3" width="4.8" height="2.4" fill="#f03030"/>
<rect x="216.4" y="594.3" width="4.8" height="2.4" fill="#f89090"/>
<rect x="221.2" y="594.3" width="4.8" height="2.4" fill="#f89090"/>
<rect x="225.9" y="594.3" width="4.8" height="2.4" fill="#f85858"/>
<rect x="230.7" y="594.3" width="4.8" height="2.4" fill="#e00808"/>
<rect x="235.5" y="594.3" width="4.8" height="2.4" fill="#f07088"/>
<rect x="240.3" y="594.3" width="4.8" height="2.4" fill="#f4c8f0"/>
<rect x="245.1" y="594.3" width="4.8" height="2.4" fill="#f89090"/>
<rect x="249.8" y="594.3" width="4.8" height="2.4" fill="#f85858"/>
<rect x="254.6" y="594.3" width="4.8" height="2.4" fill="#f03030"/>
<rect x="259.4" y="594.3" width="4.8" height="2.4" fill="#f89090"/>
<rect x="264.1" y="594.3" width="4.8" height="2.4" fill="#f85858"/>
<rect x="268.9" y="594.3" width="4.8" height="2.4" fill="#f89090"/>
<rect x="273.7" y="594.3" width="4.8" height="2.4" fill="#f07088"/>
<rect x="278.5" y="594.3" width="4.8" height="2.4" fill="#f85858"/>
<rect x="283.2" y="594.3" width="4.8" height="2.4" fill="#e00808"/>
<rect x="288" y="594.3" width="4.8" height="2.4" fill="#f89090"/>
<rect x="140" y="596.7" width="4.8" height="2.4" fill="#1c10d8"/>
<rect x="144.8" y="596.7" width="4.8" height="2.4" fill="#9090f8"/>
<rect x="149.6" y="596.7" width="4.8" height="2.4" fill="#1c10d8"/>
<rect x="154.3" y="596.7" width="4.8" height="2.4" fill="#6a6af8"/>
<rect x="159.1" y="596.7" width="4.8" height="2.4" fill="#4010c0"/>
<rect x="163.9" y="596.7" width="4.8" height="2.4" fill="#9090f8"/>
<rect x="168.7" y="596.7" width="4.8" height="2.4" fill="#9090f8"/>
<rect x="173.4" y="596.7" width="4.8" height="2.4" fill="#4010c0"/>
<rect x="178.2" y="596.7" width="4.8" height="2.4" fill="#6a6af8"/>
<rect x="183" y="596.7" width="4.8" height="2.4" fill="#4010c0"/>
<rect x="187.8" y="596.7" width="4.8" height="2.4" fill="#f85858"/>
<rect x="192.5" y="596.7" width="4.8" height="2.4" fill="#e0e0fc"/>
<rect x="197.3" y="596.7" width="4.8" height="2.4" fill="#f4c8f0"/>
<rect x="202.1" y="596.7" width="4.8" height="2.4" fill="#f4c8f0"/>
<rect x="206.9" y="596.7" width="4.8" height="2.4" fill="#e0e0fc"/>
<rect x="211.6" y="596.7" width="4.8" height="2.4" fill="#e0e0fc"/>
<rect x="216.4" y="596.7" width="4.8" height="2.4" fill="#f4c8f0"/>
<rect x="221.2" y="596.7" width="4.8" height="2.4" fill="#f89090"/>
<rect x="225.9" y="596.7" width="4.8" height="2.4" fill="#e0e0fc"/>
<rect x="230.7" y="596.7" width="4.8" height="2.4" fill="#f4c8f0"/>
<rect x="235.5" y="596.7" width="4.8" height="2.4" fill="#f85858"/>
<rect x="240.3" y="596.7" width="4.8" height="2.4" fill="#d0c8f0"/>
<rect x="245.1" y="596.7" width="4.8" height="2.4" fill="#e0e0fc"/>
<rect x="249.8" y="596.7" width="4.8" height="2.4" fill="#f89090"/>
<rect x="254.6" y="596.7" width="4.8" height="2.4" fill="#e0e0fc"/>
<rect x="259.4" y="596.7" width="4.8" height="2.4" fill="#d0c8f0"/>
<rect x="264.1" y="596.7" width="4.8" height="2.4" fill="#f85858"/>
<rect x="268.9" y="596.7" width="4.8" height="2.4" fill="#f4c8f0"/>
<rect x="273.7" y="596.7" width="4.8" height="2.4" fill="#f4c8f0"/>
<rect x="278.5" y="596.7" width="4.8" height="2.4" fill="#d0c8f0"/>
<rect x="283.2" y="596.7" width="4.8" height="2.4" fill="#e0e0fc"/>
<rect x="288" y="596.7" width="4.8" height="2.4" fill="#6a6af8"/>
<rect x="140" y="599" width="4.8" height="2.4" fill="#1c10d8"/>
<rect x="144.8" y="599" width="4.8" height="2.4" fill="#d0c8f0"/>
<rect x="149.6" y="599" width="4.8" height="2.4" fill="#9090f8"/>
<rect x="154.3" y="599" width="4.8" height="2.4" fill="#9090f8"/>
<rect x="159.1" y="599" width="4.8" height="2.4" fill="#4010c0"/>
<rect x="163.9" y="599" width="4.8" height="2.4" fill="#9090f8"/>
<rect x="168.7" y="599" width="4.8" height="2.4" fill="#d0c8f0"/>
<rect x="173.4" y="599" width="4.8" height="2.4" fill="#1c10d8"/>
<rect x="178.2" y="599" width="4.8" height="2.4" fill="#6a6af8"/>
<rect x="183" y="599" width="4.8" height="2.4" fill="#4010c0"/>
<rect x="187.8" y="599" width="4.8" height="2.4" fill="#f07088"/>
<rect x="192.5" y="599" width="4.8" height="2.4" fill="#f07088"/>
<rect x="197.3" y="599" width="4.8" height="2.4" fill="#d0c8f0"/>
<rect x="202.1" y="599" width="4.8" height="2.4" fill="#f85858"/>
<rect x="206.9" y="599" width="4.8" height="2.4" fill="#e0e0fc"/>
<rect x="211.6" y="599" width="4.8" height="2.4" fill="#d0c8f0"/>
<rect x="216.4" y="599" width="4.8" height="2.4" fill="#f07088"/>
<rect x="221.2" y="599" width="4.8" height="2.4" fill="#f07088"/>
<rect x="225.9" y="599" width="4.8" height="2.4" fill="#e00808"/>
<rect x="230.7" y="599" width="4.8" height="2.4" fill="#f03030"/>
<rect x="235.5" y="599" width="4.8" height="2.4" fill="#f4c8f0"/>
<rect x="240.3" y="599" width="4.8" height="2.4" fill="#f85858"/>
<rect x="245.1" y="599" width="4.8" height="2.4" fill="#f07088"/>
<rect x="249.8" y="599" width="4.8" height="2.4" fill="#f07088"/>
<rect x="254.6" y="599" width="4.8" height="2.4" fill="#e0e0fc"/>
<rect x="259.4" y="599" width="4.8" height="2.4" fill="#f4c8f0"/>
<rect x="264.1" y="599" width="4.8" height="2.4" fill="#f85858"/>
<rect x="268.9" y="599" width="4.8" height="2.4" fill="#e0e0fc"/>
<rect x="273.7" y="599" width="4.8" height="2.4" fill="#f89090"/>
<rect x="278.5" y="599" width="4.8" height="2.4" fill="#d0c8f0"/>
<rect x="283.2" y="599" width="4.8" height="2.4" fill="#f07088"/>
<rect x="288" y="599" width="4.8" height="2.4" fill="#e0e0fc"/>
<rect x="140" y="601.4" width="4.8" height="2.4" fill="#6a6af8"/>
<rect x="144.8" y="601.4" width="4.8" height="2.4" fill="#9090f8"/>
<rect x="149.6" y="601.4" width="4.8" height="2.4" fill="#9090f8"/>
<rect x="154.3" y="601.4" width="4.8" height="2.4" fill="#d0c8f0"/>
<rect x="159.1" y="601.4" width="4.8" height="2.4" fill="#4010c0"/>
<rect x="163.9" y="601.4" width="4.8" height="2.4" fill="#d0c8f0"/>
<rect x="168.7" y="601.4" width="4.8" height="2.4" fill="#6a6af8"/>
<rect x="173.4" y="601.4" width="4.8" height="2.4" fill="#4010c0"/>
<rect x="178.2" y="601.4" width="4.8" height="2.4" fill="#9090f8"/>
<rect x="183" y="601.4" width="4.8" height="2.4" fill="#4010c0"/>
<rect x="187.8" y="601.4" width="4.8" height="2.4" fill="#e0e0fc"/>
<rect x="192.5" y="601.4" width="4.8" height="2.4" fill="#e0e0fc"/>
<rect x="197.3" y="601.4" width="4.8" height="2.4" fill="#e0e0fc"/>
<rect x="202.1" y="601.4" width="4.8" height="2.4" fill="#e0e0fc"/>
<rect x="206.9" y="601.4" width="4.8" height="2.4" fill="#e0e0fc"/>
<rect x="211.6" y="601.4" width="4.8" height="2.4" fill="#f85858"/>
<rect x="216.4" y="601.4" width="4.8" height="2.4" fill="#e0e0fc"/>
<rect x="221.2" y="601.4" width="4.8" height="2.4" fill="#f89090"/>
<rect x="225.9" y="601.4" width="4.8" height="2.4" fill="#f85858"/>
<rect x="230.7" y="601.4" width="4.8" height="2.4" fill="#f4c8f0"/>
<rect x="235.5" y="601.4" width="4.8" height="2.4" fill="#f89090"/>
<rect x="240.3" y="601.4" width="4.8" height="2.4" fill="#f85858"/>
<rect x="245.1" y="601.4" width="4.8" height="2.4" fill="#f4c8f0"/>
<rect x="249.8" y="601.4" width="4.8" height="2.4" fill="#f89090"/>
<rect x="254.6" y="601.4" width="4.8" height="2.4" fill="#f07088"/>
<rect x="259.4" y="601.4" width="4.8" height="2.4" fill="#f89090"/>
<rect x="264.1" y="601.4" width="4.8" height="2.4" fill="#f89090"/>
<rect x="268.9" y="601.4" width="4.8" height="2.4" fill="#f4c8f0"/>
<rect x="273.7" y="601.4" width="4.8" height="2.4" fill="#f89090"/>
<rect x="278.5" y="601.4" width="4.8" height="2.4" fill="#f07088"/>
<rect x="283.2" y="601.4" width="4.8" height="2.4" fill="#f07088"/>
<rect x="288" y="601.4" width="4.8" height="2.4" fill="#e0e0fc"/>
<rect x="140" y="603.8" width="4.8" height="2.4" fill="#6a6af8"/>
<rect x="144.8" y="603.8" width="4.8" height="2.4" fill="#9090f8"/>
<rect x="149.6" y="603.8" width="4.8" height="2.4" fill="#6a6af8"/>
<rect x="154.3" y="603.8" width="4.8" height="2.4" fill="#9090f8"/>
<rect x="159.1" y="603.8" width="4.8" height="2.4" fill="#4010c0"/>
<rect x="163.9" y="603.8" width="4.8" height="2.4" fill="#e0e0fc"/>
<rect x="168.7" y="603.8" width="4.8" height="2.4" fill="#d0c8f0"/>
<rect x="173.4" y="603.8" width="4.8" height="2.4" fill="#1c10d8"/>
<rect x="178.2" y="603.8" width="4.8" height="2.4" fill="#9090f8"/>
<rect x="183" y="603.8" width="4.8" height="2.4" fill="#4010c0"/>
<rect x="187.8" y="603.8" width="4.8" height="2.4" fill="#f85858"/>
<rect x="192.5" y="603.8" width="4.8" height="2.4" fill="#f85858"/>
<rect x="197.3" y="603.8" width="4.8" height="2.4" fill="#f89090"/>
<rect x="202.1" y="603.8" width="4.8" height="2.4" fill="#f4c8f0"/>
<rect x="206.9" y="603.8" width="4.8" height="2.4" fill="#f89090"/>
<rect x="211.6" y="603.8" width="4.8" height="2.4" fill="#f89090"/>
<rect x="216.4" y="603.8" width="4.8" height="2.4" fill="#e0e0fc"/>
<rect x="221.2" y="603.8" width="4.8" height="2.4" fill="#f07088"/>
<rect x="225.9" y="603.8" width="4.8" height="2.4" fill="#f07088"/>
<rect x="230.7" y="603.8" width="4.8" height="2.4" fill="#e0e0fc"/>
<rect x="235.5" y="603.8" width="4.8" height="2.4" fill="#d0c8f0"/>
<rect x="240.3" y="603.8" width="4.8" height="2.4" fill="#f4c8f0"/>
<rect x="245.1" y="603.8" width="4.8" height="2.4" fill="#f89090"/>
<rect x="249.8" y="603.8" width="4.8" height="2.4" fill="#d0c8f0"/>
<rect x="254.6" y="603.8" width="4.8" height="2.4" fill="#f89090"/>
<rect x="259.4" y="603.8" width="4.8" height="2.4" fill="#f85858"/>
<rect x="264.1" y="603.8" width="4.8" height="2.4" fill="#f89090"/>
<rect x="268.9" y="603.8" width="4.8" height="2.4" fill="#d0c8f0"/>
<rect x="273.7" y="603.8" width="4.8" height="2.4" fill="#f03030"/>
<rect x="278.5" y="603.8" width="4.8" height="2.4" fill="#f07088"/>
<rect x="283.2" y="603.8" width="4.8" height="2.4" fill="#f85858"/>
<rect x="288" y="603.8" width="4.8" height="2.4" fill="#d0c8f0"/>
<rect x="140" y="606.2" width="4.8" height="2.4" fill="#4010c0"/>
<rect x="144.8" y="606.2" width="4.8" height="2.4" fill="#6a6af8"/>
<rect x="149.6" y="606.2" width="4.8" height="2.4" fill="#9090f8"/>
<rect x="154.3" y="606.2" width="4.8" height="2.4" fill="#9090f8"/>
<rect x="159.1" y="606.2" width="4.8" height="2.4" fill="#4010c0"/>
<rect x="163.9" y="606.2" width="4.8" height="2.4" fill="#6a6af8"/>
<rect x="168.7" y="606.2" width="4.8" height="2.4" fill="#6a6af8"/>
<rect x="173.4" y="606.2" width="4.8" height="2.4" fill="#1c10d8"/>
<rect x="178.2" y="606.2" width="4.8" height="2.4" fill="#6a6af8"/>
<rect x="183" y="606.2" width="4.8" height="2.4" fill="#4010c0"/>
<rect x="187.8" y="606.2" width="4.8" height="2.4" fill="#f4c8f0"/>
<rect x="192.5" y="606.2" width="4.8" height="2.4" fill="#f07088"/>
<rect x="197.3" y="606.2" width="4.8" height="2.4" fill="#9090f8"/>
<rect x="202.1" y="606.2" width="4.8" height="2.4" fill="#f4c8f0"/>
<rect x="206.9" y="606.2" width="4.8" height="2.4" fill="#9090f8"/>
<rect x="211.6" y="606.2" width="4.8" height="2.4" fill="#e0e0fc"/>
<rect x="216.4" y="606.2" width="4.8" height="2.4" fill="#f89090"/>
<rect x="221.2" y="606.2" width="4.8" height="2.4" fill="#f85858"/>
<rect x="225.9" y="606.2" width="4.8" height="2.4" fill="#f4c8f0"/>
<rect x="230.7" y="606.2" width="4.8" height="2.4" fill="#e0e0fc"/>
<rect x="235.5" y="606.2" width="4.8" height="2.4" fill="#f85858"/>
<rect x="240.3" y="606.2" width="4.8" height="2.4" fill="#f4c8f0"/>
<rect x="245.1" y="606.2" width="4.8" height="2.4" fill="#f85858"/>
<rect x="249.8" y="606.2" width="4.8" height="2.4" fill="#f89090"/>
<rect x="254.6" y="606.2" width="4.8" height="2.4" fill="#e0e0fc"/>
<rect x="259.4" y="606.2" width="4.8" height="2.4" fill="#f07088"/>
<rect x="264.1" y="606.2" width="4.8" height="2.4" fill="#f89090"/>
<rect x="268.9" y="606.2" width="4.8" height="2.4" fill="#e0e0fc"/>
<rect x="273.7" y="606.2" width="4.8" height="2.4" fill="#f07088"/>
<rect x="278.5" y="606.2" width="4.8" height="2.4" fill="#f89090"/>
<rect x="283.2" y="606.2" width="4.8" height="2.4" fill="#f89090"/>
<rect x="288" y="606.2" width="4.8" height="2.4" fill="#9090f8"/>
<rect x="140" y="608.5" width="4.8" height="2.4" fill="#1c10d8"/>
<rect x="144.8" y="608.5" width="4.8" height="2.4" fill="#d0c8f0"/>
<rect x="149.6" y="608.5" width="4.8" height="2.4" fill="#6a6af8"/>
<rect x="154.3" y="608.5" width="4.8" height="2.4" fill="#d0c8f0"/>
<rect x="159.1" y="608.5" width="4.8" height="2.4" fill="#4010c0"/>
<rect x="163.9" y="608.5" width="4.8" height="2.4" fill="#9090f8"/>
<rect x="168.7" y="608.5" width="4.8" height="2.4" fill="#d0c8f0"/>
<rect x="173.4" y="608.5" width="4.8" height="2.4" fill="#1c10d8"/>
<rect x="178.2" y="608.5" width="4.8" height="2.4" fill="#9090f8"/>
<rect x="183" y="608.5" width="4.8" height="2.4" fill="#1c10d8"/>
<rect x="187.8" y="608.5" width="4.8" height="2.4" fill="#f85858"/>
<rect x="192.5" y="608.5" width="4.8" height="2.4" fill="#f89090"/>
<rect x="197.3" y="608.5" width="4.8" height="2.4" fill="#e0e0fc"/>
<rect x="202.1" y="608.5" width="4.8" height="2.4" fill="#f4c8f0"/>
<rect x="206.9" y="608.5" width="4.8" height="2.4" fill="#f03030"/>
<rect x="211.6" y="608.5" width="4.8" height="2.4" fill="#f4c8f0"/>
<rect x="216.4" y="608.5" width="4.8" height="2.4" fill="#f07088"/>
<rect x="221.2" y="608.5" width="4.8" height="2.4" fill="#d0c8f0"/>
<rect x="225.9" y="608.5" width="4.8" height="2.4" fill="#f89090"/>
<rect x="230.7" y="608.5" width="4.8" height="2.4" fill="#f07088"/>
<rect x="235.5" y="608.5" width="4.8" height="2.4" fill="#d0c8f0"/>
<rect x="240.3" y="608.5" width="4.8" height="2.4" fill="#f07088"/>
<rect x="245.1" y="608.5" width="4.8" height="2.4" fill="#f07088"/>
<rect x="249.8" y="608.5" width="4.8" height="2.4" fill="#f85858"/>
<rect x="254.6" y="608.5" width="4.8" height="2.4" fill="#f4c8f0"/>
<rect x="259.4" y="608.5" width="4.8" height="2.4" fill="#f85858"/>
<rect x="264.1" y="608.5" width="4.8" height="2.4" fill="#e0e0fc"/>
<rect x="268.9" y="608.5" width="4.8" height="2.4" fill="#f4c8f0"/>
<rect x="273.7" y="608.5" width="4.8" height="2.4" fill="#d0c8f0"/>
<rect x="278.5" y="608.5" width="4.8" height="2.4" fill="#f07088"/>
<rect x="283.2" y="608.5" width="4.8" height="2.4" fill="#f03030"/>
<rect x="288" y="608.5" width="4.8" height="2.4" fill="#9090f8"/>
<rect x="140" y="610.9" width="4.8" height="2.4" fill="#9090f8"/>
<rect x="144.8" y="610.9" width="4.8" height="2.4" fill="#d0c8f0"/>
<rect x="149.6" y="610.9" width="4.8" height="2.4" fill="#9090f8"/>
<rect x="154.3" y="610.9" width="4.8" height="2.4" fill="#9090f8"/>
<rect x="159.1" y="610.9" width="4.8" height="2.4" fill="#4010c0"/>
<rect x="163.9" y="610.9" width="4.8" height="2.4" fill="#e0e0fc"/>
<rect x="168.7" y="610.9" width="4.8" height="2.4" fill="#d0c8f0"/>
<rect x="173.4" y="610.9" width="4.8" height="2.4" fill="#1c10d8"/>
<rect x="178.2" y="610.9" width="4.8" height="2.4" fill="#d0c8f0"/>
<rect x="183" y="610.9" width="4.8" height="2.4" fill="#1c10d8"/>
<rect x="187.8" y="610.9" width="4.8" height="2.4" fill="#e00808"/>
<rect x="192.5" y="610.9" width="4.8" height="2.4" fill="#f07088"/>
<rect x="197.3" y="610.9" width="4.8" height="2.4" fill="#f07088"/>
<rect x="202.1" y="610.9" width="4.8" height="2.4" fill="#e00808"/>
<rect x="206.9" y="610.9" width="4.8" height="2.4" fill="#f89090"/>
<rect x="211.6" y="610.9" width="4.8" height="2.4" fill="#f03030"/>
<rect x="216.4" y="610.9" width="4.8" height="2.4" fill="#f07088"/>
<rect x="221.2" y="610.9" width="4.8" height="2.4" fill="#f03030"/>
<rect x="225.9" y="610.9" width="4.8" height="2.4" fill="#f89090"/>
<rect x="230.7" y="610.9" width="4.8" height="2.4" fill="#f4c8f0"/>
<rect x="235.5" y="610.9" width="4.8" height="2.4" fill="#f85858"/>
<rect x="240.3" y="610.9" width="4.8" height="2.4" fill="#f4c8f0"/>
<rect x="245.1" y="610.9" width="4.8" height="2.4" fill="#f07088"/>
<rect x="249.8" y="610.9" width="4.8" height="2.4" fill="#f03030"/>
<rect x="254.6" y="610.9" width="4.8" height="2.4" fill="#f85858"/>
<rect x="259.4" y="610.9" width="4.8" height="2.4" fill="#f03030"/>
<rect x="264.1" y="610.9" width="4.8" height="2.4" fill="#f07088"/>
<rect x="268.9" y="610.9" width="4.8" height="2.4" fill="#f85858"/>
<rect x="273.7" y="610.9" width="4.8" height="2.4" fill="#e00808"/>
<rect x="278.5" y="610.9" width="4.8" height="2.4" fill="#f03030"/>
<rect x="283.2" y="610.9" width="4.8" height="2.4" fill="#f85858"/>
<rect x="288" y="610.9" width="4.8" height="2.4" fill="#f89090"/>
<rect x="140" y="613.3" width="4.8" height="2.4" fill="#d0c8f0"/>
<rect x="144.8" y="613.3" width="4.8" height="2.4" fill="#d0c8f0"/>
<rect x="149.6" y="613.3" width="4.8" height="2.4" fill="#1c10d8"/>
<rect x="154.3" y="613.3" width="4.8" height="2.4" fill="#e0e0fc"/>
<rect x="159.1" y="613.3" width="4.8" height="2.4" fill="#4010c0"/>
<rect x="163.9" y="613.3" width="4.8" height="2.4" fill="#d0c8f0"/>
<rect x="168.7" y="613.3" width="4.8" height="2.4" fill="#d0c8f0"/>
<rect x="173.4" y="613.3" width="4.8" height="2.4" fill="#1c10d8"/>
<rect x="178.2" y="613.3" width="4.8" height="2.4" fill="#6a6af8"/>
<rect x="183" y="613.3" width="4.8" height="2.4" fill="#4010c0"/>
<rect x="187.8" y="613.3" width="4.8" height="2.4" fill="#f85858"/>
<rect x="192.5" y="613.3" width="4.8" height="2.4" fill="#f89090"/>
<rect x="197.3" y="613.3" width="4.8" height="2.4" fill="#f85858"/>
<rect x="202.1" y="613.3" width="4.8" height="2.4" fill="#f89090"/>
<rect x="206.9" y="613.3" width="4.8" height="2.4" fill="#f89090"/>
<rect x="211.6" y="613.3" width="4.8" height="2.4" fill="#f85858"/>
<rect x="216.4" y="613.3" width="4.8" height="2.4" fill="#f07088"/>
<rect x="221.2" y="613.3" width="4.8" height="2.4" fill="#f03030"/>
<rect x="225.9" y="613.3" width="4.8" height="2.4" fill="#f89090"/>
<rect x="230.7" y="613.3" width="4.8" height="2.4" fill="#e00808"/>
<rect x="235.5" y="613.3" width="4.8" height="2.4" fill="#9090f8"/>
<rect x="240.3" y="613.3" width="4.8" height="2.4" fill="#f89090"/>
<rect x="245.1" y="613.3" width="4.8" height="2.4" fill="#f89090"/>
<rect x="249.8" y="613.3" width="4.8" height="2.4" fill="#f89090"/>
<rect x="254.6" y="613.3" width="4.8" height="2.4" fill="#f4c8f0"/>
<rect x="259.4" y="613.3" width="4.8" height="2.4" fill="#f07088"/>
<rect x="264.1" y="613.3" width="4.8" height="2.4" fill="#f03030"/>
<rect x="268.9" y="613.3" width="4.8" height="2.4" fill="#f07088"/>
<rect x="273.7" y="613.3" width="4.8" height="2.4" fill="#e00808"/>
<rect x="278.5" y="613.3" width="4.8" height="2.4" fill="#f07088"/>
<rect x="283.2" y="613.3" width="4.8" height="2.4" fill="#f03030"/>
<rect x="288" y="613.3" width="4.8" height="2.4" fill="#f89090"/>
<rect x="140" y="615.7" width="4.8" height="2.4" fill="#d0c8f0"/>
<rect x="144.8" y="615.7" width="4.8" height="2.4" fill="#9090f8"/>
<rect x="149.6" y="615.7" width="4.8" height="2.4" fill="#d0c8f0"/>
<rect x="154.3" y="615.7" width="4.8" height="2.4" fill="#d0c8f0"/>
<rect x="159.1" y="615.7" width="4.8" height="2.4" fill="#4010c0"/>
<rect x="163.9" y="615.7" width="4.8" height="2.4" fill="#9090f8"/>
<rect x="168.7" y="615.7" width="4.8" height="2.4" fill="#9090f8"/>
<rect x="173.4" y="615.7" width="4.8" height="2.4" fill="#1c10d8"/>
<rect x="178.2" y="615.7" width="4.8" height="2.4" fill="#d0c8f0"/>
<rect x="183" y="615.7" width="4.8" height="2.4" fill="#4010c0"/>
<rect x="187.8" y="615.7" width="4.8" height="2.4" fill="#f07088"/>
<rect x="192.5" y="615.7" width="4.8" height="2.4" fill="#f85858"/>
<rect x="197.3" y="615.7" width="4.8" height="2.4" fill="#e00808"/>
<rect x="202.1" y="615.7" width="4.8" height="2.4" fill="#f03030"/>
<rect x="206.9" y="615.7" width="4.8" height="2.4" fill="#f89090"/>
<rect x="211.6" y="615.7" width="4.8" height="2.4" fill="#f89090"/>
<rect x="216.4" y="615.7" width="4.8" height="2.4" fill="#f85858"/>
<rect x="221.2" y="615.7" width="4.8" height="2.4" fill="#f85858"/>
<rect x="225.9" y="615.7" width="4.8" height="2.4" fill="#f03030"/>
<rect x="230.7" y="615.7" width="4.8" height="2.4" fill="#f89090"/>
<rect x="235.5" y="615.7" width="4.8" height="2.4" fill="#f89090"/>
<rect x="240.3" y="615.7" width="4.8" height="2.4" fill="#f4c8f0"/>
<rect x="245.1" y="615.7" width="4.8" height="2.4" fill="#f07088"/>
<rect x="249.8" y="615.7" width="4.8" height="2.4" fill="#f07088"/>
<rect x="254.6" y="615.7" width="4.8" height="2.4" fill="#f85858"/>
<rect x="259.4" y="615.7" width="4.8" height="2.4" fill="#f4c8f0"/>
<rect x="264.1" y="615.7" width="4.8" height="2.4" fill="#e0e0fc"/>
<rect x="268.9" y="615.7" width="4.8" height="2.4" fill="#f89090"/>
<rect x="273.7" y="615.7" width="4.8" height="2.4" fill="#f89090"/>
<rect x="278.5" y="615.7" width="4.8" height="2.4" fill="#f85858"/>
<rect x="283.2" y="615.7" width="4.8" height="2.4" fill="#f85858"/>
<rect x="288" y="615.7" width="4.8" height="2.4" fill="#f4c8f0"/>
<rect x="140" y="618.1" width="4.8" height="2.4" fill="#1c10d8"/>
<rect x="144.8" y="618.1" width="4.8" height="2.4" fill="#e0e0fc"/>
<rect x="149.6" y="618.1" width="4.8" height="2.4" fill="#d0c8f0"/>
<rect x="154.3" y="618.1" width="4.8" height="2.4" fill="#d0c8f0"/>
<rect x="159.1" y="618.1" width="4.8" height="2.4" fill="#1c10d8"/>
<rect x="163.9" y="618.1" width="4.8" height="2.4" fill="#d0c8f0"/>
<rect x="168.7" y="618.1" width="4.8" height="2.4" fill="#d0c8f0"/>
<rect x="173.4" y="618.1" width="4.8" height="2.4" fill="#6a6af8"/>
<rect x="178.2" y="618.1" width="4.8" height="2.4" fill="#d0c8f0"/>
<rect x="183" y="618.1" width="4.8" height="2.4" fill="#1c10d8"/>
<rect x="187.8" y="618.1" width="4.8" height="2.4" fill="#f85858"/>
<rect x="192.5" y="618.1" width="4.8" height="2.4" fill="#f85858"/>
<rect x="197.3" y="618.1" width="4.8" height="2.4" fill="#f03030"/>
<rect x="202.1" y="618.1" width="4.8" height="2.4" fill="#f07088"/>
<rect x="206.9" y="618.1" width="4.8" height="2.4" fill="#f07088"/>
<rect x="211.6" y="618.1" width="4.8" height="2.4" fill="#f89090"/>
<rect x="216.4" y="618.1" width="4.8" height="2.4" fill="#f07088"/>
<rect x="221.2" y="618.1" width="4.8" height="2.4" fill="#f89090"/>
<rect x="225.9" y="618.1" width="4.8" height="2.4" fill="#f03030"/>
<rect x="230.7" y="618.1" width="4.8" height="2.4" fill="#f07088"/>
<rect x="235.5" y="618.1" width="4.8" height="2.4" fill="#f85858"/>
<rect x="240.3" y="618.1" width="4.8" height="2.4" fill="#d0c8f0"/>
<rect x="245.1" y="618.1" width="4.8" height="2.4" fill="#e0e0fc"/>
<rect x="249.8" y="618.1" width="4.8" height="2.4" fill="#f4c8f0"/>
<rect x="254.6" y="618.1" width="4.8" height="2.4" fill="#f89090"/>
<rect x="259.4" y="618.1" width="4.8" height="2.4" fill="#f85858"/>
<rect x="264.1" y="618.1" width="4.8" height="2.4" fill="#f89090"/>
<rect x="268.9" y="618.1" width="4.8" height="2.4" fill="#f03030"/>
<rect x="273.7" y="618.1" width="4.8" height="2.4" fill="#f07088"/>
<rect x="278.5" y="618.1" width="4.8" height="2.4" fill="#f03030"/>
<rect x="283.2" y="618.1" width="4.8" height="2.4" fill="#f85858"/>
<rect x="288" y="618.1" width="4.8" height="2.4" fill="#f03030"/>
<rect x="140" y="620.4" width="4.8" height="2.4" fill="#1c10d8"/>
<rect x="144.8" y="620.4" width="4.8" height="2.4" fill="#9090f8"/>
<rect x="149.6" y="620.4" width="4.8" height="2.4" fill="#9090f8"/>
<rect x="154.3" y="620.4" width="4.8" height="2.4" fill="#e0e0fc"/>
<rect x="159.1" y="620.4" width="4.8" height="2.4" fill="#1c10d8"/>
<rect x="163.9" y="620.4" width="4.8" height="2.4" fill="#d0c8f0"/>
<rect x="168.7" y="620.4" width="4.8" height="2.4" fill="#6a6af8"/>
<rect x="173.4" y="620.4" width="4.8" height="2.4" fill="#6a6af8"/>
<rect x="178.2" y="620.4" width="4.8" height="2.4" fill="#e0e0fc"/>
<rect x="183" y="620.4" width="4.8" height="2.4" fill="#1c10d8"/>
<rect x="187.8" y="620.4" width="4.8" height="2.4" fill="#e00808"/>
<rect x="192.5" y="620.4" width="4.8" height="2.4" fill="#f07088"/>
<rect x="197.3" y="620.4" width="4.8" height="2.4" fill="#f07088"/>
<rect x="202.1" y="620.4" width="4.8" height="2.4" fill="#f03030"/>
<rect x="206.9" y="620.4" width="4.8" height="2.4" fill="#f03030"/>
<rect x="211.6" y="620.4" width="4.8" height="2.4" fill="#f03030"/>
<rect x="216.4" y="620.4" width="4.8" height="2.4" fill="#f07088"/>
<rect x="221.2" y="620.4" width="4.8" height="2.4" fill="#f85858"/>
<rect x="225.9" y="620.4" width="4.8" height="2.4" fill="#e00808"/>
<rect x="230.7" y="620.4" width="4.8" height="2.4" fill="#e00808"/>
<rect x="235.5" y="620.4" width="4.8" height="2.4" fill="#f85858"/>
<rect x="240.3" y="620.4" width="4.8" height="2.4" fill="#e00808"/>
<rect x="245.1" y="620.4" width="4.8" height="2.4" fill="#f85858"/>
<rect x="249.8" y="620.4" width="4.8" height="2.4" fill="#f89090"/>
<rect x="254.6" y="620.4" width="4.8" height="2.4" fill="#f07088"/>
<rect x="259.4" y="620.4" width="4.8" height="2.4" fill="#f07088"/>
<rect x="264.1" y="620.4" width="4.8" height="2.4" fill="#f03030"/>
<rect x="268.9" y="620.4" width="4.8" height="2.4" fill="#f03030"/>
<rect x="273.7" y="620.4" width="4.8" height="2.4" fill="#f89090"/>
<rect x="278.5" y="620.4" width="4.8" height="2.4" fill="#f4c8f0"/>
<rect x="283.2" y="620.4" width="4.8" height="2.4" fill="#f03030"/>
<rect x="288" y="620.4" width="4.8" height="2.4" fill="#e0e0fc"/>
<rect x="140" y="622.8" width="4.8" height="2.4" fill="#9090f8"/>
<rect x="144.8" y="622.8" width="4.8" height="2.4" fill="#9090f8"/>
<rect x="149.6" y="622.8" width="4.8" height="2.4" fill="#9090f8"/>
<rect x="154.3" y="622.8" width="4.8" height="2.4" fill="#d0c8f0"/>
<rect x="159.1" y="622.8" width="4.8" height="2.4" fill="#4010c0"/>
<rect x="163.9" y="622.8" width="4.8" height="2.4" fill="#d0c8f0"/>
<rect x="168.7" y="622.8" width="4.8" height="2.4" fill="#d0c8f0"/>
<rect x="173.4" y="622.8" width="4.8" height="2.4" fill="#1c10d8"/>
<rect x="178.2" y="622.8" width="4.8" height="2.4" fill="#d0c8f0"/>
<rect x="183" y="622.8" width="4.8" height="2.4" fill="#1c10d8"/>
<rect x="187.8" y="622.8" width="4.8" height="2.4" fill="#f03030"/>
<rect x="192.5" y="622.8" width="4.8" height="2.4" fill="#f85858"/>
<rect x="197.3" y="622.8" width="4.8" height="2.4" fill="#e0e0fc"/>
<rect x="202.1" y="622.8" width="4.8" height="2.4" fill="#e0e0fc"/>
<rect x="206.9" y="622.8" width="4.8" height="2.4" fill="#f4c8f0"/>
<rect x="211.6" y="622.8" width="4.8" height="2.4" fill="#f4c8f0"/>
<rect x="216.4" y="622.8" width="4.8" height="2.4" fill="#f4c8f0"/>
<rect x="221.2" y="622.8" width="4.8" height="2.4" fill="#f07088"/>
<rect x="225.9" y="622.8" width="4.8" height="2.4" fill="#f89090"/>
<rect x="230.7" y="622.8" width="4.8" height="2.4" fill="#f03030"/>
<rect x="235.5" y="622.8" width="4.8" height="2.4" fill="#e0e0fc"/>
<rect x="240.3" y="622.8" width="4.8" height="2.4" fill="#e0e0fc"/>
<rect x="245.1" y="622.8" width="4.8" height="2.4" fill="#f4c8f0"/>
<rect x="249.8" y="622.8" width="4.8" height="2.4" fill="#e0e0fc"/>
<rect x="254.6" y="622.8" width="4.8" height="2.4" fill="#f4c8f0"/>
<rect x="259.4" y="622.8" width="4.8" height="2.4" fill="#e0e0fc"/>
<rect x="264.1" y="622.8" width="4.8" height="2.4" fill="#e00808"/>
<rect x="268.9" y="622.8" width="4.8" height="2.4" fill="#f4c8f0"/>
<rect x="273.7" y="622.8" width="4.8" height="2.4" fill="#f07088"/>
<rect x="278.5" y="622.8" width="4.8" height="2.4" fill="#f07088"/>
<rect x="283.2" y="622.8" width="4.8" height="2.4" fill="#f85858"/>
<rect x="288" y="622.8" width="4.8" height="2.4" fill="#f4c8f0"/>
<rect x="140" y="625.2" width="4.8" height="2.4" fill="#1c10d8"/>
<rect x="144.8" y="625.2" width="4.8" height="2.4" fill="#e0e0fc"/>
<rect x="149.6" y="625.2" width="4.8" height="2.4" fill="#1c10d8"/>
<rect x="154.3" y="625.2" width="4.8" height="2.4" fill="#9090f8"/>
<rect x="159.1" y="625.2" width="4.8" height="2.4" fill="#4010c0"/>
<rect x="163.9" y="625.2" width="4.8" height="2.4" fill="#d0c8f0"/>
<rect x="168.7" y="625.2" width="4.8" height="2.4" fill="#e0e0fc"/>
<rect x="173.4" y="625.2" width="4.8" height="2.4" fill="#1c10d8"/>
<rect x="178.2" y="625.2" width="4.8" height="2.4" fill="#6a6af8"/>
<rect x="183" y="625.2" width="4.8" height="2.4" fill="#4010c0"/>
<rect x="187.8" y="625.2" width="4.8" height="2.4" fill="#f89090"/>
<rect x="192.5" y="625.2" width="4.8" height="2.4" fill="#f85858"/>
<rect x="197.3" y="625.2" width="4.8" height="2.4" fill="#f89090"/>
<rect x="202.1" y="625.2" width="4.8" height="2.4" fill="#f89090"/>
<rect x="206.9" y="625.2" width="4.8" height="2.4" fill="#f89090"/>
<rect x="211.6" y="625.2" width="4.8" height="2.4" fill="#f89090"/>
<rect x="216.4" y="625.2" width="4.8" height="2.4" fill="#f89090"/>
<rect x="221.2" y="625.2" width="4.8" height="2.4" fill="#f07088"/>
<rect x="225.9" y="625.2" width="4.8" height="2.4" fill="#f89090"/>
<rect x="230.7" y="625.2" width="4.8" height="2.4" fill="#f07088"/>
<rect x="235.5" y="625.2" width="4.8" height="2.4" fill="#f89090"/>
<rect x="240.3" y="625.2" width="4.8" height="2.4" fill="#f07088"/>
<rect x="245.1" y="625.2" width="4.8" height="2.4" fill="#f85858"/>
<rect x="249.8" y="625.2" width="4.8" height="2.4" fill="#e0e0fc"/>
<rect x="254.6" y="625.2" width="4.8" height="2.4" fill="#e0e0fc"/>
<rect x="259.4" y="625.2" width="4.8" height="2.4" fill="#f07088"/>
<rect x="264.1" y="625.2" width="4.8" height="2.4" fill="#f89090"/>
<rect x="268.9" y="625.2" width="4.8" height="2.4" fill="#f07088"/>
<rect x="273.7" y="625.2" width="4.8" height="2.4" fill="#f89090"/>
<rect x="278.5" y="625.2" width="4.8" height="2.4" fill="#e0e0fc"/>
<rect x="283.2" y="625.2" width="4.8" height="2.4" fill="#e00808"/>
<rect x="288" y="625.2" width="4.8" height="2.4" fill="#9090f8"/>
<rect x="140" y="627.6" width="4.8" height="2.4" fill="#e0e0fc"/>
<rect x="144.8" y="627.6" width="4.8" height="2.4" fill="#d0c8f0"/>
<rect x="149.6" y="627.6" width="4.8" height="2.4" fill="#e0e0fc"/>
<rect x="154.3" y="627.6" width="4.8" height="2.4" fill="#e0e0fc"/>
<rect x="159.1" y="627.6" width="4.8" height="2.4" fill="#4010c0"/>
<rect x="163.9" y="627.6" width="4.8" height="2.4" fill="#e0e0fc"/>
<rect x="168.7" y="627.6" width="4.8" height="2.4" fill="#d0c8f0"/>
<rect x="173.4" y="627.6" width="4.8" height="2.4" fill="#6a6af8"/>
<rect x="178.2" y="627.6" width="4.8" height="2.4" fill="#d0c8f0"/>
<rect x="183" y="627.6" width="4.8" height="2.4" fill="#1c10d8"/>
<rect x="187.8" y="627.6" width="4.8" height="2.4" fill="#e00808"/>
<rect x="192.5" y="627.6" width="4.8" height="2.4" fill="#f03030"/>
<rect x="197.3" y="627.6" width="4.8" height="2.4" fill="#f85858"/>
<rect x="202.1" y="627.6" width="4.8" height="2.4" fill="#f89090"/>
<rect x="206.9" y="627.6" width="4.8" height="2.4" fill="#f85858"/>
<rect x="211.6" y="627.6" width="4.8" height="2.4" fill="#f03030"/>
<rect x="216.4" y="627.6" width="4.8" height="2.4" fill="#e00808"/>
<rect x="221.2" y="627.6" width="4.8" height="2.4" fill="#f4c8f0"/>
<rect x="225.9" y="627.6" width="4.8" height="2.4" fill="#f03030"/>
<rect x="230.7" y="627.6" width="4.8" height="2.4" fill="#f85858"/>
<rect x="235.5" y="627.6" width="4.8" height="2.4" fill="#f85858"/>
<rect x="240.3" y="627.6" width="4.8" height="2.4" fill="#f4c8f0"/>
<rect x="245.1" y="627.6" width="4.8" height="2.4" fill="#f07088"/>
<rect x="249.8" y="627.6" width="4.8" height="2.4" fill="#e00808"/>
<rect x="254.6" y="627.6" width="4.8" height="2.4" fill="#f89090"/>
<rect x="259.4" y="627.6" width="4.8" height="2.4" fill="#f03030"/>
<rect x="264.1" y="627.6" width="4.8" height="2.4" fill="#f03030"/>
<rect x="268.9" y="627.6" width="4.8" height="2.4" fill="#f07088"/>
<rect x="273.7" y="627.6" width="4.8" height="2.4" fill="#f03030"/>
<rect x="278.5" y="627.6" width="4.8" height="2.4" fill="#f89090"/>
<rect x="283.2" y="627.6" width="4.8" height="2.4" fill="#f89090"/>
<rect x="288" y="627.6" width="4.8" height="2.4" fill="#f89090"/>
<rect x="140" y="630" width="4.8" height="2.4" fill="#9090f8"/>
<rect x="144.8" y="630" width="4.8" height="2.4" fill="#9090f8"/>
<rect x="149.6" y="630" width="4.8" height="2.4" fill="#6a6af8"/>
<rect x="154.3" y="630" width="4.8" height="2.4" fill="#d0c8f0"/>
<rect x="159.1" y="630" width="4.8" height="2.4" fill="#4010c0"/>
<rect x="163.9" y="630" width="4.8" height="2.4" fill="#9090f8"/>
<rect x="168.7" y="630" width="4.8" height="2.4" fill="#d0c8f0"/>
<rect x="173.4" y="630" width="4.8" height="2.4" fill="#1c10d8"/>
<rect x="178.2" y="630" width="4.8" height="2.4" fill="#9090f8"/>
<rect x="183" y="630" width="4.8" height="2.4" fill="#4010c0"/>
<rect x="187.8" y="630" width="4.8" height="2.4" fill="#f85858"/>
<rect x="192.5" y="630" width="4.8" height="2.4" fill="#f89090"/>
<rect x="197.3" y="630" width="4.8" height="2.4" fill="#e0e0fc"/>
<rect x="202.1" y="630" width="4.8" height="2.4" fill="#f07088"/>
<rect x="206.9" y="630" width="4.8" height="2.4" fill="#f07088"/>
<rect x="211.6" y="630" width="4.8" height="2.4" fill="#f03030"/>
<rect x="216.4" y="630" width="4.8" height="2.4" fill="#f85858"/>
<rect x="221.2" y="630" width="4.8" height="2.4" fill="#f85858"/>
<rect x="225.9" y="630" width="4.8" height="2.4" fill="#f4c8f0"/>
<rect x="230.7" y="630" width="4.8" height="2.4" fill="#f85858"/>
<rect x="235.5" y="630" width="4.8" height="2.4" fill="#f07088"/>
<rect x="240.3" y="630" width="4.8" height="2.4" fill="#f03030"/>
<rect x="245.1" y="630" width="4.8" height="2.4" fill="#f07088"/>
<rect x="249.8" y="630" width="4.8" height="2.4" fill="#9090f8"/>
<rect x="254.6" y="630" width="4.8" height="2.4" fill="#f85858"/>
<rect x="259.4" y="630" width="4.8" height="2.4" fill="#e0e0fc"/>
<rect x="264.1" y="630" width="4.8" height="2.4" fill="#f07088"/>
<rect x="268.9" y="630" width="4.8" height="2.4" fill="#f89090"/>
<rect x="273.7" y="630" width="4.8" height="2.4" fill="#f85858"/>
<rect x="278.5" y="630" width="4.8" height="2.4" fill="#f85858"/>
<rect x="283.2" y="630" width="4.8" height="2.4" fill="#f03030"/>
<rect x="288" y="630" width="4.8" height="2.4" fill="#f89090"/>
<rect x="140" y="632.3" width="4.8" height="2.4" fill="#4010c0"/>
<rect x="144.8" y="632.3" width="4.8" height="2.4" fill="#d0c8f0"/>
<rect x="149.6" y="632.3" width="4.8" height="2.4" fill="#6a6af8"/>
<rect x="154.3" y="632.3" width="4.8" height="2.4" fill="#9090f8"/>
<rect x="159.1" y="632.3" width="4.8" height="2.4" fill="#4010c0"/>
<rect x="163.9" y="632.3" width="4.8" height="2.4" fill="#9090f8"/>
<rect x="168.7" y="632.3" width="4.8" height="2.4" fill="#6a6af8"/>
<rect x="173.4" y="632.3" width="4.8" height="2.4" fill="#4010c0"/>
<rect x="178.2" y="632.3" width="4.8" height="2.4" fill="#9090f8"/>
<rect x="183" y="632.3" width="4.8" height="2.4" fill="#4010c0"/>
<rect x="187.8" y="632.3" width="4.8" height="2.4" fill="#f4c8f0"/>
<rect x="192.5" y="632.3" width="4.8" height="2.4" fill="#d0c8f0"/>
<rect x="197.3" y="632.3" width="4.8" height="2.4" fill="#f89090"/>
<rect x="202.1" y="632.3" width="4.8" height="2.4" fill="#f89090"/>
<rect x="206.9" y="632.3" width="4.8" height="2.4" fill="#f4c8f0"/>
<rect x="211.6" y="632.3" width="4.8" height="2.4" fill="#e0e0fc"/>
<rect x="216.4" y="632.3" width="4.8" height="2.4" fill="#e0e0fc"/>
<rect x="221.2" y="632.3" width="4.8" height="2.4" fill="#f4c8f0"/>
<rect x="225.9" y="632.3" width="4.8" height="2.4" fill="#d0c8f0"/>
<rect x="230.7" y="632.3" width="4.8" height="2.4" fill="#f89090"/>
<rect x="235.5" y="632.3" width="4.8" height="2.4" fill="#f4c8f0"/>
<rect x="240.3" y="632.3" width="4.8" height="2.4" fill="#d0c8f0"/>
<rect x="245.1" y="632.3" width="4.8" height="2.4" fill="#f4c8f0"/>
<rect x="249.8" y="632.3" width="4.8" height="2.4" fill="#f89090"/>
<rect x="254.6" y="632.3" width="4.8" height="2.4" fill="#f07088"/>
<rect x="259.4" y="632.3" width="4.8" height="2.4" fill="#d0c8f0"/>
<rect x="264.1" y="632.3" width="4.8" height="2.4" fill="#f89090"/>
<rect x="268.9" y="632.3" width="4.8" height="2.4" fill="#f4c8f0"/>
<rect x="273.7" y="632.3" width="4.8" height="2.4" fill="#e0e0fc"/>
<rect x="278.5" y="632.3" width="4.8" height="2.4" fill="#f4c8f0"/>
<rect x="283.2" y="632.3" width="4.8" height="2.4" fill="#e0e0fc"/>
<rect x="288" y="632.3" width="4.8" height="2.4" fill="#9090f8"/>
<rect x="140" y="634.7" width="4.8" height="2.4" fill="#9090f8"/>
<rect x="144.8" y="634.7" width="4.8" height="2.4" fill="#e0e0fc"/>
<rect x="149.6" y="634.7" width="4.8" height="2.4" fill="#9090f8"/>
<rect x="154.3" y="634.7" width="4.8" height="2.4" fill="#d0c8f0"/>
<rect x="159.1" y="634.7" width="4.8" height="2.4" fill="#1c10d8"/>
<rect x="163.9" y="634.7" width="4.8" height="2.4" fill="#e0e0fc"/>
<rect x="168.7" y="634.7" width="4.8" height="2.4" fill="#d0c8f0"/>
<rect x="173.4" y="634.7" width="4.8" height="2.4" fill="#6a6af8"/>
<rect x="178.2" y="634.7" width="4.8" height="2.4" fill="#d0c8f0"/>
<rect x="183" y="634.7" width="4.8" height="2.4" fill="#1c10d8"/>
<rect x="187.8" y="634.7" width="4.8" height="2.4" fill="#e00808"/>
<rect x="192.5" y="634.7" width="4.8" height="2.4" fill="#f07088"/>
<rect x="197.3" y="634.7" width="4.8" height="2.4" fill="#f85858"/>
<rect x="202.1" y="634.7" width="4.8" height="2.4" fill="#f03030"/>
<rect x="206.9" y="634.7" width="4.8" height="2.4" fill="#f89090"/>
<rect x="211.6" y="634.7" width="4.8" height="2.4" fill="#f07088"/>
<rect x="216.4" y="634.7" width="4.8" height="2.4" fill="#f03030"/>
<rect x="221.2" y="634.7" width="4.8" height="2.4" fill="#f03030"/>
<rect x="225.9" y="634.7" width="4.8" height="2.4" fill="#f03030"/>
<rect x="230.7" y="634.7" width="4.8" height="2.4" fill="#f85858"/>
<rect x="235.5" y="634.7" width="4.8" height="2.4" fill="#f85858"/>
<rect x="240.3" y="634.7" width="4.8" height="2.4" fill="#f07088"/>
<rect x="245.1" y="634.7" width="4.8" height="2.4" fill="#f89090"/>
<rect x="249.8" y="634.7" width="4.8" height="2.4" fill="#f4c8f0"/>
<rect x="254.6" y="634.7" width="4.8" height="2.4" fill="#e00808"/>
<rect x="259.4" y="634.7" width="4.8" height="2.4" fill="#f03030"/>
<rect x="264.1" y="634.7" width="4.8" height="2.4" fill="#f85858"/>
<rect x="268.9" y="634.7" width="4.8" height="2.4" fill="#e0e0fc"/>
<rect x="273.7" y="634.7" width="4.8" height="2.4" fill="#e00808"/>
<rect x="278.5" y="634.7" width="4.8" height="2.4" fill="#e00808"/>
<rect x="283.2" y="634.7" width="4.8" height="2.4" fill="#f03030"/>
<rect x="288" y="634.7" width="4.8" height="2.4" fill="#f4c8f0"/>
<rect x="140" y="637.1" width="4.8" height="2.4" fill="#1c10d8"/>
<rect x="144.8" y="637.1" width="4.8" height="2.4" fill="#9090f8"/>
<rect x="149.6" y="637.1" width="4.8" height="2.4" fill="#9090f8"/>
<rect x="154.3" y="637.1" width="4.8" height="2.4" fill="#9090f8"/>
<rect x="159.1" y="637.1" width="4.8" height="2.4" fill="#4010c0"/>
<rect x="163.9" y="637.1" width="4.8" height="2.4" fill="#9090f8"/>
<rect x="168.7" y="637.1" width="4.8" height="2.4" fill="#1c10d8"/>
<rect x="173.4" y="637.1" width="4.8" height="2.4" fill="#4010c0"/>
<rect x="178.2" y="637.1" width="4.8" height="2.4" fill="#1c10d8"/>
<rect x="183" y="637.1" width="4.8" height="2.4" fill="#4010c0"/>
<rect x="187.8" y="637.1" width="4.8" height="2.4" fill="#e0e0fc"/>
<rect x="192.5" y="637.1" width="4.8" height="2.4" fill="#9090f8"/>
<rect x="197.3" y="637.1" width="4.8" height="2.4" fill="#9090f8"/>
<rect x="202.1" y="637.1" width="4.8" height="2.4" fill="#d0c8f0"/>
<rect x="206.9" y="637.1" width="4.8" height="2.4" fill="#d0c8f0"/>
<rect x="211.6" y="637.1" width="4.8" height="2.4" fill="#d0c8f0"/>
<rect x="216.4" y="637.1" width="4.8" height="2.4" fill="#d0c8f0"/>
<rect x="221.2" y="637.1" width="4.8" height="2.4" fill="#9090f8"/>
<rect x="225.9" y="637.1" width="4.8" height="2.4" fill="#f4c8f0"/>
<rect x="230.7" y="637.1" width="4.8" height="2.4" fill="#e0e0fc"/>
<rect x="235.5" y="637.1" width="4.8" height="2.4" fill="#1c10d8"/>
<rect x="240.3" y="637.1" width="4.8" height="2.4" fill="#9090f8"/>
<rect x="245.1" y="637.1" width="4.8" height="2.4" fill="#f4c8f0"/>
<rect x="249.8" y="637.1" width="4.8" height="2.4" fill="#d0c8f0"/>
<rect x="254.6" y="637.1" width="4.8" height="2.4" fill="#e0e0fc"/>
<rect x="259.4" y="637.1" width="4.8" height="2.4" fill="#f4c8f0"/>
<rect x="264.1" y="637.1" width="4.8" height="2.4" fill="#e0e0fc"/>
<rect x="268.9" y="637.1" width="4.8" height="2.4" fill="#f4c8f0"/>
<rect x="273.7" y="637.1" width="4.8" height="2.4" fill="#1c10d8"/>
<rect x="278.5" y="637.1" width="4.8" height="2.4" fill="#6a6af8"/>
<rect x="283.2" y="637.1" width="4.8" height="2.4" fill="#1c10d8"/>
<rect x="288" y="637.1" width="4.8" height="2.4" fill="#1c10d8"/>
<rect x="140" y="639.5" width="4.8" height="2.4" fill="#6a6af8"/>
<rect x="144.8" y="639.5" width="4.8" height="2.4" fill="#9090f8"/>
<rect x="149.6" y="639.5" width="4.8" height="2.4" fill="#6a6af8"/>
<rect x="154.3" y="639.5" width="4.8" height="2.4" fill="#9090f8"/>
<rect x="159.1" y="639.5" width="4.8" height="2.4" fill="#4010c0"/>
<rect x="163.9" y="639.5" width="4.8" height="2.4" fill="#1c10d8"/>
<rect x="168.7" y="639.5" width="4.8" height="2.4" fill="#6a6af8"/>
<rect x="173.4" y="639.5" width="4.8" height="2.4" fill="#4010c0"/>
<rect x="178.2" y="639.5" width="4.8" height="2.4" fill="#9090f8"/>
<rect x="183" y="639.5" width="4.8" height="2.4" fill="#4010c0"/>
<rect x="187.8" y="639.5" width="4.8" height="2.4" fill="#e0e0fc"/>
<rect x="192.5" y="639.5" width="4.8" height="2.4" fill="#e0e0fc"/>
<rect x="197.3" y="639.5" width="4.8" height="2.4" fill="#f4c8f0"/>
<rect x="202.1" y="639.5" width="4.8" height="2.4" fill="#f03030"/>
<rect x="206.9" y="639.5" width="4.8" height="2.4" fill="#d0c8f0"/>
<rect x="211.6" y="639.5" width="4.8" height="2.4" fill="#e0e0fc"/>
<rect x="216.4" y="639.5" width="4.8" height="2.4" fill="#e0e0fc"/>
<rect x="221.2" y="639.5" width="4.8" height="2.4" fill="#f89090"/>
<rect x="225.9" y="639.5" width="4.8" height="2.4" fill="#e0e0fc"/>
<rect x="230.7" y="639.5" width="4.8" height="2.4" fill="#f07088"/>
<rect x="235.5" y="639.5" width="4.8" height="2.4" fill="#f07088"/>
<rect x="240.3" y="639.5" width="4.8" height="2.4" fill="#f89090"/>
<rect x="245.1" y="639.5" width="4.8" height="2.4" fill="#f07088"/>
<rect x="249.8" y="639.5" width="4.8" height="2.4" fill="#f07088"/>
<rect x="254.6" y="639.5" width="4.8" height="2.4" fill="#f89090"/>
<rect x="259.4" y="639.5" width="4.8" height="2.4" fill="#e0e0fc"/>
<rect x="264.1" y="639.5" width="4.8" height="2.4" fill="#f4c8f0"/>
<rect x="268.9" y="639.5" width="4.8" height="2.4" fill="#9090f8"/>
<rect x="273.7" y="639.5" width="4.8" height="2.4" fill="#9090f8"/>
<rect x="278.5" y="639.5" width="4.8" height="2.4" fill="#f89090"/>
<rect x="283.2" y="639.5" width="4.8" height="2.4" fill="#f85858"/>
<rect x="288" y="639.5" width="4.8" height="2.4" fill="#9090f8"/>
<rect x="140" y="641.8" width="4.8" height="2.4" fill="#1c10d8"/>
<rect x="144.8" y="641.8" width="4.8" height="2.4" fill="#d0c8f0"/>
<rect x="149.6" y="641.8" width="4.8" height="2.4" fill="#6a6af8"/>
<rect x="154.3" y="641.8" width="4.8" height="2.4" fill="#6a6af8"/>
<rect x="159.1" y="641.8" width="4.8" height="2.4" fill="#4010c0"/>
<rect x="163.9" y="641.8" width="4.8" height="2.4" fill="#6a6af8"/>
<rect x="168.7" y="641.8" width="4.8" height="2.4" fill="#6a6af8"/>
<rect x="173.4" y="641.8" width="4.8" height="2.4" fill="#1c10d8"/>
<rect x="178.2" y="641.8" width="4.8" height="2.4" fill="#6a6af8"/>
<rect x="183" y="641.8" width="4.8" height="2.4" fill="#4010c0"/>
<rect x="187.8" y="641.8" width="4.8" height="2.4" fill="#f85858"/>
<rect x="192.5" y="641.8" width="4.8" height="2.4" fill="#f4c8f0"/>
<rect x="197.3" y="641.8" width="4.8" height="2.4" fill="#f07088"/>
<rect x="202.1" y="641.8" width="4.8" height="2.4" fill="#f85858"/>
<rect x="206.9" y="641.8" width="4.8" height="2.4" fill="#f07088"/>
<rect x="211.6" y="641.8" width="4.8" height="2.4" fill="#f4c8f0"/>
<rect x="216.4" y="641.8" width="4.8" height="2.4" fill="#f03030"/>
<rect x="221.2" y="641.8" width="4.8" height="2.4" fill="#f07088"/>
<rect x="225.9" y="641.8" width="4.8" height="2.4" fill="#f07088"/>
<rect x="230.7" y="641.8" width="4.8" height="2.4" fill="#f89090"/>
<rect x="235.5" y="641.8" width="4.8" height="2.4" fill="#9090f8"/>
<rect x="240.3" y="641.8" width="4.8" height="2.4" fill="#f4c8f0"/>
<rect x="245.1" y="641.8" width="4.8" height="2.4" fill="#f4c8f0"/>
<rect x="249.8" y="641.8" width="4.8" height="2.4" fill="#f4c8f0"/>
<rect x="254.6" y="641.8" width="4.8" height="2.4" fill="#f07088"/>
<rect x="259.4" y="641.8" width="4.8" height="2.4" fill="#f89090"/>
<rect x="264.1" y="641.8" width="4.8" height="2.4" fill="#f4c8f0"/>
<rect x="268.9" y="641.8" width="4.8" height="2.4" fill="#f07088"/>
<rect x="273.7" y="641.8" width="4.8" height="2.4" fill="#f4c8f0"/>
<rect x="278.5" y="641.8" width="4.8" height="2.4" fill="#f07088"/>
<rect x="283.2" y="641.8" width="4.8" height="2.4" fill="#f07088"/>
<rect x="288" y="641.8" width="4.8" height="2.4" fill="#e0e0fc"/>
<rect x="140" y="644.2" width="4.8" height="2.4" fill="#9090f8"/>
<rect x="144.8" y="644.2" width="4.8" height="2.4" fill="#9090f8"/>
<rect x="149.6" y="644.2" width="4.8" height="2.4" fill="#9090f8"/>
<rect x="154.3" y="644.2" width="4.8" height="2.4" fill="#9090f8"/>
<rect x="159.1" y="644.2" width="4.8" height="2.4" fill="#4010c0"/>
<rect x="163.9" y="644.2" width="4.8" height="2.4" fill="#d0c8f0"/>
<rect x="168.7" y="644.2" width="4.8" height="2.4" fill="#6a6af8"/>
<rect x="173.4" y="644.2" width="4.8" height="2.4" fill="#4010c0"/>
<rect x="178.2" y="644.2" width="4.8" height="2.4" fill="#9090f8"/>
<rect x="183" y="644.2" width="4.8" height="2.4" fill="#4010c0"/>
<rect x="187.8" y="644.2" width="4.8" height="2.4" fill="#f07088"/>
<rect x="192.5" y="644.2" width="4.8" height="2.4" fill="#f89090"/>
<rect x="197.3" y="644.2" width="4.8" height="2.4" fill="#f89090"/>
<rect x="202.1" y="644.2" width="4.8" height="2.4" fill="#f4c8f0"/>
<rect x="206.9" y="644.2" width="4.8" height="2.4" fill="#f07088"/>
<rect x="211.6" y="644.2" width="4.8" height="2.4" fill="#f89090"/>
<rect x="216.4" y="644.2" width="4.8" height="2.4" fill="#f4c8f0"/>
<rect x="221.2" y="644.2" width="4.8" height="2.4" fill="#f89090"/>
<rect x="225.9" y="644.2" width="4.8" height="2.4" fill="#f07088"/>
<rect x="230.7" y="644.2" width="4.8" height="2.4" fill="#f85858"/>
<rect x="235.5" y="644.2" width="4.8" height="2.4" fill="#f89090"/>
<rect x="240.3" y="644.2" width="4.8" height="2.4" fill="#d0c8f0"/>
<rect x="245.1" y="644.2" width="4.8" height="2.4" fill="#d0c8f0"/>
<rect x="249.8" y="644.2" width="4.8" height="2.4" fill="#f85858"/>
<rect x="254.6" y="644.2" width="4.8" height="2.4" fill="#f89090"/>
<rect x="259.4" y="644.2" width="4.8" height="2.4" fill="#f4c8f0"/>
<rect x="264.1" y="644.2" width="4.8" height="2.4" fill="#f89090"/>
<rect x="268.9" y="644.2" width="4.8" height="2.4" fill="#f89090"/>
<rect x="273.7" y="644.2" width="4.8" height="2.4" fill="#e0e0fc"/>
<rect x="278.5" y="644.2" width="4.8" height="2.4" fill="#f4c8f0"/>
<rect x="283.2" y="644.2" width="4.8" height="2.4" fill="#e0e0fc"/>
<rect x="288" y="644.2" width="4.8" height="2.4" fill="#9090f8"/>
<rect x="140" y="646.6" width="4.8" height="2.4" fill="#6a6af8"/>
<rect x="144.8" y="646.6" width="4.8" height="2.4" fill="#1c10d8"/>
<rect x="149.6" y="646.6" width="4.8" height="2.4" fill="#4010c0"/>
<rect x="154.3" y="646.6" width="4.8" height="2.4" fill="#6a6af8"/>
<rect x="159.1" y="646.6" width="4.8" height="2.4" fill="#4010c0"/>
<rect x="163.9" y="646.6" width="4.8" height="2.4" fill="#1c10d8"/>
<rect x="168.7" y="646.6" width="4.8" height="2.4" fill="#9090f8"/>
<rect x="173.4" y="646.6" width="4.8" height="2.4" fill="#4010c0"/>
<rect x="178.2" y="646.6" width="4.8" height="2.4" fill="#6a6af8"/>
<rect x="183" y="646.6" width="4.8" height="2.4" fill="#4010c0"/>
<rect x="187.8" y="646.6" width="4.8" height="2.4" fill="#f4c8f0"/>
<rect x="192.5" y="646.6" width="4.8" height="2.4" fill="#6a6af8"/>
<rect x="197.3" y="646.6" width="4.8" height="2.4" fill="#e0e0fc"/>
<rect x="202.1" y="646.6" width="4.8" height="2.4" fill="#f07088"/>
<rect x="206.9" y="646.6" width="4.8" height="2.4" fill="#f4c8f0"/>
<rect x="211.6" y="646.6" width="4.8" height="2.4" fill="#f89090"/>
<rect x="216.4" y="646.6" width="4.8" height="2.4" fill="#f89090"/>
<rect x="221.2" y="646.6" width="4.8" height="2.4" fill="#f07088"/>
<rect x="225.9" y="646.6" width="4.8" height="2.4" fill="#4010c0"/>
<rect x="230.7" y="646.6" width="4.8" height="2.4" fill="#f89090"/>
<rect x="235.5" y="646.6" width="4.8" height="2.4" fill="#e0e0fc"/>
<rect x="240.3" y="646.6" width="4.8" height="2.4" fill="#f89090"/>
<rect x="245.1" y="646.6" width="4.8" height="2.4" fill="#f4c8f0"/>
<rect x="249.8" y="646.6" width="4.8" height="2.4" fill="#d0c8f0"/>
<rect x="254.6" y="646.6" width="4.8" height="2.4" fill="#f89090"/>
<rect x="259.4" y="646.6" width="4.8" height="2.4" fill="#f4c8f0"/>
<rect x="264.1" y="646.6" width="4.8" height="2.4" fill="#e0e0fc"/>
<rect x="268.9" y="646.6" width="4.8" height="2.4" fill="#f89090"/>
<rect x="273.7" y="646.6" width="4.8" height="2.4" fill="#f4c8f0"/>
<rect x="278.5" y="646.6" width="4.8" height="2.4" fill="#e0e0fc"/>
<rect x="283.2" y="646.6" width="4.8" height="2.4" fill="#f89090"/>
<rect x="288" y="646.6" width="4.8" height="2.4" fill="#1c10d8"/>
<rect x="140" y="649" width="4.8" height="2.4" fill="#6a6af8"/>
<rect x="144.8" y="649" width="4.8" height="2.4" fill="#9090f8"/>
<rect x="149.6" y="649" width="4.8" height="2.4" fill="#d0c8f0"/>
<rect x="154.3" y="649" width="4.8" height="2.4" fill="#d0c8f0"/>
<rect x="159.1" y="649" width="4.8" height="2.4" fill="#4010c0"/>
<rect x="163.9" y="649" width="4.8" height="2.4" fill="#e0e0fc"/>
<rect x="168.7" y="649" width="4.8" height="2.4" fill="#e0e0fc"/>
<rect x="173.4" y="649" width="4.8" height="2.4" fill="#6a6af8"/>
<rect x="178.2" y="649" width="4.8" height="2.4" fill="#d0c8f0"/>
<rect x="183" y="649" width="4.8" height="2.4" fill="#4010c0"/>
<rect x="187.8" y="649" width="4.8" height="2.4" fill="#e00808"/>
<rect x="192.5" y="649" width="4.8" height="2.4" fill="#f07088"/>
<rect x="197.3" y="649" width="4.8" height="2.4" fill="#e00808"/>
<rect x="202.1" y="649" width="4.8" height="2.4" fill="#e00808"/>
<rect x="206.9" y="649" width="4.8" height="2.4" fill="#f89090"/>
<rect x="211.6" y="649" width="4.8" height="2.4" fill="#f89090"/>
<rect x="216.4" y="649" width="4.8" height="2.4" fill="#f07088"/>
<rect x="221.2" y="649" width="4.8" height="2.4" fill="#f03030"/>
<rect x="225.9" y="649" width="4.8" height="2.4" fill="#f89090"/>
<rect x="230.7" y="649" width="4.8" height="2.4" fill="#e0e0fc"/>
<rect x="235.5" y="649" width="4.8" height="2.4" fill="#f07088"/>
<rect x="240.3" y="649" width="4.8" height="2.4" fill="#f85858"/>
<rect x="245.1" y="649" width="4.8" height="2.4" fill="#f85858"/>
<rect x="249.8" y="649" width="4.8" height="2.4" fill="#f4c8f0"/>
<rect x="254.6" y="649" width="4.8" height="2.4" fill="#f4c8f0"/>
<rect x="259.4" y="649" width="4.8" height="2.4" fill="#f07088"/>
<rect x="264.1" y="649" width="4.8" height="2.4" fill="#f85858"/>
<rect x="268.9" y="649" width="4.8" height="2.4" fill="#f85858"/>
<rect x="273.7" y="649" width="4.8" height="2.4" fill="#f85858"/>
<rect x="278.5" y="649" width="4.8" height="2.4" fill="#e00808"/>
<rect x="283.2" y="649" width="4.8" height="2.4" fill="#e00808"/>
<rect x="288" y="649" width="4.8" height="2.4" fill="#e0e0fc"/>
<rect x="140" y="651.4" width="4.8" height="2.4" fill="#6a6af8"/>
<rect x="144.8" y="651.4" width="4.8" height="2.4" fill="#9090f8"/>
<rect x="149.6" y="651.4" width="4.8" height="2.4" fill="#6a6af8"/>
<rect x="154.3" y="651.4" width="4.8" height="2.4" fill="#d0c8f0"/>
<rect x="159.1" y="651.4" width="4.8" height="2.4" fill="#4010c0"/>
<rect x="163.9" y="651.4" width="4.8" height="2.4" fill="#9090f8"/>
<rect x="168.7" y="651.4" width="4.8" height="2.4" fill="#6a6af8"/>
<rect x="173.4" y="651.4" width="4.8" height="2.4" fill="#1c10d8"/>
<rect x="178.2" y="651.4" width="4.8" height="2.4" fill="#6a6af8"/>
<rect x="183" y="651.4" width="4.8" height="2.4" fill="#4010c0"/>
<rect x="187.8" y="651.4" width="4.8" height="2.4" fill="#f03030"/>
<rect x="192.5" y="651.4" width="4.8" height="2.4" fill="#f07088"/>
<rect x="197.3" y="651.4" width="4.8" height="2.4" fill="#f4c8f0"/>
<rect x="202.1" y="651.4" width="4.8" height="2.4" fill="#f07088"/>
<rect x="206.9" y="651.4" width="4.8" height="2.4" fill="#e0e0fc"/>
<rect x="211.6" y="651.4" width="4.8" height="2.4" fill="#e0e0fc"/>
<rect x="216.4" y="651.4" width="4.8" height="2.4" fill="#f85858"/>
<rect x="221.2" y="651.4" width="4.8" height="2.4" fill="#f07088"/>
<rect x="225.9" y="651.4" width="4.8" height="2.4" fill="#f85858"/>
<rect x="230.7" y="651.4" width="4.8" height="2.4" fill="#f89090"/>
<rect x="235.5" y="651.4" width="4.8" height="2.4" fill="#f07088"/>
<rect x="240.3" y="651.4" width="4.8" height="2.4" fill="#f07088"/>
<rect x="245.1" y="651.4" width="4.8" height="2.4" fill="#f07088"/>
<rect x="249.8" y="651.4" width="4.8" height="2.4" fill="#f4c8f0"/>
<rect x="254.6" y="651.4" width="4.8" height="2.4" fill="#f03030"/>
<rect x="259.4" y="651.4" width="4.8" height="2.4" fill="#f89090"/>
<rect x="264.1" y="651.4" width="4.8" height="2.4" fill="#f89090"/>
<rect x="268.9" y="651.4" width="4.8" height="2.4" fill="#f07088"/>
<rect x="273.7" y="651.4" width="4.8" height="2.4" fill="#f89090"/>
<rect x="278.5" y="651.4" width="4.8" height="2.4" fill="#f85858"/>
<rect x="283.2" y="651.4" width="4.8" height="2.4" fill="#f85858"/>
<rect x="288" y="651.4" width="4.8" height="2.4" fill="#d0c8f0"/>
<rect x="140" y="653.7" width="4.8" height="2.4" fill="#6a6af8"/>
<rect x="144.8" y="653.7" width="4.8" height="2.4" fill="#e0e0fc"/>
<rect x="149.6" y="653.7" width="4.8" height="2.4" fill="#e0e0fc"/>
<rect x="154.3" y="653.7" width="4.8" height="2.4" fill="#e0e0fc"/>
<rect x="159.1" y="653.7" width="4.8" height="2.4" fill="#1c10d8"/>
<rect x="163.9" y="653.7" width="4.8" height="2.4" fill="#e0e0fc"/>
<rect x="168.7" y="653.7" width="4.8" height="2.4" fill="#e0e0fc"/>
<rect x="173.4" y="653.7" width="4.8" height="2.4" fill="#6a6af8"/>
<rect x="178.2" y="653.7" width="4.8" height="2.4" fill="#9090f8"/>
<rect x="183" y="653.7" width="4.8" height="2.4" fill="#6a6af8"/>
<rect x="187.8" y="653.7" width="4.8" height="2.4" fill="#e00808"/>
<rect x="192.5" y="653.7" width="4.8" height="2.4" fill="#f07088"/>
<rect x="197.3" y="653.7" width="4.8" height="2.4" fill="#e00808"/>
<rect x="202.1" y="653.7" width="4.8" height="2.4" fill="#f85858"/>
<rect x="206.9" y="653.7" width="4.8" height="2.4" fill="#f03030"/>
<rect x="211.6" y="653.7" width="4.8" height="2.4" fill="#f03030"/>
<rect x="216.4" y="653.7" width="4.8" height="2.4" fill="#e00808"/>
<rect x="221.2" y="653.7" width="4.8" height="2.4" fill="#e00808"/>
<rect x="225.9" y="653.7" width="4.8" height="2.4" fill="#f03030"/>
<rect x="230.7" y="653.7" width="4.8" height="2.4" fill="#f03030"/>
<rect x="235.5" y="653.7" width="4.8" height="2.4" fill="#f07088"/>
<rect x="240.3" y="653.7" width="4.8" height="2.4" fill="#e00808"/>
<rect x="245.1" y="653.7" width="4.8" height="2.4" fill="#e00808"/>
<rect x="249.8" y="653.7" width="4.8" height="2.4" fill="#e00808"/>
<rect x="254.6" y="653.7" width="4.8" height="2.4" fill="#f85858"/>
<rect x="259.4" y="653.7" width="4.8" height="2.4" fill="#e00808"/>
<rect x="264.1" y="653.7" width="4.8" height="2.4" fill="#f85858"/>
<rect x="268.9" y="653.7" width="4.8" height="2.4" fill="#f85858"/>
<rect x="273.7" y="653.7" width="4.8" height="2.4" fill="#f85858"/>
<rect x="278.5" y="653.7" width="4.8" height="2.4" fill="#e00808"/>
<rect x="283.2" y="653.7" width="4.8" height="2.4" fill="#e00808"/>
<rect x="288" y="653.7" width="4.8" height="2.4" fill="#e0e0fc"/>
<rect x="140" y="656.1" width="4.8" height="2.4" fill="#1c10d8"/>
<rect x="144.8" y="656.1" width="4.8" height="2.4" fill="#9090f8"/>
<rect x="149.6" y="656.1" width="4.8" height="2.4" fill="#4010c0"/>
<rect x="154.3" y="656.1" width="4.8" height="2.4" fill="#9090f8"/>
<rect x="159.1" y="656.1" width="4.8" height="2.4" fill="#4010c0"/>
<rect x="163.9" y="656.1" width="4.8" height="2.4" fill="#d0c8f0"/>
<rect x="168.7" y="656.1" width="4.8" height="2.4" fill="#6a6af8"/>
<rect x="173.4" y="656.1" width="4.8" height="2.4" fill="#4010c0"/>
<rect x="178.2" y="656.1" width="4.8" height="2.4" fill="#6a6af8"/>
<rect x="183" y="656.1" width="4.8" height="2.4" fill="#4010c0"/>
<rect x="187.8" y="656.1" width="4.8" height="2.4" fill="#f4c8f0"/>
<rect x="192.5" y="656.1" width="4.8" height="2.4" fill="#f4c8f0"/>
<rect x="197.3" y="656.1" width="4.8" height="2.4" fill="#f4c8f0"/>
<rect x="202.1" y="656.1" width="4.8" height="2.4" fill="#9090f8"/>
<rect x="206.9" y="656.1" width="4.8" height="2.4" fill="#e0e0fc"/>
<rect x="211.6" y="656.1" width="4.8" height="2.4" fill="#9090f8"/>
<rect x="216.4" y="656.1" width="4.8" height="2.4" fill="#d0c8f0"/>
<rect x="221.2" y="656.1" width="4.8" height="2.4" fill="#e0e0fc"/>
<rect x="225.9" y="656.1" width="4.8" height="2.4" fill="#f07088"/>
<rect x="230.7" y="656.1" width="4.8" height="2.4" fill="#f07088"/>
<rect x="235.5" y="656.1" width="4.8" height="2.4" fill="#f89090"/>
<rect x="240.3" y="656.1" width="4.8" height="2.4" fill="#f07088"/>
<rect x="245.1" y="656.1" width="4.8" height="2.4" fill="#f85858"/>
<rect x="249.8" y="656.1" width="4.8" height="2.4" fill="#f4c8f0"/>
<rect x="254.6" y="656.1" width="4.8" height="2.4" fill="#e0e0fc"/>
<rect x="259.4" y="656.1" width="4.8" height="2.4" fill="#e0e0fc"/>
<rect x="264.1" y="656.1" width="4.8" height="2.4" fill="#d0c8f0"/>
<rect x="268.9" y="656.1" width="4.8" height="2.4" fill="#f85858"/>
<rect x="273.7" y="656.1" width="4.8" height="2.4" fill="#f4c8f0"/>
<rect x="278.5" y="656.1" width="4.8" height="2.4" fill="#d0c8f0"/>
<rect x="283.2" y="656.1" width="4.8" height="2.4" fill="#f85858"/>
<rect x="288" y="656.1" width="4.8" height="2.4" fill="#1c10d8"/>
<rect x="140" y="658.5" width="4.8" height="2.4" fill="#1c10d8"/>
<rect x="144.8" y="658.5" width="4.8" height="2.4" fill="#9090f8"/>
<rect x="149.6" y="658.5" width="4.8" height="2.4" fill="#6a6af8"/>
<rect x="154.3" y="658.5" width="4.8" height="2.4" fill="#9090f8"/>
<rect x="159.1" y="658.5" width="4.8" height="2.4" fill="#4010c0"/>
<rect x="163.9" y="658.5" width="4.8" height="2.4" fill="#d0c8f0"/>
<rect x="168.7" y="658.5" width="4.8" height="2.4" fill="#9090f8"/>
<rect x="173.4" y="658.5" width="4.8" height="2.4" fill="#1c10d8"/>
<rect x="178.2" y="658.5" width="4.8" height="2.4" fill="#9090f8"/>
<rect x="183" y="658.5" width="4.8" height="2.4" fill="#4010c0"/>
<rect x="187.8" y="658.5" width="4.8" height="2.4" fill="#e00808"/>
<rect x="192.5" y="658.5" width="4.8" height="2.4" fill="#e0e0fc"/>
<rect x="197.3" y="658.5" width="4.8" height="2.4" fill="#f4c8f0"/>
<rect x="202.1" y="658.5" width="4.8" height="2.4" fill="#f89090"/>
<rect x="206.9" y="658.5" width="4.8" height="2.4" fill="#f89090"/>
<rect x="211.6" y="658.5" width="4.8" height="2.4" fill="#f03030"/>
<rect x="216.4" y="658.5" width="4.8" height="2.4" fill="#f4c8f0"/>
<rect x="221.2" y="658.5" width="4.8" height="2.4" fill="#f07088"/>
<rect x="225.9" y="658.5" width="4.8" height="2.4" fill="#f07088"/>
<rect x="230.7" y="658.5" width="4.8" height="2.4" fill="#f07088"/>
<rect x="235.5" y="658.5" width="4.8" height="2.4" fill="#f89090"/>
<rect x="240.3" y="658.5" width="4.8" height="2.4" fill="#f85858"/>
<rect x="245.1" y="658.5" width="4.8" height="2.4" fill="#d0c8f0"/>
<rect x="249.8" y="658.5" width="4.8" height="2.4" fill="#f4c8f0"/>
<rect x="254.6" y="658.5" width="4.8" height="2.4" fill="#f89090"/>
<rect x="259.4" y="658.5" width="4.8" height="2.4" fill="#f85858"/>
<rect x="264.1" y="658.5" width="4.8" height="2.4" fill="#f07088"/>
<rect x="268.9" y="658.5" width="4.8" height="2.4" fill="#f07088"/>
<rect x="273.7" y="658.5" width="4.8" height="2.4" fill="#f89090"/>
<rect x="278.5" y="658.5" width="4.8" height="2.4" fill="#e0e0fc"/>
<rect x="283.2" y="658.5" width="4.8" height="2.4" fill="#f03030"/>
<rect x="288" y="658.5" width="4.8" height="2.4" fill="#f4c8f0"/>
<rect x="140" y="660.9" width="4.8" height="2.4" fill="#6a6af8"/>
<rect x="144.8" y="660.9" width="4.8" height="2.4" fill="#d0c8f0"/>
<rect x="149.6" y="660.9" width="4.8" height="2.4" fill="#d0c8f0"/>
<rect x="154.3" y="660.9" width="4.8" height="2.4" fill="#e0e0fc"/>
<rect x="159.1" y="660.9" width="4.8" height="2.4" fill="#4010c0"/>
<rect x="163.9" y="660.9" width="4.8" height="2.4" fill="#d0c8f0"/>
<rect x="168.7" y="660.9" width="4.8" height="2.4" fill="#9090f8"/>
<rect x="173.4" y="660.9" width="4.8" height="2.4" fill="#6a6af8"/>
<rect x="178.2" y="660.9" width="4.8" height="2.4" fill="#d0c8f0"/>
<rect x="183" y="660.9" width="4.8" height="2.4" fill="#1c10d8"/>
<rect x="187.8" y="660.9" width="4.8" height="2.4" fill="#f03030"/>
<rect x="192.5" y="660.9" width="4.8" height="2.4" fill="#f07088"/>
<rect x="197.3" y="660.9" width="4.8" height="2.4" fill="#e00808"/>
<rect x="202.1" y="660.9" width="4.8" height="2.4" fill="#f07088"/>
<rect x="206.9" y="660.9" width="4.8" height="2.4" fill="#9090f8"/>
<rect x="211.6" y="660.9" width="4.8" height="2.4" fill="#f89090"/>
<rect x="216.4" y="660.9" width="4.8" height="2.4" fill="#f03030"/>
<rect x="221.2" y="660.9" width="4.8" height="2.4" fill="#e0e0fc"/>
<rect x="225.9" y="660.9" width="4.8" height="2.4" fill="#e00808"/>
<rect x="230.7" y="660.9" width="4.8" height="2.4" fill="#f89090"/>
<rect x="235.5" y="660.9" width="4.8" height="2.4" fill="#f85858"/>
<rect x="240.3" y="660.9" width="4.8" height="2.4" fill="#f85858"/>
<rect x="245.1" y="660.9" width="4.8" height="2.4" fill="#f85858"/>
<rect x="249.8" y="660.9" width="4.8" height="2.4" fill="#f89090"/>
<rect x="254.6" y="660.9" width="4.8" height="2.4" fill="#f03030"/>
<rect x="259.4" y="660.9" width="4.8" height="2.4" fill="#f85858"/>
<rect x="264.1" y="660.9" width="4.8" height="2.4" fill="#e00808"/>
<rect x="268.9" y="660.9" width="4.8" height="2.4" fill="#e0e0fc"/>
<rect x="273.7" y="660.9" width="4.8" height="2.4" fill="#f89090"/>
<rect x="278.5" y="660.9" width="4.8" height="2.4" fill="#f4c8f0"/>
<rect x="283.2" y="660.9" width="4.8" height="2.4" fill="#f03030"/>
<rect x="288" y="660.9" width="4.8" height="2.4" fill="#e0e0fc"/>
<rect x="140" y="663.2" width="4.8" height="2.4" fill="#9090f8"/>
<rect x="144.8" y="663.2" width="4.8" height="2.4" fill="#d0c8f0"/>
<rect x="149.6" y="663.2" width="4.8" height="2.4" fill="#6a6af8"/>
<rect x="154.3" y="663.2" width="4.8" height="2.4" fill="#9090f8"/>
<rect x="159.1" y="663.2" width="4.8" height="2.4" fill="#4010c0"/>
<rect x="163.9" y="663.2" width="4.8" height="2.4" fill="#9090f8"/>
<rect x="168.7" y="663.2" width="4.8" height="2.4" fill="#6a6af8"/>
<rect x="173.4" y="663.2" width="4.8" height="2.4" fill="#1c10d8"/>
<rect x="178.2" y="663.2" width="4.8" height="2.4" fill="#9090f8"/>
<rect x="183" y="663.2" width="4.8" height="2.4" fill="#1c10d8"/>
<rect x="187.8" y="663.2" width="4.8" height="2.4" fill="#f03030"/>
<rect x="192.5" y="663.2" width="4.8" height="2.4" fill="#f03030"/>
<rect x="197.3" y="663.2" width="4.8" height="2.4" fill="#f4c8f0"/>
<rect x="202.1" y="663.2" width="4.8" height="2.4" fill="#f07088"/>
<rect x="206.9" y="663.2" width="4.8" height="2.4" fill="#e0e0fc"/>
<rect x="211.6" y="663.2" width="4.8" height="2.4" fill="#f89090"/>
<rect x="216.4" y="663.2" width="4.8" height="2.4" fill="#f03030"/>
<rect x="221.2" y="663.2" width="4.8" height="2.4" fill="#f07088"/>
<rect x="225.9" y="663.2" width="4.8" height="2.4" fill="#f89090"/>
<rect x="230.7" y="663.2" width="4.8" height="2.4" fill="#f89090"/>
<rect x="235.5" y="663.2" width="4.8" height="2.4" fill="#f03030"/>
<rect x="240.3" y="663.2" width="4.8" height="2.4" fill="#f89090"/>
<rect x="245.1" y="663.2" width="4.8" height="2.4" fill="#f4c8f0"/>
<rect x="249.8" y="663.2" width="4.8" height="2.4" fill="#f07088"/>
<rect x="254.6" y="663.2" width="4.8" height="2.4" fill="#f89090"/>
<rect x="259.4" y="663.2" width="4.8" height="2.4" fill="#f89090"/>
<rect x="264.1" y="663.2" width="4.8" height="2.4" fill="#f4c8f0"/>
<rect x="268.9" y="663.2" width="4.8" height="2.4" fill="#e0e0fc"/>
<rect x="273.7" y="663.2" width="4.8" height="2.4" fill="#f4c8f0"/>
<rect x="278.5" y="663.2" width="4.8" height="2.4" fill="#f85858"/>
<rect x="283.2" y="663.2" width="4.8" height="2.4" fill="#f03030"/>
<rect x="288" y="663.2" width="4.8" height="2.4" fill="#e0e0fc"/>
<rect x="140" y="665.6" width="4.8" height="2.4" fill="#d0c8f0"/>
<rect x="144.8" y="665.6" width="4.8" height="2.4" fill="#d0c8f0"/>
<rect x="149.6" y="665.6" width="4.8" height="2.4" fill="#9090f8"/>
<rect x="154.3" y="665.6" width="4.8" height="2.4" fill="#e0e0fc"/>
<rect x="159.1" y="665.6" width="4.8" height="2.4" fill="#1c10d8"/>
<rect x="163.9" y="665.6" width="4.8" height="2.4" fill="#e0e0fc"/>
<rect x="168.7" y="665.6" width="4.8" height="2.4" fill="#e0e0fc"/>
<rect x="173.4" y="665.6" width="4.8" height="2.4" fill="#6a6af8"/>
<rect x="178.2" y="665.6" width="4.8" height="2.4" fill="#d0c8f0"/>
<rect x="183" y="665.6" width="4.8" height="2.4" fill="#6a6af8"/>
<rect x="187.8" y="665.6" width="4.8" height="2.4" fill="#e00808"/>
<rect x="192.5" y="665.6" width="4.8" height="2.4" fill="#f03030"/>
<rect x="197.3" y="665.6" width="4.8" height="2.4" fill="#f85858"/>
<rect x="202.1" y="665.6" width="4.8" height="2.4" fill="#f03030"/>
<rect x="206.9" y="665.6" width="4.8" height="2.4" fill="#e00808"/>
<rect x="211.6" y="665.6" width="4.8" height="2.4" fill="#f07088"/>
<rect x="216.4" y="665.6" width="4.8" height="2.4" fill="#f85858"/>
<rect x="221.2" y="665.6" width="4.8" height="2.4" fill="#f85858"/>
<rect x="225.9" y="665.6" width="4.8" height="2.4" fill="#f89090"/>
<rect x="230.7" y="665.6" width="4.8" height="2.4" fill="#f85858"/>
<rect x="235.5" y="665.6" width="4.8" height="2.4" fill="#f85858"/>
<rect x="240.3" y="665.6" width="4.8" height="2.4" fill="#f85858"/>
<rect x="245.1" y="665.6" width="4.8" height="2.4" fill="#f07088"/>
<rect x="249.8" y="665.6" width="4.8" height="2.4" fill="#e00808"/>
<rect x="254.6" y="665.6" width="4.8" height="2.4" fill="#f07088"/>
<rect x="259.4" y="665.6" width="4.8" height="2.4" fill="#f03030"/>
<rect x="264.1" y="665.6" width="4.8" height="2.4" fill="#e00808"/>
<rect x="268.9" y="665.6" width="4.8" height="2.4" fill="#f85858"/>
<rect x="273.7" y="665.6" width="4.8" height="2.4" fill="#e00808"/>
<rect x="278.5" y="665.6" width="4.8" height="2.4" fill="#e00808"/>
<rect x="283.2" y="665.6" width="4.8" height="2.4" fill="#f07088"/>
<rect x="288" y="665.6" width="4.8" height="2.4" fill="#f85858"/>
</g>
<g stroke="#2a1430" fill="none">
<path d="M140,515.8V668M144.8,515.8V668M149.6,515.8V668M154.3,515.8V668M159.1,515.8V668M163.9,515.8V668M168.7,515.8V668M173.4,515.8V668M178.2,515.8V668M183,515.8V668M187.8,515.8V668M192.5,515.8V668M197.3,515.8V668M202.1,515.8V668M206.9,515.8V668M211.6,515.8V668M216.4,515.8V668M221.2,515.8V668M225.9,515.8V668M230.7,515.8V668M235.5,515.8V668M240.3,515.8V668M245.1,515.8V668M249.8,515.8V668M254.6,515.8V668M259.4,515.8V668M264.1,515.8V668M268.9,515.8V668M273.7,515.8V668M278.5,515.8V668M283.2,515.8V668M288,515.8V668M292.8,515.8V668" stroke-width="0.8" stroke-opacity="0.45"/>
<path d="M140,515.8H292.8M140,518.2H292.8M140,520.6H292.8M140,522.9H292.8M140,525.3H292.8M140,527.7H292.8M140,530.1H292.8M140,532.4H292.8M140,534.8H292.8M140,537.2H292.8M140,539.6H292.8M140,542H292.8M140,544.3H292.8M140,546.7H292.8M140,549.1H292.8M140,551.5H292.8M140,553.8H292.8M140,556.2H292.8M140,558.6H292.8M140,561H292.8M140,563.4H292.8M140,565.7H292.8M140,568.1H292.8M140,570.5H292.8M140,572.9H292.8M140,575.3H292.8M140,577.6H292.8M140,580H292.8M140,582.4H292.8M140,584.8H292.8M140,587.1H292.8M140,589.5H292.8M140,591.9H292.8M140,594.3H292.8M140,596.7H292.8M140,599H292.8M140,601.4H292.8M140,603.8H292.8M140,606.2H292.8M140,608.5H292.8M140,610.9H292.8M140,613.3H292.8M140,615.7H292.8M140,618.1H292.8M140,620.4H292.8M140,622.8H292.8M140,625.2H292.8M140,627.6H292.8M140,630H292.8M140,632.3H292.8M140,634.7H292.8M140,637.1H292.8M140,639.5H292.8M140,641.8H292.8M140,644.2H292.8M140,646.6H292.8M140,649H292.8M140,651.4H292.8M140,653.7H292.8M140,656.1H292.8M140,658.5H292.8M140,660.9H292.8M140,663.2H292.8M140,665.6H292.8M140,668H292.8" stroke-width="0.45" stroke-opacity="0.5"/>
</g>
<rect x="140" y="575" width="152.8" height="2.4" fill="#402838" fill-opacity="0.22"/>
<rect x="140" y="597" width="152.8" height="3" fill="#402838" fill-opacity="0.22"/>
<rect x="140" y="610" width="152.8" height="2.4" fill="#402838" fill-opacity="0.22"/>
<rect x="140" y="630" width="152.8" height="4.8" fill="#402838" fill-opacity="0.22"/>
<rect x="140" y="639" width="152.8" height="2.4" fill="#402838" fill-opacity="0.22"/>
<rect x="140" y="655" width="152.8" height="2.4" fill="#402838" fill-opacity="0.22"/>
<line x1="188" y1="515.8" x2="292" y2="515.8" stroke="#333" stroke-width="0.9" stroke-dasharray="1.3,1.6"/>
<g fill="none" stroke="#8aa2c4" stroke-width="1">
<path d="M143.2,502.3 V506.4 H182.4 V502.3 M163.2,506.4 V510.4"/>
<path d="M188,503 V506.4 H291.9 V502.3 M240,506.4 V509.3"/>
</g>
<g fill="none" stroke="#5a7cb8" stroke-width="1.15" stroke-linejoin="round">
<path d="M293.5,515.3 H304 Q306,515.3 306,517.5 V528 Q306,530.4 308.5,530.4 H318.5 M308.5,530.4 Q306,530.4 306,532.8 V542 Q306,544 304,544.2 L294.2,545.7"/>
<path d="M294.2,545.7 L305,547 Q306.8,547.3 306.8,549.5 V603.5 Q306.8,606.3 309.5,606.4 H319.2 M309.5,606.4 Q306.8,606.5 306.8,609 V661.5 Q306.8,665.5 303,665.6 H294.7"/>
</g>
<g font-weight="bold" fill="#111" stroke="#111" stroke-width="0.35">
<text x="156" y="503" font-size="12" textLength="22.7" lengthAdjust="spacingAndGlyphs">NBC</text>
<text x="220.4" y="502.5" font-size="12" textLength="43.5" lengthAdjust="spacingAndGlyphs">Patients</text>
</g>
<g fill="#111" font-size="12.1" stroke="#111" stroke-width="0.6">
<text x="325.2" y="536.2" textLength="178.6" lengthAdjust="spacingAndGlyphs">Hypermethylated loci in Patients</text>
<text x="327.5" y="612.3" textLength="173.1" lengthAdjust="spacingAndGlyphs">Hypomethylated loci in Patients</text>
</g>
<g font-size="5.6" font-weight="bold" fill="#000" stroke="#000" stroke-width="0.35" text-anchor="middle">
<text x="141.7" y="687.5" textLength="8.4" lengthAdjust="spacingAndGlyphs">-4.6</text>
<text x="154.2" y="687.5" textLength="8.4" lengthAdjust="spacingAndGlyphs">-3.7</text>
<text x="166.6" y="687.5" textLength="8.4" lengthAdjust="spacingAndGlyphs">-2.8</text>
<text x="179.1" y="687.5" textLength="8.4" lengthAdjust="spacingAndGlyphs">-1.8</text>
<text x="191.5" y="687.5" textLength="8.4" lengthAdjust="spacingAndGlyphs">-0.9</text>
<text x="204" y="687.5" textLength="8.4" lengthAdjust="spacingAndGlyphs">0.0</text>
<text x="216.4" y="687.5" textLength="8.4" lengthAdjust="spacingAndGlyphs">0.8</text>
<text x="228.9" y="687.5" textLength="8.4" lengthAdjust="spacingAndGlyphs">1.7</text>
<text x="241.3" y="687.5" textLength="8.4" lengthAdjust="spacingAndGlyphs">2.5</text>
<text x="253.8" y="687.5" textLength="8.4" lengthAdjust="spacingAndGlyphs">3.3</text>
<text x="266.2" y="687.5" textLength="8.4" lengthAdjust="spacingAndGlyphs">4.2</text>
<text x="278.7" y="687.5" textLength="8.4" lengthAdjust="spacingAndGlyphs">5.0</text>
</g>
<rect x="141.9" y="692.3" width="12.4" height="12" fill="#4010c0" stroke="#333" stroke-width="0.5"/>
<rect x="154.3" y="692.3" width="12.4" height="12" fill="#1c10d8" stroke="#333" stroke-width="0.5"/>
<rect x="166.8" y="692.3" width="12.4" height="12" fill="#6a6af8" stroke="#333" stroke-width="0.5"/>
<rect x="179.2" y="692.3" width="12.4" height="12" fill="#9090f8" stroke="#333" stroke-width="0.5"/>
<rect x="191.7" y="692.3" width="12.4" height="12" fill="#d0c8f0" stroke="#333" stroke-width="0.5"/>
<rect x="204.2" y="692.3" width="12.4" height="12" fill="#e0e0fc" stroke="#333" stroke-width="0.5"/>
<rect x="216.6" y="692.3" width="12.4" height="12" fill="#f4c8f0" stroke="#333" stroke-width="0.5"/>
<rect x="229.1" y="692.3" width="12.4" height="12" fill="#f89090" stroke="#333" stroke-width="0.5"/>
<rect x="241.5" y="692.3" width="12.4" height="12" fill="#f07088" stroke="#333" stroke-width="0.5"/>
<rect x="253.9" y="692.3" width="12.4" height="12" fill="#f85858" stroke="#333" stroke-width="0.5"/>
<rect x="266.4" y="692.3" width="12.4" height="12" fill="#f03030" stroke="#333" stroke-width="0.5"/>
<rect x="278.9" y="692.3" width="12.4" height="12" fill="#e00808" stroke="#333" stroke-width="0.5"/>
</svg>
</body></html>
